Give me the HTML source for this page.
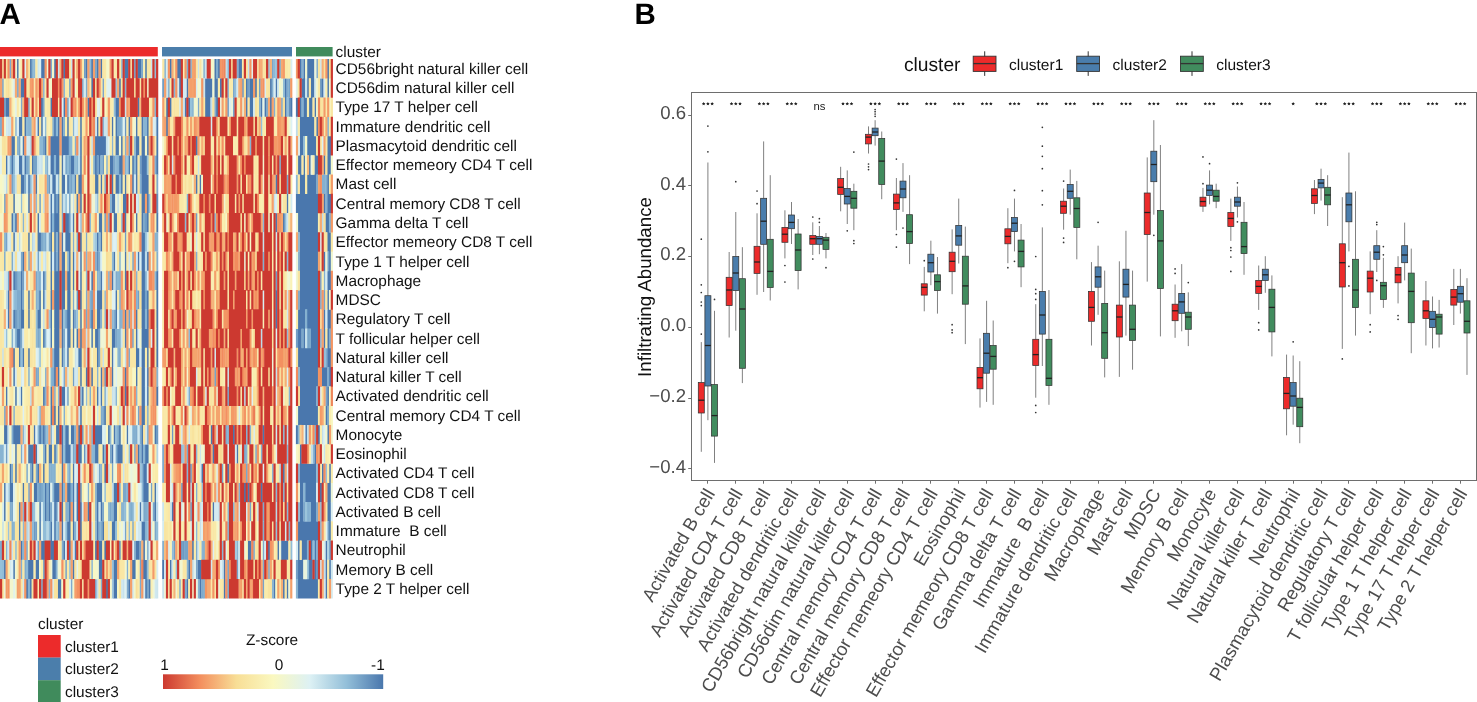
<!DOCTYPE html><html><head><meta charset="utf-8"><style>html,body{margin:0;padding:0;background:#fff;overflow:hidden}svg{display:block;will-change:transform}text{font-family:"Liberation Sans",sans-serif;text-rendering:geometricPrecision}</style></head><body>
<svg width="1477" height="702" viewBox="0 0 1477 702">
<text transform="translate(-0.50,23.70)" font-size="29.5" fill="#000" font-weight="bold" xml:space="preserve">A</text>
<text transform="translate(634.60,23.70)" font-size="29.5" fill="#000" font-weight="bold" xml:space="preserve">B</text>
<path fill="#4a77ad" d="M16.72 59.00h2.21v19.56h-2.21zM29.72 59.00h2.21v19.56h-2.21zM40.87 59.00h2.21v19.56h-2.21zM42.73 59.00h2.21v19.56h-2.21zM53.87 59.00h2.21v19.56h-2.21zM63.16 59.00h2.21v19.56h-2.21zM85.45 59.00h2.21v19.56h-2.21zM91.02 59.00h2.21v19.56h-2.21zM96.60 59.00h2.21v19.56h-2.21zM100.31 59.00h2.21v19.56h-2.21zM124.46 59.00h2.21v19.56h-2.21zM126.32 59.00h2.21v19.56h-2.21zM137.47 59.00h2.21v19.56h-2.21zM139.32 59.00h2.21v19.56h-2.21zM144.90 59.00h2.21v19.56h-2.21zM169.62 59.00h2.20v19.56h-2.20zM177.03 59.00h2.20v19.56h-2.20zM178.89 59.00h2.20v19.56h-2.20zM214.12 59.00h2.20v19.56h-2.20zM217.83 59.00h2.20v19.56h-2.20zM238.23 59.00h2.20v19.56h-2.20zM240.08 59.00h2.20v19.56h-2.20zM299.57 59.00h2.19v19.56h-2.19zM303.24 59.00h2.19v19.56h-2.19zM306.91 59.00h2.19v19.56h-2.19zM308.75 59.00h2.19v19.56h-2.19zM310.58 59.00h2.19v19.56h-2.19zM312.42 59.00h2.19v19.56h-2.19zM327.10 59.00h2.19v19.56h-2.19zM20.43 78.26h2.21v19.56h-2.21zM22.29 78.26h2.21v19.56h-2.21zM91.02 78.26h2.21v19.56h-2.21zM118.89 78.26h2.21v19.56h-2.21zM178.89 78.26h2.20v19.56h-2.20zM186.31 78.26h2.20v19.56h-2.20zM204.85 78.26h2.20v19.56h-2.20zM206.70 78.26h2.20v19.56h-2.20zM208.56 78.26h2.20v19.56h-2.20zM210.41 78.26h2.20v19.56h-2.20zM214.12 78.26h2.20v19.56h-2.20zM215.97 78.26h2.20v19.56h-2.20zM219.68 78.26h2.20v19.56h-2.20zM245.64 78.26h2.20v19.56h-2.20zM249.35 78.26h2.20v19.56h-2.20zM251.21 78.26h2.20v19.56h-2.20zM254.91 78.26h2.20v19.56h-2.20zM269.75 78.26h2.20v19.56h-2.20zM275.31 78.26h2.20v19.56h-2.20zM284.58 78.26h2.20v19.56h-2.20zM301.40 78.26h2.19v19.56h-2.19zM303.24 78.26h2.19v19.56h-2.19zM306.91 78.26h2.19v19.56h-2.19zM310.58 78.26h2.19v19.56h-2.19zM312.42 78.26h2.19v19.56h-2.19zM321.59 78.26h2.19v19.56h-2.19zM327.10 78.26h2.19v19.56h-2.19zM5.57 97.51h2.21v19.56h-2.21zM7.43 97.51h2.21v19.56h-2.21zM40.87 97.51h2.21v19.56h-2.21zM50.16 97.51h2.21v19.56h-2.21zM63.16 97.51h2.21v19.56h-2.21zM87.31 97.51h2.21v19.56h-2.21zM115.17 97.51h2.21v19.56h-2.21zM117.03 97.51h2.21v19.56h-2.21zM137.47 97.51h2.21v19.56h-2.21zM165.91 97.51h2.20v19.56h-2.20zM169.62 97.51h2.20v19.56h-2.20zM184.45 97.51h2.20v19.56h-2.20zM188.16 97.51h2.20v19.56h-2.20zM204.85 97.51h2.20v19.56h-2.20zM206.70 97.51h2.20v19.56h-2.20zM208.56 97.51h2.20v19.56h-2.20zM215.97 97.51h2.20v19.56h-2.20zM245.64 97.51h2.20v19.56h-2.20zM249.35 97.51h2.20v19.56h-2.20zM251.21 97.51h2.20v19.56h-2.20zM260.48 97.51h2.20v19.56h-2.20zM264.19 97.51h2.20v19.56h-2.20zM269.75 97.51h2.20v19.56h-2.20zM284.58 97.51h2.20v19.56h-2.20zM290.15 97.51h2.20v19.56h-2.20zM295.90 97.51h2.19v19.56h-2.19zM299.57 97.51h2.19v19.56h-2.19zM303.24 97.51h2.19v19.56h-2.19zM305.07 97.51h2.19v19.56h-2.19zM308.75 97.51h2.19v19.56h-2.19zM310.58 97.51h2.19v19.56h-2.19zM314.25 97.51h2.19v19.56h-2.19zM18.58 116.77h2.21v19.56h-2.21zM20.43 116.77h2.21v19.56h-2.21zM24.15 116.77h2.21v19.56h-2.21zM37.15 116.77h2.21v19.56h-2.21zM40.87 116.77h2.21v19.56h-2.21zM53.87 116.77h2.21v19.56h-2.21zM57.59 116.77h2.21v19.56h-2.21zM61.30 116.77h2.21v19.56h-2.21zM66.88 116.77h2.21v19.56h-2.21zM79.88 116.77h2.21v19.56h-2.21zM96.60 116.77h2.21v19.56h-2.21zM111.46 116.77h2.21v19.56h-2.21zM115.17 116.77h2.21v19.56h-2.21zM128.18 116.77h2.21v19.56h-2.21zM135.61 116.77h2.21v19.56h-2.21zM141.18 116.77h2.21v19.56h-2.21zM146.75 116.77h2.21v19.56h-2.21zM156.04 116.77h2.21v19.56h-2.21zM165.91 116.77h2.20v19.56h-2.20zM299.57 116.77h2.19v19.56h-2.19zM301.40 116.77h2.19v19.56h-2.19zM303.24 116.77h2.19v19.56h-2.19zM305.07 116.77h2.19v19.56h-2.19zM306.91 116.77h2.19v19.56h-2.19zM308.75 116.77h2.19v19.56h-2.19zM310.58 116.77h2.19v19.56h-2.19zM312.42 116.77h2.19v19.56h-2.19zM316.08 116.77h2.19v19.56h-2.19zM11.15 136.03h2.21v19.56h-2.21zM13.00 136.03h2.21v19.56h-2.21zM22.29 136.03h2.21v19.56h-2.21zM44.58 136.03h2.21v19.56h-2.21zM50.16 136.03h2.21v19.56h-2.21zM52.01 136.03h2.21v19.56h-2.21zM53.87 136.03h2.21v19.56h-2.21zM55.73 136.03h2.21v19.56h-2.21zM57.59 136.03h2.21v19.56h-2.21zM61.30 136.03h2.21v19.56h-2.21zM63.16 136.03h2.21v19.56h-2.21zM65.02 136.03h2.21v19.56h-2.21zM66.88 136.03h2.21v19.56h-2.21zM79.88 136.03h2.21v19.56h-2.21zM94.74 136.03h2.21v19.56h-2.21zM96.60 136.03h2.21v19.56h-2.21zM98.46 136.03h2.21v19.56h-2.21zM100.31 136.03h2.21v19.56h-2.21zM102.17 136.03h2.21v19.56h-2.21zM104.03 136.03h2.21v19.56h-2.21zM115.17 136.03h2.21v19.56h-2.21zM117.03 136.03h2.21v19.56h-2.21zM120.75 136.03h2.21v19.56h-2.21zM135.61 136.03h2.21v19.56h-2.21zM137.47 136.03h2.21v19.56h-2.21zM141.18 136.03h2.21v19.56h-2.21zM143.04 136.03h2.21v19.56h-2.21zM146.75 136.03h2.21v19.56h-2.21zM156.04 136.03h2.21v19.56h-2.21zM195.58 136.03h2.20v19.56h-2.20zM299.57 136.03h2.19v19.56h-2.19zM301.40 136.03h2.19v19.56h-2.19zM306.91 136.03h2.19v19.56h-2.19zM308.75 136.03h2.19v19.56h-2.19zM310.58 136.03h2.19v19.56h-2.19zM312.42 136.03h2.19v19.56h-2.19zM314.25 136.03h2.19v19.56h-2.19zM327.10 136.03h2.19v19.56h-2.19zM328.93 136.03h2.19v19.56h-2.19zM5.57 155.29h2.21v19.56h-2.21zM11.15 155.29h2.21v19.56h-2.21zM18.58 155.29h2.21v19.56h-2.21zM20.43 155.29h2.21v19.56h-2.21zM24.15 155.29h2.21v19.56h-2.21zM31.58 155.29h2.21v19.56h-2.21zM50.16 155.29h2.21v19.56h-2.21zM52.01 155.29h2.21v19.56h-2.21zM55.73 155.29h2.21v19.56h-2.21zM57.59 155.29h2.21v19.56h-2.21zM61.30 155.29h2.21v19.56h-2.21zM70.59 155.29h2.21v19.56h-2.21zM72.45 155.29h2.21v19.56h-2.21zM79.88 155.29h2.21v19.56h-2.21zM94.74 155.29h2.21v19.56h-2.21zM98.46 155.29h2.21v19.56h-2.21zM109.60 155.29h2.21v19.56h-2.21zM111.46 155.29h2.21v19.56h-2.21zM118.89 155.29h2.21v19.56h-2.21zM120.75 155.29h2.21v19.56h-2.21zM128.18 155.29h2.21v19.56h-2.21zM131.89 155.29h2.21v19.56h-2.21zM135.61 155.29h2.21v19.56h-2.21zM141.18 155.29h2.21v19.56h-2.21zM143.04 155.29h2.21v19.56h-2.21zM144.90 155.29h2.21v19.56h-2.21zM156.04 155.29h2.21v19.56h-2.21zM297.73 155.29h2.19v19.56h-2.19zM299.57 155.29h2.19v19.56h-2.19zM303.24 155.29h2.19v19.56h-2.19zM308.75 155.29h2.19v19.56h-2.19zM314.25 155.29h2.19v19.56h-2.19zM316.08 155.29h2.19v19.56h-2.19zM323.43 155.29h2.19v19.56h-2.19zM327.10 155.29h2.19v19.56h-2.19zM328.93 155.29h2.19v19.56h-2.19zM20.43 174.54h2.21v19.56h-2.21zM22.29 174.54h2.21v19.56h-2.21zM27.86 174.54h2.21v19.56h-2.21zM35.30 174.54h2.21v19.56h-2.21zM52.01 174.54h2.21v19.56h-2.21zM53.87 174.54h2.21v19.56h-2.21zM61.30 174.54h2.21v19.56h-2.21zM63.16 174.54h2.21v19.56h-2.21zM66.88 174.54h2.21v19.56h-2.21zM74.31 174.54h2.21v19.56h-2.21zM78.02 174.54h2.21v19.56h-2.21zM79.88 174.54h2.21v19.56h-2.21zM94.74 174.54h2.21v19.56h-2.21zM96.60 174.54h2.21v19.56h-2.21zM100.31 174.54h2.21v19.56h-2.21zM111.46 174.54h2.21v19.56h-2.21zM115.17 174.54h2.21v19.56h-2.21zM117.03 174.54h2.21v19.56h-2.21zM120.75 174.54h2.21v19.56h-2.21zM124.46 174.54h2.21v19.56h-2.21zM131.89 174.54h2.21v19.56h-2.21zM135.61 174.54h2.21v19.56h-2.21zM141.18 174.54h2.21v19.56h-2.21zM143.04 174.54h2.21v19.56h-2.21zM144.90 174.54h2.21v19.56h-2.21zM146.75 174.54h2.21v19.56h-2.21zM195.58 174.54h2.20v19.56h-2.20zM199.29 174.54h2.20v19.56h-2.20zM275.31 174.54h2.20v19.56h-2.20zM299.57 174.54h2.19v19.56h-2.19zM301.40 174.54h2.19v19.56h-2.19zM303.24 174.54h2.19v19.56h-2.19zM306.91 174.54h2.19v19.56h-2.19zM308.75 174.54h2.19v19.56h-2.19zM310.58 174.54h2.19v19.56h-2.19zM312.42 174.54h2.19v19.56h-2.19zM314.25 174.54h2.19v19.56h-2.19zM327.10 174.54h2.19v19.56h-2.19zM13.00 193.80h2.21v19.56h-2.21zM27.86 193.80h2.21v19.56h-2.21zM50.16 193.80h2.21v19.56h-2.21zM53.87 193.80h2.21v19.56h-2.21zM57.59 193.80h2.21v19.56h-2.21zM76.16 193.80h2.21v19.56h-2.21zM79.88 193.80h2.21v19.56h-2.21zM111.46 193.80h2.21v19.56h-2.21zM113.32 193.80h2.21v19.56h-2.21zM122.60 193.80h2.21v19.56h-2.21zM124.46 193.80h2.21v19.56h-2.21zM141.18 193.80h2.21v19.56h-2.21zM143.04 193.80h2.21v19.56h-2.21zM146.75 193.80h2.21v19.56h-2.21zM286.44 193.80h2.20v19.56h-2.20zM295.90 193.80h2.19v19.56h-2.19zM297.73 193.80h2.19v19.56h-2.19zM299.57 193.80h2.19v19.56h-2.19zM301.40 193.80h2.19v19.56h-2.19zM303.24 193.80h2.19v19.56h-2.19zM305.07 193.80h2.19v19.56h-2.19zM306.91 193.80h2.19v19.56h-2.19zM308.75 193.80h2.19v19.56h-2.19zM310.58 193.80h2.19v19.56h-2.19zM312.42 193.80h2.19v19.56h-2.19zM314.25 193.80h2.19v19.56h-2.19zM316.08 193.80h2.19v19.56h-2.19zM323.43 193.80h2.19v19.56h-2.19zM327.10 193.80h2.19v19.56h-2.19zM328.93 193.80h2.19v19.56h-2.19zM11.15 213.06h2.21v19.56h-2.21zM14.86 213.06h2.21v19.56h-2.21zM37.15 213.06h2.21v19.56h-2.21zM50.16 213.06h2.21v19.56h-2.21zM53.87 213.06h2.21v19.56h-2.21zM55.73 213.06h2.21v19.56h-2.21zM57.59 213.06h2.21v19.56h-2.21zM65.02 213.06h2.21v19.56h-2.21zM66.88 213.06h2.21v19.56h-2.21zM72.45 213.06h2.21v19.56h-2.21zM98.46 213.06h2.21v19.56h-2.21zM100.31 213.06h2.21v19.56h-2.21zM113.32 213.06h2.21v19.56h-2.21zM115.17 213.06h2.21v19.56h-2.21zM124.46 213.06h2.21v19.56h-2.21zM135.61 213.06h2.21v19.56h-2.21zM141.18 213.06h2.21v19.56h-2.21zM146.75 213.06h2.21v19.56h-2.21zM156.04 213.06h2.21v19.56h-2.21zM275.31 213.06h2.20v19.56h-2.20zM282.73 213.06h2.20v19.56h-2.20zM297.73 213.06h2.19v19.56h-2.19zM299.57 213.06h2.19v19.56h-2.19zM301.40 213.06h2.19v19.56h-2.19zM303.24 213.06h2.19v19.56h-2.19zM305.07 213.06h2.19v19.56h-2.19zM306.91 213.06h2.19v19.56h-2.19zM308.75 213.06h2.19v19.56h-2.19zM310.58 213.06h2.19v19.56h-2.19zM312.42 213.06h2.19v19.56h-2.19zM314.25 213.06h2.19v19.56h-2.19zM316.08 213.06h2.19v19.56h-2.19zM325.26 213.06h2.19v19.56h-2.19zM327.10 213.06h2.19v19.56h-2.19zM13.00 232.31h2.21v19.56h-2.21zM27.86 232.31h2.21v19.56h-2.21zM37.15 232.31h2.21v19.56h-2.21zM39.01 232.31h2.21v19.56h-2.21zM50.16 232.31h2.21v19.56h-2.21zM53.87 232.31h2.21v19.56h-2.21zM57.59 232.31h2.21v19.56h-2.21zM61.30 232.31h2.21v19.56h-2.21zM65.02 232.31h2.21v19.56h-2.21zM66.88 232.31h2.21v19.56h-2.21zM68.73 232.31h2.21v19.56h-2.21zM79.88 232.31h2.21v19.56h-2.21zM96.60 232.31h2.21v19.56h-2.21zM100.31 232.31h2.21v19.56h-2.21zM141.18 232.31h2.21v19.56h-2.21zM143.04 232.31h2.21v19.56h-2.21zM299.57 232.31h2.19v19.56h-2.19zM301.40 232.31h2.19v19.56h-2.19zM303.24 232.31h2.19v19.56h-2.19zM305.07 232.31h2.19v19.56h-2.19zM306.91 232.31h2.19v19.56h-2.19zM308.75 232.31h2.19v19.56h-2.19zM310.58 232.31h2.19v19.56h-2.19zM312.42 232.31h2.19v19.56h-2.19zM314.25 232.31h2.19v19.56h-2.19zM316.08 232.31h2.19v19.56h-2.19zM327.10 232.31h2.19v19.56h-2.19zM328.93 232.31h2.19v19.56h-2.19zM22.29 251.57h2.21v19.56h-2.21zM50.16 251.57h2.21v19.56h-2.21zM53.87 251.57h2.21v19.56h-2.21zM57.59 251.57h2.21v19.56h-2.21zM61.30 251.57h2.21v19.56h-2.21zM63.16 251.57h2.21v19.56h-2.21zM68.73 251.57h2.21v19.56h-2.21zM72.45 251.57h2.21v19.56h-2.21zM79.88 251.57h2.21v19.56h-2.21zM113.32 251.57h2.21v19.56h-2.21zM124.46 251.57h2.21v19.56h-2.21zM137.47 251.57h2.21v19.56h-2.21zM141.18 251.57h2.21v19.56h-2.21zM143.04 251.57h2.21v19.56h-2.21zM146.75 251.57h2.21v19.56h-2.21zM299.57 251.57h2.19v19.56h-2.19zM301.40 251.57h2.19v19.56h-2.19zM303.24 251.57h2.19v19.56h-2.19zM305.07 251.57h2.19v19.56h-2.19zM306.91 251.57h2.19v19.56h-2.19zM308.75 251.57h2.19v19.56h-2.19zM310.58 251.57h2.19v19.56h-2.19zM312.42 251.57h2.19v19.56h-2.19zM314.25 251.57h2.19v19.56h-2.19zM316.08 251.57h2.19v19.56h-2.19zM323.43 251.57h2.19v19.56h-2.19zM328.93 251.57h2.19v19.56h-2.19zM13.00 270.83h2.21v19.56h-2.21zM20.43 270.83h2.21v19.56h-2.21zM42.73 270.83h2.21v19.56h-2.21zM50.16 270.83h2.21v19.56h-2.21zM53.87 270.83h2.21v19.56h-2.21zM55.73 270.83h2.21v19.56h-2.21zM57.59 270.83h2.21v19.56h-2.21zM61.30 270.83h2.21v19.56h-2.21zM63.16 270.83h2.21v19.56h-2.21zM66.88 270.83h2.21v19.56h-2.21zM68.73 270.83h2.21v19.56h-2.21zM72.45 270.83h2.21v19.56h-2.21zM79.88 270.83h2.21v19.56h-2.21zM91.02 270.83h2.21v19.56h-2.21zM100.31 270.83h2.21v19.56h-2.21zM111.46 270.83h2.21v19.56h-2.21zM124.46 270.83h2.21v19.56h-2.21zM141.18 270.83h2.21v19.56h-2.21zM143.04 270.83h2.21v19.56h-2.21zM156.04 270.83h2.21v19.56h-2.21zM299.57 270.83h2.19v19.56h-2.19zM301.40 270.83h2.19v19.56h-2.19zM303.24 270.83h2.19v19.56h-2.19zM305.07 270.83h2.19v19.56h-2.19zM306.91 270.83h2.19v19.56h-2.19zM308.75 270.83h2.19v19.56h-2.19zM310.58 270.83h2.19v19.56h-2.19zM312.42 270.83h2.19v19.56h-2.19zM314.25 270.83h2.19v19.56h-2.19zM316.08 270.83h2.19v19.56h-2.19zM327.10 270.83h2.19v19.56h-2.19zM328.93 270.83h2.19v19.56h-2.19zM7.43 290.09h2.21v19.56h-2.21zM20.43 290.09h2.21v19.56h-2.21zM27.86 290.09h2.21v19.56h-2.21zM39.01 290.09h2.21v19.56h-2.21zM42.73 290.09h2.21v19.56h-2.21zM50.16 290.09h2.21v19.56h-2.21zM53.87 290.09h2.21v19.56h-2.21zM55.73 290.09h2.21v19.56h-2.21zM57.59 290.09h2.21v19.56h-2.21zM61.30 290.09h2.21v19.56h-2.21zM63.16 290.09h2.21v19.56h-2.21zM66.88 290.09h2.21v19.56h-2.21zM68.73 290.09h2.21v19.56h-2.21zM79.88 290.09h2.21v19.56h-2.21zM96.60 290.09h2.21v19.56h-2.21zM98.46 290.09h2.21v19.56h-2.21zM100.31 290.09h2.21v19.56h-2.21zM115.17 290.09h2.21v19.56h-2.21zM141.18 290.09h2.21v19.56h-2.21zM143.04 290.09h2.21v19.56h-2.21zM146.75 290.09h2.21v19.56h-2.21zM156.04 290.09h2.21v19.56h-2.21zM275.31 290.09h2.20v19.56h-2.20zM299.57 290.09h2.19v19.56h-2.19zM301.40 290.09h2.19v19.56h-2.19zM303.24 290.09h2.19v19.56h-2.19zM305.07 290.09h2.19v19.56h-2.19zM306.91 290.09h2.19v19.56h-2.19zM308.75 290.09h2.19v19.56h-2.19zM310.58 290.09h2.19v19.56h-2.19zM312.42 290.09h2.19v19.56h-2.19zM314.25 290.09h2.19v19.56h-2.19zM316.08 290.09h2.19v19.56h-2.19zM327.10 290.09h2.19v19.56h-2.19zM7.43 309.34h2.21v19.56h-2.21zM13.00 309.34h2.21v19.56h-2.21zM20.43 309.34h2.21v19.56h-2.21zM22.29 309.34h2.21v19.56h-2.21zM27.86 309.34h2.21v19.56h-2.21zM37.15 309.34h2.21v19.56h-2.21zM39.01 309.34h2.21v19.56h-2.21zM50.16 309.34h2.21v19.56h-2.21zM53.87 309.34h2.21v19.56h-2.21zM55.73 309.34h2.21v19.56h-2.21zM57.59 309.34h2.21v19.56h-2.21zM61.30 309.34h2.21v19.56h-2.21zM66.88 309.34h2.21v19.56h-2.21zM68.73 309.34h2.21v19.56h-2.21zM72.45 309.34h2.21v19.56h-2.21zM79.88 309.34h2.21v19.56h-2.21zM91.02 309.34h2.21v19.56h-2.21zM96.60 309.34h2.21v19.56h-2.21zM98.46 309.34h2.21v19.56h-2.21zM115.17 309.34h2.21v19.56h-2.21zM124.46 309.34h2.21v19.56h-2.21zM135.61 309.34h2.21v19.56h-2.21zM141.18 309.34h2.21v19.56h-2.21zM143.04 309.34h2.21v19.56h-2.21zM146.75 309.34h2.21v19.56h-2.21zM156.04 309.34h2.21v19.56h-2.21zM275.31 309.34h2.20v19.56h-2.20zM297.73 309.34h2.19v19.56h-2.19zM299.57 309.34h2.19v19.56h-2.19zM301.40 309.34h2.19v19.56h-2.19zM303.24 309.34h2.19v19.56h-2.19zM306.91 309.34h2.19v19.56h-2.19zM308.75 309.34h2.19v19.56h-2.19zM310.58 309.34h2.19v19.56h-2.19zM312.42 309.34h2.19v19.56h-2.19zM314.25 309.34h2.19v19.56h-2.19zM316.08 309.34h2.19v19.56h-2.19zM323.43 309.34h2.19v19.56h-2.19zM327.10 309.34h2.19v19.56h-2.19zM328.93 309.34h2.19v19.56h-2.19zM16.72 328.60h2.21v19.56h-2.21zM18.58 328.60h2.21v19.56h-2.21zM42.73 328.60h2.21v19.56h-2.21zM50.16 328.60h2.21v19.56h-2.21zM53.87 328.60h2.21v19.56h-2.21zM55.73 328.60h2.21v19.56h-2.21zM57.59 328.60h2.21v19.56h-2.21zM61.30 328.60h2.21v19.56h-2.21zM66.88 328.60h2.21v19.56h-2.21zM68.73 328.60h2.21v19.56h-2.21zM72.45 328.60h2.21v19.56h-2.21zM76.16 328.60h2.21v19.56h-2.21zM79.88 328.60h2.21v19.56h-2.21zM91.02 328.60h2.21v19.56h-2.21zM94.74 328.60h2.21v19.56h-2.21zM96.60 328.60h2.21v19.56h-2.21zM111.46 328.60h2.21v19.56h-2.21zM113.32 328.60h2.21v19.56h-2.21zM124.46 328.60h2.21v19.56h-2.21zM135.61 328.60h2.21v19.56h-2.21zM141.18 328.60h2.21v19.56h-2.21zM143.04 328.60h2.21v19.56h-2.21zM144.90 328.60h2.21v19.56h-2.21zM146.75 328.60h2.21v19.56h-2.21zM156.04 328.60h2.21v19.56h-2.21zM297.73 328.60h2.19v19.56h-2.19zM299.57 328.60h2.19v19.56h-2.19zM303.24 328.60h2.19v19.56h-2.19zM310.58 328.60h2.19v19.56h-2.19zM312.42 328.60h2.19v19.56h-2.19zM314.25 328.60h2.19v19.56h-2.19zM316.08 328.60h2.19v19.56h-2.19zM323.43 328.60h2.19v19.56h-2.19zM327.10 328.60h2.19v19.56h-2.19zM13.00 347.86h2.21v19.56h-2.21zM18.58 347.86h2.21v19.56h-2.21zM22.29 347.86h2.21v19.56h-2.21zM27.86 347.86h2.21v19.56h-2.21zM53.87 347.86h2.21v19.56h-2.21zM55.73 347.86h2.21v19.56h-2.21zM57.59 347.86h2.21v19.56h-2.21zM61.30 347.86h2.21v19.56h-2.21zM66.88 347.86h2.21v19.56h-2.21zM78.02 347.86h2.21v19.56h-2.21zM79.88 347.86h2.21v19.56h-2.21zM96.60 347.86h2.21v19.56h-2.21zM111.46 347.86h2.21v19.56h-2.21zM135.61 347.86h2.21v19.56h-2.21zM137.47 347.86h2.21v19.56h-2.21zM141.18 347.86h2.21v19.56h-2.21zM143.04 347.86h2.21v19.56h-2.21zM146.75 347.86h2.21v19.56h-2.21zM156.04 347.86h2.21v19.56h-2.21zM297.73 347.86h2.19v19.56h-2.19zM299.57 347.86h2.19v19.56h-2.19zM301.40 347.86h2.19v19.56h-2.19zM303.24 347.86h2.19v19.56h-2.19zM305.07 347.86h2.19v19.56h-2.19zM306.91 347.86h2.19v19.56h-2.19zM308.75 347.86h2.19v19.56h-2.19zM310.58 347.86h2.19v19.56h-2.19zM312.42 347.86h2.19v19.56h-2.19zM314.25 347.86h2.19v19.56h-2.19zM316.08 347.86h2.19v19.56h-2.19zM327.10 347.86h2.19v19.56h-2.19zM328.93 347.86h2.19v19.56h-2.19zM13.00 367.11h2.21v19.56h-2.21zM53.87 367.11h2.21v19.56h-2.21zM57.59 367.11h2.21v19.56h-2.21zM79.88 367.11h2.21v19.56h-2.21zM85.45 367.11h2.21v19.56h-2.21zM91.02 367.11h2.21v19.56h-2.21zM100.31 367.11h2.21v19.56h-2.21zM111.46 367.11h2.21v19.56h-2.21zM124.46 367.11h2.21v19.56h-2.21zM135.61 367.11h2.21v19.56h-2.21zM141.18 367.11h2.21v19.56h-2.21zM143.04 367.11h2.21v19.56h-2.21zM146.75 367.11h2.21v19.56h-2.21zM299.57 367.11h2.19v19.56h-2.19zM301.40 367.11h2.19v19.56h-2.19zM303.24 367.11h2.19v19.56h-2.19zM305.07 367.11h2.19v19.56h-2.19zM306.91 367.11h2.19v19.56h-2.19zM308.75 367.11h2.19v19.56h-2.19zM310.58 367.11h2.19v19.56h-2.19zM312.42 367.11h2.19v19.56h-2.19zM314.25 367.11h2.19v19.56h-2.19zM316.08 367.11h2.19v19.56h-2.19zM321.59 367.11h2.19v19.56h-2.19zM323.43 367.11h2.19v19.56h-2.19zM325.26 367.11h2.19v19.56h-2.19zM328.93 367.11h2.19v19.56h-2.19zM5.57 386.37h2.21v19.56h-2.21zM14.86 386.37h2.21v19.56h-2.21zM20.43 386.37h2.21v19.56h-2.21zM42.73 386.37h2.21v19.56h-2.21zM50.16 386.37h2.21v19.56h-2.21zM61.30 386.37h2.21v19.56h-2.21zM63.16 386.37h2.21v19.56h-2.21zM81.74 386.37h2.21v19.56h-2.21zM96.60 386.37h2.21v19.56h-2.21zM100.31 386.37h2.21v19.56h-2.21zM124.46 386.37h2.21v19.56h-2.21zM141.18 386.37h2.21v19.56h-2.21zM143.04 386.37h2.21v19.56h-2.21zM146.75 386.37h2.21v19.56h-2.21zM156.04 386.37h2.21v19.56h-2.21zM299.57 386.37h2.19v19.56h-2.19zM301.40 386.37h2.19v19.56h-2.19zM303.24 386.37h2.19v19.56h-2.19zM305.07 386.37h2.19v19.56h-2.19zM306.91 386.37h2.19v19.56h-2.19zM308.75 386.37h2.19v19.56h-2.19zM310.58 386.37h2.19v19.56h-2.19zM312.42 386.37h2.19v19.56h-2.19zM314.25 386.37h2.19v19.56h-2.19zM327.10 386.37h2.19v19.56h-2.19zM50.16 405.63h2.21v19.56h-2.21zM53.87 405.63h2.21v19.56h-2.21zM57.59 405.63h2.21v19.56h-2.21zM79.88 405.63h2.21v19.56h-2.21zM104.03 405.63h2.21v19.56h-2.21zM141.18 405.63h2.21v19.56h-2.21zM143.04 405.63h2.21v19.56h-2.21zM297.73 405.63h2.19v19.56h-2.19zM299.57 405.63h2.19v19.56h-2.19zM301.40 405.63h2.19v19.56h-2.19zM303.24 405.63h2.19v19.56h-2.19zM305.07 405.63h2.19v19.56h-2.19zM306.91 405.63h2.19v19.56h-2.19zM308.75 405.63h2.19v19.56h-2.19zM310.58 405.63h2.19v19.56h-2.19zM312.42 405.63h2.19v19.56h-2.19zM314.25 405.63h2.19v19.56h-2.19zM316.08 405.63h2.19v19.56h-2.19zM325.26 405.63h2.19v19.56h-2.19zM3.72 424.89h2.21v19.56h-2.21zM5.57 424.89h2.21v19.56h-2.21zM13.00 424.89h2.21v19.56h-2.21zM14.86 424.89h2.21v19.56h-2.21zM16.72 424.89h2.21v19.56h-2.21zM18.58 424.89h2.21v19.56h-2.21zM33.44 424.89h2.21v19.56h-2.21zM39.01 424.89h2.21v19.56h-2.21zM42.73 424.89h2.21v19.56h-2.21zM55.73 424.89h2.21v19.56h-2.21zM57.59 424.89h2.21v19.56h-2.21zM61.30 424.89h2.21v19.56h-2.21zM65.02 424.89h2.21v19.56h-2.21zM66.88 424.89h2.21v19.56h-2.21zM70.59 424.89h2.21v19.56h-2.21zM72.45 424.89h2.21v19.56h-2.21zM78.02 424.89h2.21v19.56h-2.21zM94.74 424.89h2.21v19.56h-2.21zM96.60 424.89h2.21v19.56h-2.21zM98.46 424.89h2.21v19.56h-2.21zM100.31 424.89h2.21v19.56h-2.21zM107.74 424.89h2.21v19.56h-2.21zM113.32 424.89h2.21v19.56h-2.21zM118.89 424.89h2.21v19.56h-2.21zM126.32 424.89h2.21v19.56h-2.21zM141.18 424.89h2.21v19.56h-2.21zM154.18 424.89h2.21v19.56h-2.21zM210.41 424.89h2.20v19.56h-2.20zM232.66 424.89h2.20v19.56h-2.20zM262.33 424.89h2.20v19.56h-2.20zM295.90 424.89h2.19v19.56h-2.19zM305.07 424.89h2.19v19.56h-2.19zM317.92 424.89h2.19v19.56h-2.19zM327.10 424.89h2.19v19.56h-2.19zM14.86 444.14h2.21v19.56h-2.21zM27.86 444.14h2.21v19.56h-2.21zM29.72 444.14h2.21v19.56h-2.21zM31.58 444.14h2.21v19.56h-2.21zM35.30 444.14h2.21v19.56h-2.21zM44.58 444.14h2.21v19.56h-2.21zM48.30 444.14h2.21v19.56h-2.21zM50.16 444.14h2.21v19.56h-2.21zM53.87 444.14h2.21v19.56h-2.21zM61.30 444.14h2.21v19.56h-2.21zM65.02 444.14h2.21v19.56h-2.21zM66.88 444.14h2.21v19.56h-2.21zM68.73 444.14h2.21v19.56h-2.21zM78.02 444.14h2.21v19.56h-2.21zM79.88 444.14h2.21v19.56h-2.21zM94.74 444.14h2.21v19.56h-2.21zM96.60 444.14h2.21v19.56h-2.21zM102.17 444.14h2.21v19.56h-2.21zM111.46 444.14h2.21v19.56h-2.21zM117.03 444.14h2.21v19.56h-2.21zM118.89 444.14h2.21v19.56h-2.21zM120.75 444.14h2.21v19.56h-2.21zM137.47 444.14h2.21v19.56h-2.21zM141.18 444.14h2.21v19.56h-2.21zM144.90 444.14h2.21v19.56h-2.21zM146.75 444.14h2.21v19.56h-2.21zM212.27 444.14h2.20v19.56h-2.20zM236.37 444.14h2.20v19.56h-2.20zM299.57 444.14h2.19v19.56h-2.19zM314.25 444.14h2.19v19.56h-2.19zM9.29 463.40h2.21v19.56h-2.21zM14.86 463.40h2.21v19.56h-2.21zM31.58 463.40h2.21v19.56h-2.21zM37.15 463.40h2.21v19.56h-2.21zM42.73 463.40h2.21v19.56h-2.21zM61.30 463.40h2.21v19.56h-2.21zM72.45 463.40h2.21v19.56h-2.21zM104.03 463.40h2.21v19.56h-2.21zM143.04 463.40h2.21v19.56h-2.21zM144.90 463.40h2.21v19.56h-2.21zM201.14 463.40h2.20v19.56h-2.20zM227.10 463.40h2.20v19.56h-2.20zM282.73 463.40h2.20v19.56h-2.20zM299.57 463.40h2.19v19.56h-2.19zM301.40 463.40h2.19v19.56h-2.19zM303.24 463.40h2.19v19.56h-2.19zM305.07 463.40h2.19v19.56h-2.19zM306.91 463.40h2.19v19.56h-2.19zM308.75 463.40h2.19v19.56h-2.19zM310.58 463.40h2.19v19.56h-2.19zM312.42 463.40h2.19v19.56h-2.19zM314.25 463.40h2.19v19.56h-2.19zM321.59 463.40h2.19v19.56h-2.19zM328.93 463.40h2.19v19.56h-2.19zM3.72 482.66h2.21v19.56h-2.21zM9.29 482.66h2.21v19.56h-2.21zM11.15 482.66h2.21v19.56h-2.21zM22.29 482.66h2.21v19.56h-2.21zM33.44 482.66h2.21v19.56h-2.21zM35.30 482.66h2.21v19.56h-2.21zM44.58 482.66h2.21v19.56h-2.21zM48.30 482.66h2.21v19.56h-2.21zM53.87 482.66h2.21v19.56h-2.21zM55.73 482.66h2.21v19.56h-2.21zM57.59 482.66h2.21v19.56h-2.21zM61.30 482.66h2.21v19.56h-2.21zM66.88 482.66h2.21v19.56h-2.21zM68.73 482.66h2.21v19.56h-2.21zM72.45 482.66h2.21v19.56h-2.21zM76.16 482.66h2.21v19.56h-2.21zM96.60 482.66h2.21v19.56h-2.21zM98.46 482.66h2.21v19.56h-2.21zM100.31 482.66h2.21v19.56h-2.21zM113.32 482.66h2.21v19.56h-2.21zM115.17 482.66h2.21v19.56h-2.21zM143.04 482.66h2.21v19.56h-2.21zM144.90 482.66h2.21v19.56h-2.21zM146.75 482.66h2.21v19.56h-2.21zM154.18 482.66h2.21v19.56h-2.21zM243.79 482.66h2.20v19.56h-2.20zM247.50 482.66h2.20v19.56h-2.20zM260.48 482.66h2.20v19.56h-2.20zM299.57 482.66h2.19v19.56h-2.19zM301.40 482.66h2.19v19.56h-2.19zM305.07 482.66h2.19v19.56h-2.19zM306.91 482.66h2.19v19.56h-2.19zM308.75 482.66h2.19v19.56h-2.19zM310.58 482.66h2.19v19.56h-2.19zM312.42 482.66h2.19v19.56h-2.19zM314.25 482.66h2.19v19.56h-2.19zM319.75 482.66h2.19v19.56h-2.19zM327.10 482.66h2.19v19.56h-2.19zM328.93 482.66h2.19v19.56h-2.19zM3.72 501.91h2.21v19.56h-2.21zM18.58 501.91h2.21v19.56h-2.21zM39.01 501.91h2.21v19.56h-2.21zM44.58 501.91h2.21v19.56h-2.21zM48.30 501.91h2.21v19.56h-2.21zM53.87 501.91h2.21v19.56h-2.21zM61.30 501.91h2.21v19.56h-2.21zM68.73 501.91h2.21v19.56h-2.21zM72.45 501.91h2.21v19.56h-2.21zM76.16 501.91h2.21v19.56h-2.21zM79.88 501.91h2.21v19.56h-2.21zM87.31 501.91h2.21v19.56h-2.21zM96.60 501.91h2.21v19.56h-2.21zM100.31 501.91h2.21v19.56h-2.21zM113.32 501.91h2.21v19.56h-2.21zM115.17 501.91h2.21v19.56h-2.21zM139.32 501.91h2.21v19.56h-2.21zM154.18 501.91h2.21v19.56h-2.21zM171.47 501.91h2.20v19.56h-2.20zM212.27 501.91h2.20v19.56h-2.20zM299.57 501.91h2.19v19.56h-2.19zM301.40 501.91h2.19v19.56h-2.19zM310.58 501.91h2.19v19.56h-2.19zM312.42 501.91h2.19v19.56h-2.19zM314.25 501.91h2.19v19.56h-2.19zM327.10 501.91h2.19v19.56h-2.19zM328.93 501.91h2.19v19.56h-2.19zM18.58 521.17h2.21v19.56h-2.21zM39.01 521.17h2.21v19.56h-2.21zM50.16 521.17h2.21v19.56h-2.21zM53.87 521.17h2.21v19.56h-2.21zM61.30 521.17h2.21v19.56h-2.21zM66.88 521.17h2.21v19.56h-2.21zM68.73 521.17h2.21v19.56h-2.21zM72.45 521.17h2.21v19.56h-2.21zM79.88 521.17h2.21v19.56h-2.21zM96.60 521.17h2.21v19.56h-2.21zM102.17 521.17h2.21v19.56h-2.21zM111.46 521.17h2.21v19.56h-2.21zM113.32 521.17h2.21v19.56h-2.21zM141.18 521.17h2.21v19.56h-2.21zM143.04 521.17h2.21v19.56h-2.21zM297.73 521.17h2.19v19.56h-2.19zM299.57 521.17h2.19v19.56h-2.19zM301.40 521.17h2.19v19.56h-2.19zM303.24 521.17h2.19v19.56h-2.19zM305.07 521.17h2.19v19.56h-2.19zM306.91 521.17h2.19v19.56h-2.19zM308.75 521.17h2.19v19.56h-2.19zM310.58 521.17h2.19v19.56h-2.19zM312.42 521.17h2.19v19.56h-2.19zM314.25 521.17h2.19v19.56h-2.19zM316.08 521.17h2.19v19.56h-2.19zM328.93 521.17h2.19v19.56h-2.19zM20.43 540.43h2.21v19.56h-2.21zM40.87 540.43h2.21v19.56h-2.21zM42.73 540.43h2.21v19.56h-2.21zM50.16 540.43h2.21v19.56h-2.21zM52.01 540.43h2.21v19.56h-2.21zM63.16 540.43h2.21v19.56h-2.21zM68.73 540.43h2.21v19.56h-2.21zM74.31 540.43h2.21v19.56h-2.21zM94.74 540.43h2.21v19.56h-2.21zM98.46 540.43h2.21v19.56h-2.21zM100.31 540.43h2.21v19.56h-2.21zM104.03 540.43h2.21v19.56h-2.21zM135.61 540.43h2.21v19.56h-2.21zM137.47 540.43h2.21v19.56h-2.21zM143.04 540.43h2.21v19.56h-2.21zM191.87 540.43h2.20v19.56h-2.20zM247.50 540.43h2.20v19.56h-2.20zM249.35 540.43h2.20v19.56h-2.20zM267.89 540.43h2.20v19.56h-2.20zM277.17 540.43h2.20v19.56h-2.20zM280.87 540.43h2.20v19.56h-2.20zM282.73 540.43h2.20v19.56h-2.20zM284.58 540.43h2.20v19.56h-2.20zM286.44 540.43h2.20v19.56h-2.20zM297.73 540.43h2.19v19.56h-2.19zM301.40 540.43h2.19v19.56h-2.19zM303.24 540.43h2.19v19.56h-2.19zM305.07 540.43h2.19v19.56h-2.19zM310.58 540.43h2.19v19.56h-2.19zM314.25 540.43h2.19v19.56h-2.19zM325.26 540.43h2.19v19.56h-2.19zM3.72 559.69h2.21v19.56h-2.21zM13.00 559.69h2.21v19.56h-2.21zM27.86 559.69h2.21v19.56h-2.21zM29.72 559.69h2.21v19.56h-2.21zM31.58 559.69h2.21v19.56h-2.21zM35.30 559.69h2.21v19.56h-2.21zM37.15 559.69h2.21v19.56h-2.21zM52.01 559.69h2.21v19.56h-2.21zM53.87 559.69h2.21v19.56h-2.21zM72.45 559.69h2.21v19.56h-2.21zM98.46 559.69h2.21v19.56h-2.21zM100.31 559.69h2.21v19.56h-2.21zM113.32 559.69h2.21v19.56h-2.21zM115.17 559.69h2.21v19.56h-2.21zM131.89 559.69h2.21v19.56h-2.21zM133.75 559.69h2.21v19.56h-2.21zM143.04 559.69h2.21v19.56h-2.21zM144.90 559.69h2.21v19.56h-2.21zM162.20 559.69h2.20v19.56h-2.20zM169.62 559.69h2.20v19.56h-2.20zM188.16 559.69h2.20v19.56h-2.20zM197.43 559.69h2.20v19.56h-2.20zM199.29 559.69h2.20v19.56h-2.20zM223.39 559.69h2.20v19.56h-2.20zM297.73 559.69h2.19v19.56h-2.19zM299.57 559.69h2.19v19.56h-2.19zM301.40 559.69h2.19v19.56h-2.19zM308.75 559.69h2.19v19.56h-2.19zM310.58 559.69h2.19v19.56h-2.19zM314.25 559.69h2.19v19.56h-2.19zM325.26 559.69h2.19v19.56h-2.19zM328.93 559.69h2.19v19.56h-2.19zM26.01 578.94h2.21v19.56h-2.21zM29.72 578.94h2.21v19.56h-2.21zM57.59 578.94h2.21v19.56h-2.21zM59.44 578.94h2.21v19.56h-2.21zM105.89 578.94h2.21v19.56h-2.21zM113.32 578.94h2.21v19.56h-2.21zM115.17 578.94h2.21v19.56h-2.21zM128.18 578.94h2.21v19.56h-2.21zM144.90 578.94h2.21v19.56h-2.21zM148.61 578.94h2.21v19.56h-2.21zM186.31 578.94h2.20v19.56h-2.20zM199.29 578.94h2.20v19.56h-2.20zM223.39 578.94h2.20v19.56h-2.20zM273.46 578.94h2.20v19.56h-2.20zM282.73 578.94h2.20v19.56h-2.20zM286.44 578.94h2.20v19.56h-2.20zM297.73 578.94h2.19v19.56h-2.19zM299.57 578.94h2.19v19.56h-2.19zM301.40 578.94h2.19v19.56h-2.19zM303.24 578.94h2.19v19.56h-2.19zM305.07 578.94h2.19v19.56h-2.19zM306.91 578.94h2.19v19.56h-2.19zM308.75 578.94h2.19v19.56h-2.19zM310.58 578.94h2.19v19.56h-2.19zM312.42 578.94h2.19v19.56h-2.19zM314.25 578.94h2.19v19.56h-2.19zM316.08 578.94h2.19v19.56h-2.19zM325.26 578.94h2.19v19.56h-2.19z"/>
<path fill="#608dba" d="M96.60 251.57h2.21v19.56h-2.21z"/>
<path fill="#6591bd" d="M288.29 97.51h2.20v19.56h-2.20zM156.04 193.80h2.21v19.56h-2.21z"/>
<path fill="#6996c0" d="M319.75 78.26h2.19v19.56h-2.19zM124.46 116.77h2.21v19.56h-2.21zM14.86 270.83h2.21v19.56h-2.21zM83.59 444.14h2.21v19.56h-2.21zM79.88 482.66h2.21v19.56h-2.21zM55.73 501.91h2.21v19.56h-2.21zM316.08 559.69h2.19v19.56h-2.19z"/>
<path fill="#6d9ac2" d="M102.17 155.29h2.21v19.56h-2.21zM48.30 174.54h2.21v19.56h-2.21zM55.73 193.80h2.21v19.56h-2.21zM68.73 213.06h2.21v19.56h-2.21zM144.90 213.06h2.21v19.56h-2.21zM76.16 290.09h2.21v19.56h-2.21zM14.86 309.34h2.21v19.56h-2.21zM156.04 424.89h2.21v19.56h-2.21zM171.47 424.89h2.20v19.56h-2.20zM33.44 521.17h2.21v19.56h-2.21zM182.60 540.43h2.20v19.56h-2.20zM328.93 540.43h2.19v19.56h-2.19z"/>
<path fill="#729ec5" d="M83.59 59.00h2.21v19.56h-2.21zM162.20 78.26h2.20v19.56h-2.20zM241.93 78.26h2.20v19.56h-2.20zM247.50 78.26h2.20v19.56h-2.20zM258.62 78.26h2.20v19.56h-2.20zM3.72 97.51h2.21v19.56h-2.21zM42.73 136.03h2.21v19.56h-2.21zM96.60 155.29h2.21v19.56h-2.21zM139.32 155.29h2.21v19.56h-2.21zM195.58 213.06h2.20v19.56h-2.20zM124.46 232.31h2.21v19.56h-2.21zM22.29 270.83h2.21v19.56h-2.21zM275.31 270.83h2.20v19.56h-2.20zM91.02 290.09h2.21v19.56h-2.21zM137.47 290.09h2.21v19.56h-2.21zM295.90 328.60h2.19v19.56h-2.19zM72.45 367.11h2.21v19.56h-2.21zM104.03 367.11h2.21v19.56h-2.21zM81.74 424.89h2.21v19.56h-2.21zM5.57 444.14h2.21v19.56h-2.21zM39.01 482.66h2.21v19.56h-2.21zM35.30 521.17h2.21v19.56h-2.21zM37.15 540.43h2.21v19.56h-2.21zM118.89 540.43h2.21v19.56h-2.21zM139.32 540.43h2.21v19.56h-2.21zM173.33 540.43h2.20v19.56h-2.20zM180.74 540.43h2.20v19.56h-2.20zM295.90 559.69h2.19v19.56h-2.19z"/>
<path fill="#76a3c8" d="M288.29 78.26h2.20v19.56h-2.20zM227.10 97.51h2.20v19.56h-2.20zM232.66 97.51h2.20v19.56h-2.20zM117.03 116.77h2.21v19.56h-2.21zM18.58 136.03h2.21v19.56h-2.21zM128.18 136.03h2.21v19.56h-2.21zM33.44 155.29h2.21v19.56h-2.21zM35.30 155.29h2.21v19.56h-2.21zM65.02 155.29h2.21v19.56h-2.21zM68.73 155.29h2.21v19.56h-2.21zM11.15 174.54h2.21v19.56h-2.21zM70.59 174.54h2.21v19.56h-2.21zM39.01 193.80h2.21v19.56h-2.21zM68.73 193.80h2.21v19.56h-2.21zM104.03 213.06h2.21v19.56h-2.21zM5.57 232.31h2.21v19.56h-2.21zM37.15 251.57h2.21v19.56h-2.21zM327.10 251.57h2.19v19.56h-2.19zM144.90 290.09h2.21v19.56h-2.21zM323.43 290.09h2.19v19.56h-2.19zM18.58 309.34h2.21v19.56h-2.21zM65.02 309.34h2.21v19.56h-2.21zM128.18 309.34h2.21v19.56h-2.21zM98.46 328.60h2.21v19.56h-2.21zM306.91 328.60h2.19v19.56h-2.19zM98.46 347.86h2.21v19.56h-2.21zM214.12 367.11h2.20v19.56h-2.20zM66.88 386.37h2.21v19.56h-2.21zM325.26 386.37h2.19v19.56h-2.19zM137.47 405.63h2.21v19.56h-2.21zM327.10 405.63h2.19v19.56h-2.19zM98.46 463.40h2.21v19.56h-2.21zM111.46 463.40h2.21v19.56h-2.21zM150.47 482.66h2.21v19.56h-2.21zM124.46 521.17h2.21v19.56h-2.21zM327.10 521.17h2.19v19.56h-2.19zM184.45 540.43h2.20v19.56h-2.20zM186.31 540.43h2.20v19.56h-2.20zM42.73 559.69h2.21v19.56h-2.21zM65.02 559.69h2.21v19.56h-2.21zM139.32 559.69h2.21v19.56h-2.21zM236.37 559.69h2.20v19.56h-2.20zM146.75 578.94h2.21v19.56h-2.21zM262.33 578.94h2.20v19.56h-2.20z"/>
<path fill="#7ba7ca" d="M94.74 59.00h2.21v19.56h-2.21zM133.75 59.00h2.21v19.56h-2.21zM141.18 59.00h2.21v19.56h-2.21zM271.60 59.00h2.20v19.56h-2.20zM68.73 78.26h2.21v19.56h-2.21zM102.17 78.26h2.21v19.56h-2.21zM232.66 78.26h2.20v19.56h-2.20zM42.73 97.51h2.21v19.56h-2.21zM266.04 97.51h2.20v19.56h-2.20zM118.89 116.77h2.21v19.56h-2.21zM26.01 155.29h2.21v19.56h-2.21zM113.32 155.29h2.21v19.56h-2.21zM24.15 174.54h2.21v19.56h-2.21zM286.44 174.54h2.20v19.56h-2.20zM316.08 174.54h2.19v19.56h-2.19zM3.72 193.80h2.21v19.56h-2.21zM61.30 193.80h2.21v19.56h-2.21zM61.30 213.06h2.21v19.56h-2.21zM143.04 213.06h2.21v19.56h-2.21zM40.87 232.31h2.21v19.56h-2.21zM48.30 232.31h2.21v19.56h-2.21zM20.43 251.57h2.21v19.56h-2.21zM55.73 251.57h2.21v19.56h-2.21zM7.43 270.83h2.21v19.56h-2.21zM35.30 270.83h2.21v19.56h-2.21zM22.29 290.09h2.21v19.56h-2.21zM85.45 309.34h2.21v19.56h-2.21zM20.43 328.60h2.21v19.56h-2.21zM37.15 328.60h2.21v19.56h-2.21zM63.16 328.60h2.21v19.56h-2.21zM115.17 328.60h2.21v19.56h-2.21zM301.40 328.60h2.19v19.56h-2.19zM308.75 328.60h2.19v19.56h-2.19zM35.30 367.11h2.21v19.56h-2.21zM227.10 386.37h2.20v19.56h-2.20zM102.17 405.63h2.21v19.56h-2.21zM40.87 424.89h2.21v19.56h-2.21zM117.03 424.89h2.21v19.56h-2.21zM314.25 424.89h2.19v19.56h-2.19zM72.45 444.14h2.21v19.56h-2.21zM109.60 444.14h2.21v19.56h-2.21zM186.31 444.14h2.20v19.56h-2.20zM29.72 463.40h2.21v19.56h-2.21zM35.30 463.40h2.21v19.56h-2.21zM190.01 463.40h2.20v19.56h-2.20zM221.54 463.40h2.20v19.56h-2.20zM245.64 463.40h2.20v19.56h-2.20zM40.87 482.66h2.21v19.56h-2.21zM122.60 482.66h2.21v19.56h-2.21zM124.46 482.66h2.21v19.56h-2.21zM180.74 482.66h2.20v19.56h-2.20zM11.15 501.91h2.21v19.56h-2.21zM46.44 501.91h2.21v19.56h-2.21zM50.16 501.91h2.21v19.56h-2.21zM102.17 501.91h2.21v19.56h-2.21zM109.60 501.91h2.21v19.56h-2.21zM143.04 501.91h2.21v19.56h-2.21zM152.33 501.91h2.21v19.56h-2.21zM190.01 501.91h2.20v19.56h-2.20zM249.35 501.91h2.20v19.56h-2.20zM303.24 501.91h2.19v19.56h-2.19zM100.31 521.17h2.21v19.56h-2.21zM154.18 521.17h2.21v19.56h-2.21zM195.58 559.69h2.20v19.56h-2.20zM227.10 559.69h2.20v19.56h-2.20z"/>
<path fill="#7fabcd" d="M9.29 59.00h2.21v19.56h-2.21zM50.16 59.00h2.21v19.56h-2.21zM186.31 59.00h2.20v19.56h-2.20zM215.97 59.00h2.20v19.56h-2.20zM316.08 59.00h2.19v19.56h-2.19zM1.86 78.26h2.21v19.56h-2.21zM16.72 78.26h2.21v19.56h-2.21zM85.45 78.26h2.21v19.56h-2.21zM286.44 78.26h2.20v19.56h-2.20zM20.43 97.51h2.21v19.56h-2.21zM66.88 97.51h2.21v19.56h-2.21zM197.43 97.51h2.20v19.56h-2.20zM214.12 97.51h2.20v19.56h-2.20zM0.00 116.77h2.21v19.56h-2.21zM68.73 174.54h2.21v19.56h-2.21zM156.04 174.54h2.21v19.56h-2.21zM325.26 174.54h2.19v19.56h-2.19zM44.58 232.31h2.21v19.56h-2.21zM76.16 232.31h2.21v19.56h-2.21zM85.45 232.31h2.21v19.56h-2.21zM3.72 251.57h2.21v19.56h-2.21zM11.15 251.57h2.21v19.56h-2.21zM98.46 251.57h2.21v19.56h-2.21zM131.89 251.57h2.21v19.56h-2.21zM297.73 251.57h2.19v19.56h-2.19zM16.72 270.83h2.21v19.56h-2.21zM39.01 270.83h2.21v19.56h-2.21zM115.17 270.83h2.21v19.56h-2.21zM319.75 270.83h2.19v19.56h-2.19zM16.72 290.09h2.21v19.56h-2.21zM18.58 290.09h2.21v19.56h-2.21zM72.45 290.09h2.21v19.56h-2.21zM85.45 290.09h2.21v19.56h-2.21zM297.73 290.09h2.19v19.56h-2.19zM16.72 309.34h2.21v19.56h-2.21zM74.31 309.34h2.21v19.56h-2.21zM89.17 309.34h2.21v19.56h-2.21zM113.32 309.34h2.21v19.56h-2.21zM14.86 328.60h2.21v19.56h-2.21zM131.89 328.60h2.21v19.56h-2.21zM328.93 328.60h2.19v19.56h-2.19zM118.89 347.86h2.21v19.56h-2.21zM128.18 347.86h2.21v19.56h-2.21zM325.26 347.86h2.19v19.56h-2.19zM37.15 367.11h2.21v19.56h-2.21zM52.01 367.11h2.21v19.56h-2.21zM63.16 367.11h2.21v19.56h-2.21zM327.10 367.11h2.19v19.56h-2.19zM188.16 386.37h2.20v19.56h-2.20zM3.72 405.63h2.21v19.56h-2.21zM100.31 405.63h2.21v19.56h-2.21zM11.15 424.89h2.21v19.56h-2.21zM44.58 424.89h2.21v19.56h-2.21zM135.61 424.89h2.21v19.56h-2.21zM139.32 424.89h2.21v19.56h-2.21zM146.75 424.89h2.21v19.56h-2.21zM225.25 424.89h2.20v19.56h-2.20zM20.43 444.14h2.21v19.56h-2.21zM115.17 444.14h2.21v19.56h-2.21zM162.20 444.14h2.20v19.56h-2.20zM243.79 444.14h2.20v19.56h-2.20zM11.15 463.40h2.21v19.56h-2.21zM26.01 463.40h2.21v19.56h-2.21zM48.30 463.40h2.21v19.56h-2.21zM68.73 463.40h2.21v19.56h-2.21zM162.20 463.40h2.20v19.56h-2.20zM27.86 482.66h2.21v19.56h-2.21zM37.15 482.66h2.21v19.56h-2.21zM46.44 482.66h2.21v19.56h-2.21zM9.29 501.91h2.21v19.56h-2.21zM130.04 501.91h2.21v19.56h-2.21zM144.90 501.91h2.21v19.56h-2.21zM262.33 501.91h2.20v19.56h-2.20zM316.08 501.91h2.19v19.56h-2.19zM131.89 521.17h2.21v19.56h-2.21zM0.00 540.43h2.21v19.56h-2.21zM61.30 540.43h2.21v19.56h-2.21zM133.75 540.43h2.21v19.56h-2.21zM146.75 540.43h2.21v19.56h-2.21zM195.58 540.43h2.20v19.56h-2.20zM262.33 540.43h2.20v19.56h-2.20zM24.15 559.69h2.21v19.56h-2.21zM262.33 559.69h2.20v19.56h-2.20zM70.59 578.94h2.21v19.56h-2.21zM94.74 578.94h2.21v19.56h-2.21zM126.32 578.94h2.21v19.56h-2.21zM139.32 578.94h2.21v19.56h-2.21zM184.45 578.94h2.20v19.56h-2.20zM201.14 578.94h2.20v19.56h-2.20zM227.10 578.94h2.20v19.56h-2.20z"/>
<path fill="#84b0d0" d="M31.58 59.00h2.21v19.56h-2.21zM236.37 59.00h2.20v19.56h-2.20zM301.40 59.00h2.19v19.56h-2.19zM81.74 78.26h2.21v19.56h-2.21zM167.76 78.26h2.20v19.56h-2.20zM271.60 78.26h2.20v19.56h-2.20zM27.86 97.51h2.21v19.56h-2.21zM154.18 97.51h2.21v19.56h-2.21zM258.62 97.51h2.20v19.56h-2.20zM273.46 97.51h2.20v19.56h-2.20zM280.87 97.51h2.20v19.56h-2.20zM301.40 97.51h2.19v19.56h-2.19zM52.01 116.77h2.21v19.56h-2.21zM63.16 116.77h2.21v19.56h-2.21zM120.75 116.77h2.21v19.56h-2.21zM16.72 136.03h2.21v19.56h-2.21zM68.73 136.03h2.21v19.56h-2.21zM74.31 136.03h2.21v19.56h-2.21zM124.46 136.03h2.21v19.56h-2.21zM27.86 155.29h2.21v19.56h-2.21zM46.44 155.29h2.21v19.56h-2.21zM92.88 155.29h2.21v19.56h-2.21zM117.03 155.29h2.21v19.56h-2.21zM154.18 155.29h2.21v19.56h-2.21zM46.44 174.54h2.21v19.56h-2.21zM139.32 174.54h2.21v19.56h-2.21zM321.59 174.54h2.19v19.56h-2.19zM323.43 174.54h2.19v19.56h-2.19zM186.31 193.80h2.20v19.56h-2.20zM325.26 193.80h2.19v19.56h-2.19zM107.74 213.06h2.21v19.56h-2.21zM328.93 213.06h2.19v19.56h-2.19zM55.73 232.31h2.21v19.56h-2.21zM72.45 232.31h2.21v19.56h-2.21zM27.86 251.57h2.21v19.56h-2.21zM94.74 251.57h2.21v19.56h-2.21zM156.04 251.57h2.21v19.56h-2.21zM195.58 251.57h2.20v19.56h-2.20zM262.33 251.57h2.20v19.56h-2.20zM96.60 270.83h2.21v19.56h-2.21zM118.89 270.83h2.21v19.56h-2.21zM144.90 270.83h2.21v19.56h-2.21zM323.43 270.83h2.19v19.56h-2.19zM35.30 290.09h2.21v19.56h-2.21zM89.17 290.09h2.21v19.56h-2.21zM118.89 290.09h2.21v19.56h-2.21zM135.61 290.09h2.21v19.56h-2.21zM100.31 309.34h2.21v19.56h-2.21zM118.89 309.34h2.21v19.56h-2.21zM305.07 309.34h2.19v19.56h-2.19zM11.15 328.60h2.21v19.56h-2.21zM39.01 328.60h2.21v19.56h-2.21zM27.86 367.11h2.21v19.56h-2.21zM44.58 386.37h2.21v19.56h-2.21zM89.17 386.37h2.21v19.56h-2.21zM104.03 386.37h2.21v19.56h-2.21zM316.08 386.37h2.19v19.56h-2.19zM63.16 405.63h2.21v19.56h-2.21zM146.75 405.63h2.21v19.56h-2.21zM74.31 424.89h2.21v19.56h-2.21zM131.89 424.89h2.21v19.56h-2.21zM133.75 424.89h2.21v19.56h-2.21zM245.64 424.89h2.20v19.56h-2.20zM42.73 444.14h2.21v19.56h-2.21zM74.31 444.14h2.21v19.56h-2.21zM133.75 444.14h2.21v19.56h-2.21zM254.91 444.14h2.20v19.56h-2.20zM260.48 444.14h2.20v19.56h-2.20zM50.16 463.40h2.21v19.56h-2.21zM53.87 463.40h2.21v19.56h-2.21zM141.18 463.40h2.21v19.56h-2.21zM70.59 482.66h2.21v19.56h-2.21zM87.31 482.66h2.21v19.56h-2.21zM94.74 482.66h2.21v19.56h-2.21zM126.32 482.66h2.21v19.56h-2.21zM195.58 482.66h2.20v19.56h-2.20zM238.23 482.66h2.20v19.56h-2.20zM22.29 501.91h2.21v19.56h-2.21zM31.58 501.91h2.21v19.56h-2.21zM65.02 501.91h2.21v19.56h-2.21zM66.88 501.91h2.21v19.56h-2.21zM94.74 501.91h2.21v19.56h-2.21zM120.75 501.91h2.21v19.56h-2.21zM306.91 501.91h2.19v19.56h-2.19zM11.15 521.17h2.21v19.56h-2.21zM74.31 521.17h2.21v19.56h-2.21zM98.46 521.17h2.21v19.56h-2.21zM144.90 521.17h2.21v19.56h-2.21zM262.33 521.17h2.20v19.56h-2.20zM288.29 521.17h2.20v19.56h-2.20zM26.01 540.43h2.21v19.56h-2.21zM162.20 540.43h2.20v19.56h-2.20zM202.99 540.43h2.20v19.56h-2.20zM253.06 540.43h2.20v19.56h-2.20zM306.91 540.43h2.19v19.56h-2.19zM316.08 540.43h2.19v19.56h-2.19zM20.43 559.69h2.21v19.56h-2.21zM55.73 559.69h2.21v19.56h-2.21zM126.32 559.69h2.21v19.56h-2.21zM27.86 578.94h2.21v19.56h-2.21zM40.87 578.94h2.21v19.56h-2.21zM100.31 578.94h2.21v19.56h-2.21zM178.89 578.94h2.20v19.56h-2.20zM202.99 578.94h2.20v19.56h-2.20z"/>
<path fill="#88b4d2" d="M164.05 59.00h2.20v19.56h-2.20zM202.99 59.00h2.20v19.56h-2.20zM279.02 59.00h2.20v19.56h-2.20zM124.46 78.26h2.21v19.56h-2.21zM173.33 78.26h2.20v19.56h-2.20zM227.10 78.26h2.20v19.56h-2.20zM191.87 97.51h2.20v19.56h-2.20zM27.86 116.77h2.21v19.56h-2.21zM29.72 116.77h2.21v19.56h-2.21zM72.45 116.77h2.21v19.56h-2.21zM102.17 116.77h2.21v19.56h-2.21zM143.04 116.77h2.21v19.56h-2.21zM144.90 116.77h2.21v19.56h-2.21zM327.10 116.77h2.19v19.56h-2.19zM111.46 136.03h2.21v19.56h-2.21zM249.35 136.03h2.20v19.56h-2.20zM9.29 155.29h2.21v19.56h-2.21zM13.00 155.29h2.21v19.56h-2.21zM53.87 155.29h2.21v19.56h-2.21zM76.16 155.29h2.21v19.56h-2.21zM100.31 155.29h2.21v19.56h-2.21zM105.89 155.29h2.21v19.56h-2.21zM124.46 155.29h2.21v19.56h-2.21zM133.75 155.29h2.21v19.56h-2.21zM279.02 155.29h2.20v19.56h-2.20zM104.03 174.54h2.21v19.56h-2.21zM109.60 193.80h2.21v19.56h-2.21zM22.29 213.06h2.21v19.56h-2.21zM52.01 213.06h2.21v19.56h-2.21zM3.72 232.31h2.21v19.56h-2.21zM42.73 232.31h2.21v19.56h-2.21zM154.18 232.31h2.21v19.56h-2.21zM156.04 232.31h2.21v19.56h-2.21zM66.88 251.57h2.21v19.56h-2.21zM85.45 251.57h2.21v19.56h-2.21zM118.89 251.57h2.21v19.56h-2.21zM18.58 270.83h2.21v19.56h-2.21zM98.46 270.83h2.21v19.56h-2.21zM117.03 270.83h2.21v19.56h-2.21zM135.61 270.83h2.21v19.56h-2.21zM37.15 290.09h2.21v19.56h-2.21zM120.75 309.34h2.21v19.56h-2.21zM144.90 309.34h2.21v19.56h-2.21zM117.03 328.60h2.21v19.56h-2.21zM118.89 328.60h2.21v19.56h-2.21zM117.03 347.86h2.21v19.56h-2.21zM44.58 367.11h2.21v19.56h-2.21zM50.16 367.11h2.21v19.56h-2.21zM96.60 367.11h2.21v19.56h-2.21zM156.04 367.11h2.21v19.56h-2.21zM53.87 386.37h2.21v19.56h-2.21zM115.17 386.37h2.21v19.56h-2.21zM135.61 386.37h2.21v19.56h-2.21zM288.29 386.37h2.20v19.56h-2.20zM13.00 405.63h2.21v19.56h-2.21zM22.29 424.89h2.21v19.56h-2.21zM37.15 424.89h2.21v19.56h-2.21zM50.16 424.89h2.21v19.56h-2.21zM91.02 424.89h2.21v19.56h-2.21zM227.10 424.89h2.20v19.56h-2.20zM249.35 424.89h2.20v19.56h-2.20zM297.73 424.89h2.19v19.56h-2.19zM0.00 444.14h2.21v19.56h-2.21zM1.86 444.14h2.21v19.56h-2.21zM92.88 444.14h2.21v19.56h-2.21zM139.32 444.14h2.21v19.56h-2.21zM143.04 444.14h2.21v19.56h-2.21zM245.64 444.14h2.20v19.56h-2.20zM286.44 444.14h2.20v19.56h-2.20zM312.42 444.14h2.19v19.56h-2.19zM52.01 463.40h2.21v19.56h-2.21zM100.31 463.40h2.21v19.56h-2.21zM186.31 463.40h2.20v19.56h-2.20zM271.60 463.40h2.20v19.56h-2.20zM297.73 463.40h2.19v19.56h-2.19zM42.73 482.66h2.21v19.56h-2.21zM52.01 482.66h2.21v19.56h-2.21zM63.16 482.66h2.21v19.56h-2.21zM118.89 482.66h2.21v19.56h-2.21zM303.24 482.66h2.19v19.56h-2.19zM107.74 501.91h2.21v19.56h-2.21zM111.46 501.91h2.21v19.56h-2.21zM122.60 501.91h2.21v19.56h-2.21zM131.89 501.91h2.21v19.56h-2.21zM146.75 501.91h2.21v19.56h-2.21zM308.75 501.91h2.19v19.56h-2.19zM13.00 521.17h2.21v19.56h-2.21zM57.59 521.17h2.21v19.56h-2.21zM227.10 521.17h2.20v19.56h-2.20zM5.57 540.43h2.21v19.56h-2.21zM22.29 540.43h2.21v19.56h-2.21zM201.14 540.43h2.20v19.56h-2.20zM236.37 540.43h2.20v19.56h-2.20zM186.31 559.69h2.20v19.56h-2.20zM267.89 559.69h2.20v19.56h-2.20zM48.30 578.94h2.21v19.56h-2.21zM197.43 578.94h2.20v19.56h-2.20zM271.60 578.94h2.20v19.56h-2.20zM295.90 578.94h2.19v19.56h-2.19z"/>
<path fill="#8cb8d5" d="M33.44 59.00h2.21v19.56h-2.21zM89.17 59.00h2.21v19.56h-2.21zM190.01 59.00h2.20v19.56h-2.20zM227.10 59.00h2.20v19.56h-2.20zM273.46 59.00h2.20v19.56h-2.20zM42.73 78.26h2.21v19.56h-2.21zM63.16 78.26h2.21v19.56h-2.21zM282.73 78.26h2.20v19.56h-2.20zM14.86 116.77h2.21v19.56h-2.21zM26.01 116.77h2.21v19.56h-2.21zM55.73 116.77h2.21v19.56h-2.21zM39.01 136.03h2.21v19.56h-2.21zM40.87 136.03h2.21v19.56h-2.21zM70.59 136.03h2.21v19.56h-2.21zM133.75 136.03h2.21v19.56h-2.21zM66.88 155.29h2.21v19.56h-2.21zM115.17 155.29h2.21v19.56h-2.21zM29.72 174.54h2.21v19.56h-2.21zM57.59 174.54h2.21v19.56h-2.21zM118.89 174.54h2.21v19.56h-2.21zM295.90 174.54h2.19v19.56h-2.19zM35.30 193.80h2.21v19.56h-2.21zM89.17 213.06h2.21v19.56h-2.21zM184.45 213.06h2.20v19.56h-2.20zM214.12 213.06h2.20v19.56h-2.20zM262.33 213.06h2.20v19.56h-2.20zM98.46 232.31h2.21v19.56h-2.21zM297.73 232.31h2.19v19.56h-2.19zM111.46 251.57h2.21v19.56h-2.21zM286.44 251.57h2.20v19.56h-2.20zM37.15 270.83h2.21v19.56h-2.21zM44.58 270.83h2.21v19.56h-2.21zM85.45 270.83h2.21v19.56h-2.21zM107.74 270.83h2.21v19.56h-2.21zM154.18 270.83h2.21v19.56h-2.21zM14.86 290.09h2.21v19.56h-2.21zM319.75 290.09h2.19v19.56h-2.19zM111.46 309.34h2.21v19.56h-2.21zM35.30 328.60h2.21v19.56h-2.21zM44.58 328.60h2.21v19.56h-2.21zM188.16 328.60h2.20v19.56h-2.20zM52.01 347.86h2.21v19.56h-2.21zM63.16 347.86h2.21v19.56h-2.21zM297.73 367.11h2.19v19.56h-2.19zM57.59 386.37h2.21v19.56h-2.21zM39.01 405.63h2.21v19.56h-2.21zM109.60 424.89h2.21v19.56h-2.21zM55.73 444.14h2.21v19.56h-2.21zM91.02 444.14h2.21v19.56h-2.21zM104.03 444.14h2.21v19.56h-2.21zM195.58 444.14h2.20v19.56h-2.20zM141.18 482.66h2.21v19.56h-2.21zM275.31 482.66h2.20v19.56h-2.20zM282.73 482.66h2.20v19.56h-2.20zM42.73 501.91h2.21v19.56h-2.21zM128.18 501.91h2.21v19.56h-2.21zM227.10 501.91h2.20v19.56h-2.20zM232.66 501.91h2.20v19.56h-2.20zM286.44 501.91h2.20v19.56h-2.20zM22.29 521.17h2.21v19.56h-2.21zM31.58 521.17h2.21v19.56h-2.21zM42.73 521.17h2.21v19.56h-2.21zM48.30 521.17h2.21v19.56h-2.21zM94.74 521.17h2.21v19.56h-2.21zM195.58 521.17h2.20v19.56h-2.20zM221.54 540.43h2.20v19.56h-2.20zM26.01 559.69h2.21v19.56h-2.21zM91.02 559.69h2.21v19.56h-2.21zM306.91 559.69h2.19v19.56h-2.19z"/>
<path fill="#91bdd8" d="M120.75 59.00h2.21v19.56h-2.21zM154.18 59.00h2.21v19.56h-2.21zM234.52 78.26h2.20v19.56h-2.20zM113.32 97.51h2.21v19.56h-2.21zM286.44 97.51h2.20v19.56h-2.20zM44.58 116.77h2.21v19.56h-2.21zM303.24 136.03h2.19v19.56h-2.19zM74.31 155.29h2.21v19.56h-2.21zM13.00 174.54h2.21v19.56h-2.21zM72.45 174.54h2.21v19.56h-2.21zM20.43 193.80h2.21v19.56h-2.21zM65.02 193.80h2.21v19.56h-2.21zM148.61 193.80h2.21v19.56h-2.21zM120.75 213.06h2.21v19.56h-2.21zM284.58 213.06h2.20v19.56h-2.20zM13.00 290.09h2.21v19.56h-2.21zM104.03 290.09h2.21v19.56h-2.21zM35.30 309.34h2.21v19.56h-2.21zM104.03 309.34h2.21v19.56h-2.21zM286.44 328.60h2.20v19.56h-2.20zM20.43 347.86h2.21v19.56h-2.21zM323.43 347.86h2.19v19.56h-2.19zM79.88 386.37h2.21v19.56h-2.21zM85.45 386.37h2.21v19.56h-2.21zM46.44 424.89h2.21v19.56h-2.21zM115.17 424.89h2.21v19.56h-2.21zM282.73 424.89h2.20v19.56h-2.20zM63.16 444.14h2.21v19.56h-2.21zM180.74 444.14h2.20v19.56h-2.20zM66.88 463.40h2.21v19.56h-2.21zM316.08 463.40h2.19v19.56h-2.19zM201.14 482.66h2.20v19.56h-2.20zM124.46 501.91h2.21v19.56h-2.21zM297.73 501.91h2.19v19.56h-2.19zM44.58 521.17h2.21v19.56h-2.21zM65.02 521.17h2.21v19.56h-2.21zM115.17 521.17h2.21v19.56h-2.21zM128.18 521.17h2.21v19.56h-2.21zM156.04 521.17h2.21v19.56h-2.21zM14.86 540.43h2.21v19.56h-2.21zM171.47 540.43h2.20v19.56h-2.20zM290.15 540.43h2.20v19.56h-2.20zM312.42 540.43h2.19v19.56h-2.19zM1.86 559.69h2.21v19.56h-2.21zM146.75 559.69h2.21v19.56h-2.21z"/>
<path fill="#95c1da" d="M275.31 59.00h2.20v19.56h-2.20zM190.01 97.51h2.20v19.56h-2.20zM260.48 116.77h2.20v19.56h-2.20zM44.58 155.29h2.21v19.56h-2.21zM126.32 155.29h2.21v19.56h-2.21zM146.75 155.29h2.21v19.56h-2.21zM144.90 232.31h2.21v19.56h-2.21zM63.16 309.34h2.21v19.56h-2.21zM76.16 309.34h2.21v19.56h-2.21zM5.57 328.60h2.21v19.56h-2.21zM319.75 328.60h2.19v19.56h-2.19zM39.01 347.86h2.21v19.56h-2.21zM63.16 424.89h2.21v19.56h-2.21zM128.18 444.14h2.21v19.56h-2.21zM325.26 463.40h2.19v19.56h-2.19zM104.03 482.66h2.21v19.56h-2.21zM33.44 501.91h2.21v19.56h-2.21zM319.75 501.91h2.19v19.56h-2.19zM55.73 521.17h2.21v19.56h-2.21zM146.75 521.17h2.21v19.56h-2.21zM275.31 521.17h2.20v19.56h-2.20zM319.75 521.17h2.19v19.56h-2.19zM0.00 559.69h2.21v19.56h-2.21zM111.46 559.69h2.21v19.56h-2.21zM175.18 559.69h2.20v19.56h-2.20z"/>
<path fill="#9ac4db" d="M267.89 59.00h2.20v19.56h-2.20zM115.17 78.26h2.21v19.56h-2.21zM96.60 193.80h2.21v19.56h-2.21zM13.00 213.06h2.21v19.56h-2.21zM79.88 213.06h2.21v19.56h-2.21zM182.60 444.14h2.20v19.56h-2.20zM139.32 463.40h2.21v19.56h-2.21zM305.07 501.91h2.19v19.56h-2.19zM7.43 521.17h2.21v19.56h-2.21zM68.73 559.69h2.21v19.56h-2.21z"/>
<path fill="#9ec7dd" d="M94.74 232.31h2.21v19.56h-2.21zM48.30 309.34h2.21v19.56h-2.21zM111.46 578.94h2.21v19.56h-2.21z"/>
<path fill="#a3cadf" d="M234.52 540.43h2.20v19.56h-2.20z"/>
<path fill="#b0d3e4" d="M92.88 232.31h2.21v19.56h-2.21zM327.10 540.43h2.19v19.56h-2.19z"/>
<path fill="#b5d6e5" d="M29.72 136.03h2.21v19.56h-2.21zM31.58 232.31h2.21v19.56h-2.21zM156.04 444.14h2.21v19.56h-2.21zM279.02 463.40h2.20v19.56h-2.20zM26.01 521.17h2.21v19.56h-2.21zM46.44 521.17h2.21v19.56h-2.21z"/>
<path fill="#b9d9e7" d="M5.57 174.54h2.21v19.56h-2.21zM7.43 482.66h2.21v19.56h-2.21zM275.31 501.91h2.20v19.56h-2.20z"/>
<path fill="#bedce9" d="M295.90 116.77h2.19v19.56h-2.19zM78.02 155.29h2.21v19.56h-2.21zM321.59 213.06h2.19v19.56h-2.19zM18.58 232.31h2.21v19.56h-2.21zM144.90 251.57h2.21v19.56h-2.21zM5.57 290.09h2.21v19.56h-2.21zM44.58 290.09h2.21v19.56h-2.21zM260.48 328.60h2.20v19.56h-2.20zM243.79 386.37h2.20v19.56h-2.20zM286.44 424.89h2.20v19.56h-2.20zM111.46 482.66h2.21v19.56h-2.21zM156.04 501.91h2.21v19.56h-2.21z"/>
<path fill="#c2dfea" d="M225.25 59.00h2.20v19.56h-2.20zM210.41 97.51h2.20v19.56h-2.20zM22.29 155.29h2.21v19.56h-2.21zM14.86 174.54h2.21v19.56h-2.21zM94.74 193.80h2.21v19.56h-2.21zM117.03 193.80h2.21v19.56h-2.21zM113.32 270.83h2.21v19.56h-2.21zM42.73 309.34h2.21v19.56h-2.21zM85.45 347.86h2.21v19.56h-2.21zM124.46 347.86h2.21v19.56h-2.21zM29.72 386.37h2.21v19.56h-2.21zM118.89 405.63h2.21v19.56h-2.21zM306.91 424.89h2.19v19.56h-2.19zM321.59 424.89h2.19v19.56h-2.19zM85.45 444.14h2.21v19.56h-2.21zM310.58 444.14h2.19v19.56h-2.19zM92.88 463.40h2.21v19.56h-2.21zM107.74 463.40h2.21v19.56h-2.21zM190.01 482.66h2.20v19.56h-2.20zM199.29 501.91h2.20v19.56h-2.20zM1.86 521.17h2.21v19.56h-2.21zM76.16 521.17h2.21v19.56h-2.21zM191.87 559.69h2.20v19.56h-2.20zM323.43 559.69h2.19v19.56h-2.19zM96.60 578.94h2.21v19.56h-2.21z"/>
<path fill="#c7e2ec" d="M247.50 59.00h2.20v19.56h-2.20zM124.46 97.51h2.21v19.56h-2.21zM78.02 136.03h2.21v19.56h-2.21zM91.02 136.03h2.21v19.56h-2.21zM105.89 136.03h2.21v19.56h-2.21zM37.15 155.29h2.21v19.56h-2.21zM40.87 155.29h2.21v19.56h-2.21zM197.43 155.29h2.20v19.56h-2.20zM26.01 174.54h2.21v19.56h-2.21zM31.58 174.54h2.21v19.56h-2.21zM42.73 193.80h2.21v19.56h-2.21zM63.16 193.80h2.21v19.56h-2.21zM72.45 193.80h2.21v19.56h-2.21zM137.47 193.80h2.21v19.56h-2.21zM273.46 193.80h2.20v19.56h-2.20zM46.44 232.31h2.21v19.56h-2.21zM262.33 232.31h2.20v19.56h-2.20zM44.58 251.57h2.21v19.56h-2.21zM11.15 270.83h2.21v19.56h-2.21zM11.15 309.34h2.21v19.56h-2.21zM85.45 328.60h2.21v19.56h-2.21zM305.07 328.60h2.19v19.56h-2.19zM1.86 347.86h2.21v19.56h-2.21zM74.31 347.86h2.21v19.56h-2.21zM102.17 347.86h2.21v19.56h-2.21zM275.31 367.11h2.20v19.56h-2.20zM111.46 386.37h2.21v19.56h-2.21zM7.43 424.89h2.21v19.56h-2.21zM70.59 444.14h2.21v19.56h-2.21zM171.47 482.66h2.20v19.56h-2.20zM98.46 501.91h2.21v19.56h-2.21zM169.62 501.91h2.20v19.56h-2.20zM217.83 501.91h2.20v19.56h-2.20zM27.86 521.17h2.21v19.56h-2.21zM199.29 521.17h2.20v19.56h-2.20zM221.54 559.69h2.20v19.56h-2.20zM122.60 578.94h2.21v19.56h-2.21zM162.20 578.94h2.20v19.56h-2.20z"/>
<path fill="#cbe5ed" d="M57.59 59.00h2.21v19.56h-2.21zM70.59 59.00h2.21v19.56h-2.21zM150.47 59.00h2.21v19.56h-2.21zM197.43 59.00h2.20v19.56h-2.20zM204.85 59.00h2.20v19.56h-2.20zM165.91 78.26h2.20v19.56h-2.20zM202.99 78.26h2.20v19.56h-2.20zM305.07 78.26h2.19v19.56h-2.19zM182.60 97.51h2.20v19.56h-2.20zM7.43 116.77h2.21v19.56h-2.21zM9.29 116.77h2.21v19.56h-2.21zM104.03 116.77h2.21v19.56h-2.21zM105.89 116.77h2.21v19.56h-2.21zM52.01 193.80h2.21v19.56h-2.21zM33.44 232.31h2.21v19.56h-2.21zM5.57 270.83h2.21v19.56h-2.21zM120.75 328.60h2.21v19.56h-2.21zM76.16 367.11h2.21v19.56h-2.21zM227.10 367.11h2.20v19.56h-2.20zM113.32 386.37h2.21v19.56h-2.21zM78.02 405.63h2.21v19.56h-2.21zM96.60 405.63h2.21v19.56h-2.21zM24.15 424.89h2.21v19.56h-2.21zM199.29 444.14h2.20v19.56h-2.20zM323.43 444.14h2.19v19.56h-2.19zM76.16 463.40h2.21v19.56h-2.21zM122.60 463.40h2.21v19.56h-2.21zM74.31 482.66h2.21v19.56h-2.21zM141.18 501.91h2.21v19.56h-2.21zM162.20 501.91h2.20v19.56h-2.20zM238.23 501.91h2.20v19.56h-2.20zM150.47 521.17h2.21v19.56h-2.21zM11.15 540.43h2.21v19.56h-2.21zM238.23 540.43h2.20v19.56h-2.20zM171.47 559.69h2.20v19.56h-2.20zM156.04 578.94h2.21v19.56h-2.21z"/>
<path fill="#d0e8ef" d="M37.15 59.00h2.21v19.56h-2.21zM319.75 59.00h2.19v19.56h-2.19zM277.17 78.26h2.20v19.56h-2.20zM314.25 78.26h2.19v19.56h-2.19zM5.57 116.77h2.21v19.56h-2.21zM76.16 116.77h2.21v19.56h-2.21zM94.74 116.77h2.21v19.56h-2.21zM154.18 116.77h2.21v19.56h-2.21zM27.86 136.03h2.21v19.56h-2.21zM39.01 155.29h2.21v19.56h-2.21zM63.16 155.29h2.21v19.56h-2.21zM50.16 174.54h2.21v19.56h-2.21zM55.73 174.54h2.21v19.56h-2.21zM133.75 174.54h2.21v19.56h-2.21zM70.59 213.06h2.21v19.56h-2.21zM286.44 213.06h2.20v19.56h-2.20zM9.29 232.31h2.21v19.56h-2.21zM111.46 232.31h2.21v19.56h-2.21zM146.75 232.31h2.21v19.56h-2.21zM195.58 232.31h2.20v19.56h-2.20zM275.31 232.31h2.20v19.56h-2.20zM13.00 251.57h2.21v19.56h-2.21zM31.58 251.57h2.21v19.56h-2.21zM39.01 251.57h2.21v19.56h-2.21zM74.31 251.57h2.21v19.56h-2.21zM128.18 251.57h2.21v19.56h-2.21zM135.61 251.57h2.21v19.56h-2.21zM3.72 270.83h2.21v19.56h-2.21zM286.44 290.09h2.20v19.56h-2.20zM286.44 309.34h2.20v19.56h-2.20zM13.00 328.60h2.21v19.56h-2.21zM37.15 347.86h2.21v19.56h-2.21zM65.02 347.86h2.21v19.56h-2.21zM76.16 347.86h2.21v19.56h-2.21zM66.88 367.11h2.21v19.56h-2.21zM74.31 367.11h2.21v19.56h-2.21zM195.58 367.11h2.20v19.56h-2.20zM98.46 386.37h2.21v19.56h-2.21zM105.89 386.37h2.21v19.56h-2.21zM186.31 386.37h2.20v19.56h-2.20zM37.15 405.63h2.21v19.56h-2.21zM137.47 424.89h2.21v19.56h-2.21zM144.90 424.89h2.21v19.56h-2.21zM188.16 424.89h2.20v19.56h-2.20zM275.31 424.89h2.20v19.56h-2.20zM199.29 463.40h2.20v19.56h-2.20zM215.97 482.66h2.20v19.56h-2.20zM26.01 501.91h2.21v19.56h-2.21zM52.01 501.91h2.21v19.56h-2.21zM133.75 501.91h2.21v19.56h-2.21zM256.77 501.91h2.20v19.56h-2.20zM52.01 521.17h2.21v19.56h-2.21zM107.74 521.17h2.21v19.56h-2.21zM137.47 521.17h2.21v19.56h-2.21zM139.32 521.17h2.21v19.56h-2.21zM7.43 540.43h2.21v19.56h-2.21zM197.43 540.43h2.20v19.56h-2.20zM210.41 559.69h2.20v19.56h-2.20zM330.77 559.69h2.19v19.56h-2.19zM22.29 578.94h2.21v19.56h-2.21zM120.75 578.94h2.21v19.56h-2.21zM131.89 578.94h2.21v19.56h-2.21zM154.18 578.94h2.21v19.56h-2.21zM323.43 578.94h2.19v19.56h-2.19z"/>
<path fill="#d4ebf1" d="M83.59 78.26h2.21v19.56h-2.21zM177.03 78.26h2.20v19.56h-2.20zM182.60 78.26h2.20v19.56h-2.20zM184.45 78.26h2.20v19.56h-2.20zM195.58 78.26h2.20v19.56h-2.20zM236.37 78.26h2.20v19.56h-2.20zM323.43 78.26h2.19v19.56h-2.19zM253.06 97.51h2.20v19.56h-2.20zM210.41 116.77h2.20v19.56h-2.20zM26.01 136.03h2.21v19.56h-2.21zM7.43 155.29h2.21v19.56h-2.21zM14.86 155.29h2.21v19.56h-2.21zM171.47 155.29h2.20v19.56h-2.20zM48.30 193.80h2.21v19.56h-2.21zM135.61 193.80h2.21v19.56h-2.21zM290.15 193.80h2.20v19.56h-2.20zM39.01 213.06h2.21v19.56h-2.21zM7.43 232.31h2.21v19.56h-2.21zM14.86 232.31h2.21v19.56h-2.21zM115.17 232.31h2.21v19.56h-2.21zM35.30 251.57h2.21v19.56h-2.21zM42.73 251.57h2.21v19.56h-2.21zM52.01 251.57h2.21v19.56h-2.21zM24.15 270.83h2.21v19.56h-2.21zM146.75 270.83h2.21v19.56h-2.21zM325.26 270.83h2.19v19.56h-2.19zM11.15 290.09h2.21v19.56h-2.21zM325.26 309.34h2.19v19.56h-2.19zM3.72 328.60h2.21v19.56h-2.21zM22.29 328.60h2.21v19.56h-2.21zM48.30 328.60h2.21v19.56h-2.21zM139.32 347.86h2.21v19.56h-2.21zM214.12 347.86h2.20v19.56h-2.20zM14.86 367.11h2.21v19.56h-2.21zM20.43 367.11h2.21v19.56h-2.21zM18.58 386.37h2.21v19.56h-2.21zM144.90 386.37h2.21v19.56h-2.21zM204.85 386.37h2.20v19.56h-2.20zM238.23 405.63h2.20v19.56h-2.20zM52.01 424.89h2.21v19.56h-2.21zM87.31 424.89h2.21v19.56h-2.21zM104.03 424.89h2.21v19.56h-2.21zM180.74 424.89h2.20v19.56h-2.20zM215.97 424.89h2.20v19.56h-2.20zM3.72 444.14h2.21v19.56h-2.21zM22.29 444.14h2.21v19.56h-2.21zM234.52 444.14h2.20v19.56h-2.20zM96.60 463.40h2.21v19.56h-2.21zM146.75 463.40h2.21v19.56h-2.21zM169.62 463.40h2.20v19.56h-2.20zM5.57 482.66h2.21v19.56h-2.21zM130.04 482.66h2.21v19.56h-2.21zM156.04 482.66h2.21v19.56h-2.21zM1.86 501.91h2.21v19.56h-2.21zM40.87 501.91h2.21v19.56h-2.21zM81.74 501.91h2.21v19.56h-2.21zM180.74 501.91h2.20v19.56h-2.20zM195.58 501.91h2.20v19.56h-2.20zM201.14 501.91h2.20v19.56h-2.20zM214.12 501.91h2.20v19.56h-2.20zM215.97 501.91h2.20v19.56h-2.20zM245.64 501.91h2.20v19.56h-2.20zM63.16 521.17h2.21v19.56h-2.21zM91.02 521.17h2.21v19.56h-2.21zM162.20 521.17h2.20v19.56h-2.20zM284.58 521.17h2.20v19.56h-2.20zM35.30 540.43h2.21v19.56h-2.21zM72.45 540.43h2.21v19.56h-2.21zM264.19 540.43h2.20v19.56h-2.20zM295.90 540.43h2.19v19.56h-2.19zM323.43 540.43h2.19v19.56h-2.19zM9.29 559.69h2.21v19.56h-2.21zM164.05 559.69h2.20v19.56h-2.20zM238.23 559.69h2.20v19.56h-2.20zM319.75 559.69h2.19v19.56h-2.19zM143.04 578.94h2.21v19.56h-2.21z"/>
<path fill="#d9eef2" d="M39.01 59.00h2.21v19.56h-2.21zM165.91 59.00h2.20v19.56h-2.20zM290.15 59.00h2.20v19.56h-2.20zM13.00 78.26h2.21v19.56h-2.21zM264.19 78.26h2.20v19.56h-2.20zM273.46 78.26h2.20v19.56h-2.20zM68.73 97.51h2.21v19.56h-2.21zM98.46 97.51h2.21v19.56h-2.21zM178.89 97.51h2.20v19.56h-2.20zM228.95 97.51h2.20v19.56h-2.20zM16.72 116.77h2.21v19.56h-2.21zM35.30 116.77h2.21v19.56h-2.21zM74.31 116.77h2.21v19.56h-2.21zM152.33 116.77h2.21v19.56h-2.21zM16.72 155.29h2.21v19.56h-2.21zM31.58 193.80h2.21v19.56h-2.21zM26.01 213.06h2.21v19.56h-2.21zM48.30 213.06h2.21v19.56h-2.21zM319.75 232.31h2.19v19.56h-2.19zM16.72 251.57h2.21v19.56h-2.21zM100.31 251.57h2.21v19.56h-2.21zM139.32 251.57h2.21v19.56h-2.21zM40.87 270.83h2.21v19.56h-2.21zM94.74 290.09h2.21v19.56h-2.21zM262.33 290.09h2.20v19.56h-2.20zM107.74 309.34h2.21v19.56h-2.21zM131.89 309.34h2.21v19.56h-2.21zM65.02 328.60h2.21v19.56h-2.21zM137.47 328.60h2.21v19.56h-2.21zM150.47 328.60h2.21v19.56h-2.21zM61.30 367.11h2.21v19.56h-2.21zM144.90 367.11h2.21v19.56h-2.21zM286.44 367.11h2.20v19.56h-2.20zM65.02 386.37h2.21v19.56h-2.21zM124.46 405.63h2.21v19.56h-2.21zM253.06 424.89h2.20v19.56h-2.20zM124.46 444.14h2.21v19.56h-2.21zM79.88 463.40h2.21v19.56h-2.21zM286.44 463.40h2.20v19.56h-2.20zM13.00 482.66h2.21v19.56h-2.21zM139.32 482.66h2.21v19.56h-2.21zM316.08 482.66h2.19v19.56h-2.19zM57.59 501.91h2.21v19.56h-2.21zM190.01 521.17h2.20v19.56h-2.20zM65.02 540.43h2.21v19.56h-2.21zM167.76 540.43h2.20v19.56h-2.20zM156.04 559.69h2.21v19.56h-2.21zM52.01 578.94h2.21v19.56h-2.21zM68.73 578.94h2.21v19.56h-2.21zM330.77 578.94h2.19v19.56h-2.19z"/>
<path fill="#ddf1f4" d="M24.15 59.00h2.21v19.56h-2.21zM107.74 78.26h2.21v19.56h-2.21zM61.30 97.51h2.21v19.56h-2.21zM290.15 116.77h2.20v19.56h-2.20zM107.74 136.03h2.21v19.56h-2.21zM297.73 136.03h2.19v19.56h-2.19zM321.59 136.03h2.19v19.56h-2.19zM89.17 155.29h2.21v19.56h-2.21zM275.31 193.80h2.20v19.56h-2.20zM113.32 232.31h2.21v19.56h-2.21zM18.58 251.57h2.21v19.56h-2.21zM78.02 270.83h2.21v19.56h-2.21zM102.17 270.83h2.21v19.56h-2.21zM5.57 309.34h2.21v19.56h-2.21zM46.44 328.60h2.21v19.56h-2.21zM275.31 328.60h2.20v19.56h-2.20zM35.30 347.86h2.21v19.56h-2.21zM22.29 367.11h2.21v19.56h-2.21zM115.17 367.11h2.21v19.56h-2.21zM275.31 386.37h2.20v19.56h-2.20zM319.75 386.37h2.19v19.56h-2.19zM22.29 405.63h2.21v19.56h-2.21zM35.30 424.89h2.21v19.56h-2.21zM102.17 424.89h2.21v19.56h-2.21zM323.43 424.89h2.19v19.56h-2.19zM37.15 444.14h2.21v19.56h-2.21zM113.32 444.14h2.21v19.56h-2.21zM227.10 444.14h2.20v19.56h-2.20zM262.33 463.40h2.20v19.56h-2.20zM13.00 501.91h2.21v19.56h-2.21zM122.60 521.17h2.21v19.56h-2.21zM135.61 521.17h2.21v19.56h-2.21zM131.89 540.43h2.21v19.56h-2.21zM148.61 540.43h2.21v19.56h-2.21zM212.27 540.43h2.20v19.56h-2.20zM11.15 559.69h2.21v19.56h-2.21zM219.68 559.69h2.20v19.56h-2.20z"/>
<path fill="#dff1f1" d="M251.21 59.00h2.20v19.56h-2.20zM96.60 97.51h2.21v19.56h-2.21zM0.00 155.29h2.21v19.56h-2.21zM48.30 155.29h2.21v19.56h-2.21zM66.88 193.80h2.21v19.56h-2.21zM78.02 213.06h2.21v19.56h-2.21zM78.02 251.57h2.21v19.56h-2.21zM111.46 290.09h2.21v19.56h-2.21zM113.32 290.09h2.21v19.56h-2.21zM113.32 347.86h2.21v19.56h-2.21zM251.21 386.37h2.20v19.56h-2.20zM128.18 424.89h2.21v19.56h-2.21zM130.04 424.89h2.21v19.56h-2.21zM7.43 444.14h2.21v19.56h-2.21zM11.15 444.14h2.21v19.56h-2.21zM275.31 444.14h2.20v19.56h-2.20zM74.31 463.40h2.21v19.56h-2.21zM215.97 463.40h2.20v19.56h-2.20zM137.47 501.91h2.21v19.56h-2.21zM330.77 501.91h2.19v19.56h-2.19zM201.14 521.17h2.20v19.56h-2.20zM325.26 521.17h2.19v19.56h-2.19zM225.25 540.43h2.20v19.56h-2.20zM13.00 578.94h2.21v19.56h-2.21zM124.46 578.94h2.21v19.56h-2.21z"/>
<path fill="#e1f2ee" d="M109.60 78.26h2.21v19.56h-2.21zM295.90 78.26h2.19v19.56h-2.19zM14.86 97.51h2.21v19.56h-2.21zM42.73 116.77h2.21v19.56h-2.21zM122.60 116.77h2.21v19.56h-2.21zM65.02 174.54h2.21v19.56h-2.21zM117.03 309.34h2.21v19.56h-2.21zM111.46 405.63h2.21v19.56h-2.21zM303.24 424.89h2.19v19.56h-2.19zM50.16 482.66h2.21v19.56h-2.21zM137.47 482.66h2.21v19.56h-2.21zM76.16 559.69h2.21v19.56h-2.21zM193.72 559.69h2.20v19.56h-2.20z"/>
<path fill="#e2f2eb" d="M105.89 78.26h2.21v19.56h-2.21zM63.16 232.31h2.21v19.56h-2.21zM89.17 270.83h2.21v19.56h-2.21zM240.08 444.14h2.20v19.56h-2.20zM74.31 501.91h2.21v19.56h-2.21zM40.87 521.17h2.21v19.56h-2.21z"/>
<path fill="#e4f3e7" d="M20.43 136.03h2.21v19.56h-2.21zM169.62 482.66h2.20v19.56h-2.20zM35.30 501.91h2.21v19.56h-2.21z"/>
<path fill="#e6f3e4" d="M262.33 97.51h2.20v19.56h-2.20zM3.72 174.54h2.21v19.56h-2.21zM190.01 405.63h2.20v19.56h-2.20zM150.47 501.91h2.21v19.56h-2.21zM118.89 521.17h2.21v19.56h-2.21z"/>
<path fill="#e8f4e1" d="M40.87 367.11h2.21v19.56h-2.21zM130.04 463.40h2.21v19.56h-2.21zM305.07 559.69h2.19v19.56h-2.19z"/>
<path fill="#e9f4de" d="M230.81 97.51h2.20v19.56h-2.20zM241.93 97.51h2.20v19.56h-2.20zM310.58 155.29h2.19v19.56h-2.19zM150.47 251.57h2.21v19.56h-2.21zM16.72 386.37h2.21v19.56h-2.21zM68.73 424.89h2.21v19.56h-2.21zM94.74 463.40h2.21v19.56h-2.21zM279.02 540.43h2.20v19.56h-2.20zM321.59 540.43h2.19v19.56h-2.19zM195.58 578.94h2.20v19.56h-2.20z"/>
<path fill="#ebf4db" d="M314.25 59.00h2.19v19.56h-2.19zM199.29 78.26h2.20v19.56h-2.20zM219.68 97.51h2.20v19.56h-2.20zM16.72 193.80h2.21v19.56h-2.21zM70.59 193.80h2.21v19.56h-2.21zM91.02 193.80h2.21v19.56h-2.21zM115.17 193.80h2.21v19.56h-2.21zM115.17 251.57h2.21v19.56h-2.21zM243.79 251.57h2.20v19.56h-2.20zM295.90 251.57h2.19v19.56h-2.19zM120.75 367.11h2.21v19.56h-2.21zM135.61 405.63h2.21v19.56h-2.21zM27.86 463.40h2.21v19.56h-2.21zM144.90 540.43h2.21v19.56h-2.21zM243.79 540.43h2.20v19.56h-2.20zM303.24 559.69h2.19v19.56h-2.19zM3.72 578.94h2.21v19.56h-2.21zM217.83 578.94h2.20v19.56h-2.20z"/>
<path fill="#edf5d8" d="M74.31 78.26h2.21v19.56h-2.21zM280.87 78.26h2.20v19.56h-2.20zM37.15 174.54h2.21v19.56h-2.21zM26.01 193.80h2.21v19.56h-2.21zM165.91 213.06h2.20v19.56h-2.20zM20.43 232.31h2.21v19.56h-2.21zM325.26 251.57h2.19v19.56h-2.19zM0.00 270.83h2.21v19.56h-2.21zM288.29 270.83h2.20v19.56h-2.20zM102.17 328.60h2.21v19.56h-2.21zM42.73 347.86h2.21v19.56h-2.21zM271.60 347.86h2.20v19.56h-2.20zM7.43 367.11h2.21v19.56h-2.21zM113.32 367.11h2.21v19.56h-2.21zM91.02 405.63h2.21v19.56h-2.21zM128.18 405.63h2.21v19.56h-2.21zM26.01 444.14h2.21v19.56h-2.21zM81.74 444.14h2.21v19.56h-2.21zM321.59 444.14h2.19v19.56h-2.19zM113.32 463.40h2.21v19.56h-2.21zM131.89 463.40h2.21v19.56h-2.21zM150.47 463.40h2.21v19.56h-2.21zM330.77 482.66h2.19v19.56h-2.19zM37.15 501.91h2.21v19.56h-2.21zM217.83 521.17h2.20v19.56h-2.20zM50.16 559.69h2.21v19.56h-2.21zM57.59 559.69h2.21v19.56h-2.21zM164.05 578.94h2.20v19.56h-2.20z"/>
<path fill="#eff5d4" d="M14.86 59.00h2.21v19.56h-2.21zM11.15 78.26h2.21v19.56h-2.21zM212.27 78.26h2.20v19.56h-2.20zM328.93 78.26h2.19v19.56h-2.19zM133.75 116.77h2.21v19.56h-2.21zM262.33 174.54h2.20v19.56h-2.20zM14.86 193.80h2.21v19.56h-2.21zM118.89 193.80h2.21v19.56h-2.21zM1.86 213.06h2.21v19.56h-2.21zM96.60 213.06h2.21v19.56h-2.21zM190.01 232.31h2.20v19.56h-2.20zM120.75 251.57h2.21v19.56h-2.21zM40.87 290.09h2.21v19.56h-2.21zM74.31 290.09h2.21v19.56h-2.21zM124.46 290.09h2.21v19.56h-2.21zM328.93 290.09h2.19v19.56h-2.19zM40.87 309.34h2.21v19.56h-2.21zM186.31 309.34h2.20v19.56h-2.20zM271.60 309.34h2.20v19.56h-2.20zM100.31 328.60h2.21v19.56h-2.21zM48.30 347.86h2.21v19.56h-2.21zM11.15 367.11h2.21v19.56h-2.21zM117.03 367.11h2.21v19.56h-2.21zM118.89 367.11h2.21v19.56h-2.21zM0.00 386.37h2.21v19.56h-2.21zM215.97 386.37h2.20v19.56h-2.20zM7.43 405.63h2.21v19.56h-2.21zM68.73 405.63h2.21v19.56h-2.21zM120.75 424.89h2.21v19.56h-2.21zM13.00 444.14h2.21v19.56h-2.21zM39.01 444.14h2.21v19.56h-2.21zM135.61 463.40h2.21v19.56h-2.21zM85.45 482.66h2.21v19.56h-2.21zM102.17 482.66h2.21v19.56h-2.21zM182.60 501.91h2.20v19.56h-2.20zM193.72 521.17h2.20v19.56h-2.20zM14.86 559.69h2.21v19.56h-2.21zM152.33 578.94h2.21v19.56h-2.21zM175.18 578.94h2.20v19.56h-2.20zM288.29 578.94h2.20v19.56h-2.20z"/>
<path fill="#f0f6d1" d="M46.44 59.00h2.21v19.56h-2.21zM201.14 59.00h2.20v19.56h-2.20zM305.07 59.00h2.19v19.56h-2.19zM316.08 78.26h2.19v19.56h-2.19zM193.72 97.51h2.20v19.56h-2.20zM316.08 97.51h2.19v19.56h-2.19zM288.29 116.77h2.20v19.56h-2.20zM0.00 136.03h2.21v19.56h-2.21zM118.89 136.03h2.21v19.56h-2.21zM1.86 174.54h2.21v19.56h-2.21zM107.74 174.54h2.21v19.56h-2.21zM191.87 174.54h2.20v19.56h-2.20zM92.88 193.80h2.21v19.56h-2.21zM271.60 213.06h2.20v19.56h-2.20zM275.31 251.57h2.20v19.56h-2.20zM330.77 251.57h2.19v19.56h-2.19zM27.86 270.83h2.21v19.56h-2.21zM286.44 270.83h2.20v19.56h-2.20zM295.90 270.83h2.19v19.56h-2.19zM7.43 328.60h2.21v19.56h-2.21zM74.31 328.60h2.21v19.56h-2.21zM89.17 328.60h2.21v19.56h-2.21zM107.74 328.60h2.21v19.56h-2.21zM139.32 328.60h2.21v19.56h-2.21zM91.02 347.86h2.21v19.56h-2.21zM115.17 347.86h2.21v19.56h-2.21zM29.72 367.11h2.21v19.56h-2.21zM271.60 367.11h2.20v19.56h-2.20zM7.43 386.37h2.21v19.56h-2.21zM13.00 386.37h2.21v19.56h-2.21zM282.73 386.37h2.20v19.56h-2.20zM85.45 405.63h2.21v19.56h-2.21zM115.17 405.63h2.21v19.56h-2.21zM156.04 405.63h2.21v19.56h-2.21zM9.29 424.89h2.21v19.56h-2.21zM26.01 424.89h2.21v19.56h-2.21zM152.33 424.89h2.21v19.56h-2.21zM325.26 424.89h2.19v19.56h-2.19zM201.14 444.14h2.20v19.56h-2.20zM202.99 444.14h2.20v19.56h-2.20zM115.17 463.40h2.21v19.56h-2.21zM1.86 482.66h2.21v19.56h-2.21zM14.86 482.66h2.21v19.56h-2.21zM148.61 482.66h2.21v19.56h-2.21zM297.73 482.66h2.19v19.56h-2.19zM14.86 501.91h2.21v19.56h-2.21zM126.32 501.91h2.21v19.56h-2.21zM193.72 501.91h2.20v19.56h-2.20zM3.72 521.17h2.21v19.56h-2.21zM249.35 521.17h2.20v19.56h-2.20zM178.89 559.69h2.20v19.56h-2.20zM180.74 559.69h2.20v19.56h-2.20z"/>
<path fill="#f2f6ce" d="M146.75 78.26h2.21v19.56h-2.21zM195.58 97.51h2.20v19.56h-2.20zM3.72 116.77h2.21v19.56h-2.21zM144.90 136.03h2.21v19.56h-2.21zM162.20 136.03h2.20v19.56h-2.20zM42.73 155.29h2.21v19.56h-2.21zM85.45 174.54h2.21v19.56h-2.21zM162.20 174.54h2.20v19.56h-2.20zM18.58 193.80h2.21v19.56h-2.21zM223.39 193.80h2.20v19.56h-2.20zM280.87 193.80h2.20v19.56h-2.20zM18.58 213.06h2.21v19.56h-2.21zM111.46 213.06h2.21v19.56h-2.21zM295.90 213.06h2.19v19.56h-2.19zM81.74 251.57h2.21v19.56h-2.21zM91.02 251.57h2.21v19.56h-2.21zM104.03 270.83h2.21v19.56h-2.21zM3.72 290.09h2.21v19.56h-2.21zM70.59 309.34h2.21v19.56h-2.21zM104.03 328.60h2.21v19.56h-2.21zM128.18 328.60h2.21v19.56h-2.21zM122.60 347.86h2.21v19.56h-2.21zM42.73 367.11h2.21v19.56h-2.21zM83.59 386.37h2.21v19.56h-2.21zM169.62 386.37h2.20v19.56h-2.20zM182.60 405.63h2.20v19.56h-2.20zM330.77 424.89h2.19v19.56h-2.19zM148.61 444.14h2.21v19.56h-2.21zM128.18 463.40h2.21v19.56h-2.21zM133.75 463.40h2.21v19.56h-2.21zM131.89 482.66h2.21v19.56h-2.21zM5.57 501.91h2.21v19.56h-2.21zM91.02 501.91h2.21v19.56h-2.21zM37.15 521.17h2.21v19.56h-2.21zM120.75 521.17h2.21v19.56h-2.21zM152.33 521.17h2.21v19.56h-2.21zM260.48 540.43h2.20v19.56h-2.20zM39.01 559.69h2.21v19.56h-2.21zM96.60 559.69h2.21v19.56h-2.21zM124.46 559.69h2.21v19.56h-2.21zM9.29 578.94h2.21v19.56h-2.21zM11.15 578.94h2.21v19.56h-2.21zM14.86 578.94h2.21v19.56h-2.21zM72.45 578.94h2.21v19.56h-2.21zM133.75 578.94h2.21v19.56h-2.21z"/>
<path fill="#f4f7cb" d="M18.58 59.00h2.21v19.56h-2.21zM52.01 59.00h2.21v19.56h-2.21zM105.89 59.00h2.21v19.56h-2.21zM212.27 59.00h2.20v19.56h-2.20zM48.30 78.26h2.21v19.56h-2.21zM50.16 78.26h2.21v19.56h-2.21zM197.43 78.26h2.20v19.56h-2.20zM279.02 78.26h2.20v19.56h-2.20zM113.32 116.77h2.21v19.56h-2.21zM131.89 116.77h2.21v19.56h-2.21zM262.33 155.29h2.20v19.56h-2.20zM330.77 155.29h2.19v19.56h-2.19zM201.14 174.54h2.20v19.56h-2.20zM128.18 193.80h2.21v19.56h-2.21zM131.89 193.80h2.21v19.56h-2.21zM193.72 193.80h2.20v19.56h-2.20zM133.75 213.06h2.21v19.56h-2.21zM243.79 213.06h2.20v19.56h-2.20zM267.89 213.06h2.20v19.56h-2.20zM48.30 251.57h2.21v19.56h-2.21zM104.03 251.57h2.21v19.56h-2.21zM122.60 251.57h2.21v19.56h-2.21zM48.30 367.11h2.21v19.56h-2.21zM186.31 367.11h2.20v19.56h-2.20zM68.73 386.37h2.21v19.56h-2.21zM117.03 386.37h2.21v19.56h-2.21zM328.93 386.37h2.19v19.56h-2.19zM113.32 405.63h2.21v19.56h-2.21zM295.90 405.63h2.19v19.56h-2.19zM0.00 424.89h2.21v19.56h-2.21zM111.46 424.89h2.21v19.56h-2.21zM124.46 424.89h2.21v19.56h-2.21zM195.58 463.40h2.20v19.56h-2.20zM83.59 482.66h2.21v19.56h-2.21zM104.03 501.91h2.21v19.56h-2.21zM105.89 501.91h2.21v19.56h-2.21zM215.97 540.43h2.20v19.56h-2.20zM59.44 559.69h2.21v19.56h-2.21zM94.74 559.69h2.21v19.56h-2.21zM109.60 578.94h2.21v19.56h-2.21zM191.87 578.94h2.20v19.56h-2.20z"/>
<path fill="#f6f7c8" d="M107.74 59.00h2.21v19.56h-2.21zM210.41 59.00h2.20v19.56h-2.20zM13.00 97.51h2.21v19.56h-2.21zM18.58 97.51h2.21v19.56h-2.21zM305.07 136.03h2.19v19.56h-2.19zM210.41 174.54h2.20v19.56h-2.20zM288.29 193.80h2.20v19.56h-2.20zM0.00 213.06h2.21v19.56h-2.21zM128.18 213.06h2.21v19.56h-2.21zM175.18 213.06h2.20v19.56h-2.20zM197.43 213.06h2.20v19.56h-2.20zM225.25 213.06h2.20v19.56h-2.20zM131.89 232.31h2.21v19.56h-2.21zM9.29 328.60h2.21v19.56h-2.21zM52.01 328.60h2.21v19.56h-2.21zM72.45 347.86h2.21v19.56h-2.21zM131.89 367.11h2.21v19.56h-2.21zM66.88 405.63h2.21v19.56h-2.21zM1.86 424.89h2.21v19.56h-2.21zM107.74 444.14h2.21v19.56h-2.21zM295.90 444.14h2.19v19.56h-2.19zM18.58 482.66h2.21v19.56h-2.21zM31.58 482.66h2.21v19.56h-2.21zM253.06 482.66h2.20v19.56h-2.20zM186.31 501.91h2.20v19.56h-2.20zM221.54 501.91h2.20v19.56h-2.20zM171.47 521.17h2.20v19.56h-2.20zM215.97 521.17h2.20v19.56h-2.20zM27.86 540.43h2.21v19.56h-2.21zM61.30 578.94h2.21v19.56h-2.21z"/>
<path fill="#f7f7c5" d="M104.03 97.51h2.21v19.56h-2.21zM328.93 97.51h2.19v19.56h-2.19zM305.07 155.29h2.19v19.56h-2.19zM0.00 174.54h2.21v19.56h-2.21zM24.15 193.80h2.21v19.56h-2.21zM107.74 232.31h2.21v19.56h-2.21zM249.35 232.31h2.20v19.56h-2.20zM102.17 251.57h2.21v19.56h-2.21zM52.01 309.34h2.21v19.56h-2.21zM27.86 328.60h2.21v19.56h-2.21zM44.58 347.86h2.21v19.56h-2.21zM22.29 386.37h2.21v19.56h-2.21zM61.30 405.63h2.21v19.56h-2.21zM40.87 444.14h2.21v19.56h-2.21zM150.47 444.14h2.21v19.56h-2.21zM22.29 463.40h2.21v19.56h-2.21zM135.61 482.66h2.21v19.56h-2.21zM245.64 521.17h2.20v19.56h-2.20zM256.77 521.17h2.20v19.56h-2.20zM135.61 559.69h2.21v19.56h-2.21zM117.03 578.94h2.21v19.56h-2.21zM275.31 578.94h2.20v19.56h-2.20z"/>
<path fill="#f9f8c2" d="M1.86 193.80h2.21v19.56h-2.21zM94.74 405.63h2.21v19.56h-2.21zM188.16 405.63h2.20v19.56h-2.20zM330.77 405.63h2.19v19.56h-2.19zM105.89 424.89h2.21v19.56h-2.21zM0.00 501.91h2.21v19.56h-2.21zM0.00 521.17h2.21v19.56h-2.21zM92.88 559.69h2.21v19.56h-2.21z"/>
<path fill="#faf7bf" d="M286.44 155.29h2.20v19.56h-2.20zM133.75 367.11h2.21v19.56h-2.21zM328.93 444.14h2.19v19.56h-2.19zM7.43 463.40h2.21v19.56h-2.21z"/>
<path fill="#faf6bc" d="M128.18 174.54h2.21v19.56h-2.21zM83.59 213.06h2.21v19.56h-2.21zM1.86 270.83h2.21v19.56h-2.21zM40.87 328.60h2.21v19.56h-2.21zM223.39 463.40h2.20v19.56h-2.20zM245.64 540.43h2.20v19.56h-2.20z"/>
<path fill="#faf4ba" d="M13.00 116.77h2.21v19.56h-2.21zM107.74 290.09h2.21v19.56h-2.21zM81.74 309.34h2.21v19.56h-2.21zM251.21 367.11h2.20v19.56h-2.20zM27.86 405.63h2.21v19.56h-2.21zM109.60 540.43h2.21v19.56h-2.21z"/>
<path fill="#faf2b7" d="M104.03 155.29h2.21v19.56h-2.21zM247.50 251.57h2.20v19.56h-2.20zM290.15 270.83h2.20v19.56h-2.20zM137.47 367.11h2.21v19.56h-2.21zM9.29 444.14h2.21v19.56h-2.21zM117.03 501.91h2.21v19.56h-2.21zM169.62 540.43h2.20v19.56h-2.20z"/>
<path fill="#f9f1b5" d="M48.30 116.77h2.21v19.56h-2.21zM29.72 232.31h2.21v19.56h-2.21zM197.43 232.31h2.20v19.56h-2.20zM83.59 270.83h2.21v19.56h-2.21zM177.03 270.83h2.20v19.56h-2.20zM24.15 290.09h2.21v19.56h-2.21zM40.87 347.86h2.21v19.56h-2.21zM297.73 444.14h2.19v19.56h-2.19zM186.31 482.66h2.20v19.56h-2.20zM180.74 521.17h2.20v19.56h-2.20z"/>
<path fill="#f9efb2" d="M74.31 59.00h2.21v19.56h-2.21zM143.04 59.00h2.21v19.56h-2.21zM182.60 59.00h2.20v19.56h-2.20zM256.77 59.00h2.20v19.56h-2.20zM14.86 136.03h2.21v19.56h-2.21zM91.02 155.29h2.21v19.56h-2.21zM253.06 174.54h2.20v19.56h-2.20zM0.00 193.80h2.21v19.56h-2.21zM40.87 193.80h2.21v19.56h-2.21zM260.48 193.80h2.20v19.56h-2.20zM267.89 193.80h2.20v19.56h-2.20zM91.02 232.31h2.21v19.56h-2.21zM104.03 232.31h2.21v19.56h-2.21zM199.29 251.57h2.20v19.56h-2.20zM282.73 251.57h2.20v19.56h-2.20zM321.59 270.83h2.19v19.56h-2.19zM195.58 290.09h2.20v19.56h-2.20zM262.33 309.34h2.20v19.56h-2.20zM92.88 328.60h2.21v19.56h-2.21zM180.74 328.60h2.20v19.56h-2.20zM256.77 347.86h2.20v19.56h-2.20zM223.39 367.11h2.20v19.56h-2.20zM24.15 386.37h2.21v19.56h-2.21zM137.47 386.37h2.21v19.56h-2.21zM24.15 405.63h2.21v19.56h-2.21zM48.30 405.63h2.21v19.56h-2.21zM55.73 463.40h2.21v19.56h-2.21zM70.59 463.40h2.21v19.56h-2.21zM269.75 463.40h2.20v19.56h-2.20zM81.74 482.66h2.21v19.56h-2.21zM164.05 482.66h2.20v19.56h-2.20zM193.72 482.66h2.20v19.56h-2.20zM177.03 501.91h2.20v19.56h-2.20zM223.39 521.17h2.20v19.56h-2.20zM128.18 559.69h2.21v19.56h-2.21zM150.47 578.94h2.21v19.56h-2.21z"/>
<path fill="#f9eeaf" d="M81.74 59.00h2.21v19.56h-2.21zM130.04 59.00h2.21v19.56h-2.21zM3.72 78.26h2.21v19.56h-2.21zM44.58 97.51h2.21v19.56h-2.21zM105.89 97.51h2.21v19.56h-2.21zM111.46 97.51h2.21v19.56h-2.21zM65.02 116.77h2.21v19.56h-2.21zM227.10 116.77h2.20v19.56h-2.20zM275.31 116.77h2.20v19.56h-2.20zM286.44 116.77h2.20v19.56h-2.20zM72.45 136.03h2.21v19.56h-2.21zM215.97 136.03h2.20v19.56h-2.20zM232.66 136.03h2.20v19.56h-2.20zM282.73 136.03h2.20v19.56h-2.20zM130.04 155.29h2.21v19.56h-2.21zM186.31 155.29h2.20v19.56h-2.20zM188.16 155.29h2.20v19.56h-2.20zM312.42 155.29h2.19v19.56h-2.19zM59.44 174.54h2.21v19.56h-2.21zM267.89 174.54h2.20v19.56h-2.20zM253.06 193.80h2.20v19.56h-2.20zM277.17 193.80h2.20v19.56h-2.20zM31.58 213.06h2.21v19.56h-2.21zM35.30 213.06h2.21v19.56h-2.21zM154.18 213.06h2.21v19.56h-2.21zM221.54 213.06h2.20v19.56h-2.20zM16.72 232.31h2.21v19.56h-2.21zM135.61 232.31h2.21v19.56h-2.21zM162.20 232.31h2.20v19.56h-2.20zM5.57 251.57h2.21v19.56h-2.21zM48.30 270.83h2.21v19.56h-2.21zM212.27 270.83h2.20v19.56h-2.20zM83.59 290.09h2.21v19.56h-2.21zM154.18 290.09h2.21v19.56h-2.21zM167.76 309.34h2.20v19.56h-2.20zM184.45 328.60h2.20v19.56h-2.20zM251.21 328.60h2.20v19.56h-2.20zM105.89 347.86h2.21v19.56h-2.21zM148.61 347.86h2.21v19.56h-2.21zM275.31 347.86h2.20v19.56h-2.20zM26.01 367.11h2.21v19.56h-2.21zM59.44 367.11h2.21v19.56h-2.21zM81.74 367.11h2.21v19.56h-2.21zM253.06 367.11h2.20v19.56h-2.20zM254.91 367.11h2.20v19.56h-2.20zM3.72 386.37h2.21v19.56h-2.21zM35.30 386.37h2.21v19.56h-2.21zM40.87 386.37h2.21v19.56h-2.21zM240.08 386.37h2.20v19.56h-2.20zM247.50 386.37h2.20v19.56h-2.20zM254.91 405.63h2.20v19.56h-2.20zM271.60 405.63h2.20v19.56h-2.20zM328.93 405.63h2.19v19.56h-2.19zM29.72 424.89h2.21v19.56h-2.21zM319.75 424.89h2.19v19.56h-2.19zM100.31 444.14h2.21v19.56h-2.21zM126.32 444.14h2.21v19.56h-2.21zM191.87 444.14h2.20v19.56h-2.20zM258.62 444.14h2.20v19.56h-2.20zM308.75 444.14h2.19v19.56h-2.19zM327.10 444.14h2.19v19.56h-2.19zM65.02 463.40h2.21v19.56h-2.21zM275.31 463.40h2.20v19.56h-2.20zM327.10 463.40h2.19v19.56h-2.19zM89.17 482.66h2.21v19.56h-2.21zM254.91 482.66h2.20v19.56h-2.20zM323.43 482.66h2.19v19.56h-2.19zM164.05 501.91h2.20v19.56h-2.20zM188.16 521.17h2.20v19.56h-2.20zM92.88 540.43h2.21v19.56h-2.21zM273.46 540.43h2.20v19.56h-2.20zM78.02 559.69h2.21v19.56h-2.21zM167.76 559.69h2.20v19.56h-2.20zM173.33 559.69h2.20v19.56h-2.20zM66.88 578.94h2.21v19.56h-2.21zM180.74 578.94h2.20v19.56h-2.20z"/>
<path fill="#f9ecad" d="M113.32 59.00h2.21v19.56h-2.21zM241.93 59.00h2.20v19.56h-2.20zM9.29 78.26h2.21v19.56h-2.21zM230.81 78.26h2.20v19.56h-2.20zM325.26 78.26h2.19v19.56h-2.19zM11.15 97.51h2.21v19.56h-2.21zM306.91 97.51h2.19v19.56h-2.19zM46.44 116.77h2.21v19.56h-2.21zM154.18 136.03h2.21v19.56h-2.21zM210.41 136.03h2.20v19.56h-2.20zM234.52 136.03h2.20v19.56h-2.20zM262.33 136.03h2.20v19.56h-2.20zM29.72 155.29h2.21v19.56h-2.21zM59.44 155.29h2.21v19.56h-2.21zM85.45 155.29h2.21v19.56h-2.21zM150.47 155.29h2.21v19.56h-2.21zM193.72 155.29h2.20v19.56h-2.20zM83.59 174.54h2.21v19.56h-2.21zM148.61 174.54h2.21v19.56h-2.21zM154.18 174.54h2.21v19.56h-2.21zM22.29 193.80h2.21v19.56h-2.21zM81.74 193.80h2.21v19.56h-2.21zM150.47 193.80h2.21v19.56h-2.21zM184.45 193.80h2.20v19.56h-2.20zM269.75 193.80h2.20v19.56h-2.20zM40.87 213.06h2.21v19.56h-2.21zM42.73 213.06h2.21v19.56h-2.21zM118.89 213.06h2.21v19.56h-2.21zM126.32 213.06h2.21v19.56h-2.21zM137.47 213.06h2.21v19.56h-2.21zM148.61 213.06h2.21v19.56h-2.21zM173.33 213.06h2.20v19.56h-2.20zM188.16 213.06h2.20v19.56h-2.20zM317.92 213.06h2.19v19.56h-2.19zM74.31 232.31h2.21v19.56h-2.21zM122.60 232.31h2.21v19.56h-2.21zM148.61 232.31h2.21v19.56h-2.21zM150.47 232.31h2.21v19.56h-2.21zM184.45 251.57h2.20v19.56h-2.20zM212.27 251.57h2.20v19.56h-2.20zM70.59 270.83h2.21v19.56h-2.21zM74.31 270.83h2.21v19.56h-2.21zM162.20 270.83h2.20v19.56h-2.20zM199.29 270.83h2.20v19.56h-2.20zM210.41 270.83h2.20v19.56h-2.20zM215.97 270.83h2.20v19.56h-2.20zM171.47 290.09h2.20v19.56h-2.20zM214.12 290.09h2.20v19.56h-2.20zM227.10 290.09h2.20v19.56h-2.20zM271.60 290.09h2.20v19.56h-2.20zM102.17 309.34h2.21v19.56h-2.21zM139.32 309.34h2.21v19.56h-2.21zM199.29 309.34h2.20v19.56h-2.20zM109.60 328.60h2.21v19.56h-2.21zM171.47 328.60h2.20v19.56h-2.20zM5.57 347.86h2.21v19.56h-2.21zM144.90 347.86h2.21v19.56h-2.21zM0.00 367.11h2.21v19.56h-2.21zM3.72 367.11h2.21v19.56h-2.21zM31.58 367.11h2.21v19.56h-2.21zM98.46 367.11h2.21v19.56h-2.21zM128.18 367.11h2.21v19.56h-2.21zM202.99 367.11h2.20v19.56h-2.20zM26.01 386.37h2.21v19.56h-2.21zM195.58 386.37h2.20v19.56h-2.20zM202.99 405.63h2.20v19.56h-2.20zM228.95 405.63h2.20v19.56h-2.20zM245.64 405.63h2.20v19.56h-2.20zM53.87 424.89h2.21v19.56h-2.21zM195.58 424.89h2.20v19.56h-2.20zM57.59 444.14h2.21v19.56h-2.21zM131.89 444.14h2.21v19.56h-2.21zM169.62 444.14h2.20v19.56h-2.20zM109.60 463.40h2.21v19.56h-2.21zM120.75 463.40h2.21v19.56h-2.21zM152.33 463.40h2.21v19.56h-2.21zM208.56 463.40h2.20v19.56h-2.20zM319.75 463.40h2.19v19.56h-2.19zM330.77 463.40h2.19v19.56h-2.19zM16.72 482.66h2.21v19.56h-2.21zM120.75 482.66h2.21v19.56h-2.21zM109.60 521.17h2.21v19.56h-2.21zM175.18 521.17h2.20v19.56h-2.20zM279.02 521.17h2.20v19.56h-2.20zM57.59 540.43h2.21v19.56h-2.21zM154.18 540.43h2.21v19.56h-2.21zM199.29 540.43h2.20v19.56h-2.20zM227.10 540.43h2.20v19.56h-2.20zM16.72 559.69h2.21v19.56h-2.21zM33.44 559.69h2.21v19.56h-2.21zM137.47 559.69h2.21v19.56h-2.21zM37.15 578.94h2.21v19.56h-2.21zM65.02 578.94h2.21v19.56h-2.21zM81.74 578.94h2.21v19.56h-2.21z"/>
<path fill="#f9ebaa" d="M288.29 59.00h2.20v19.56h-2.20zM33.44 78.26h2.21v19.56h-2.21zM44.58 78.26h2.21v19.56h-2.21zM66.88 78.26h2.21v19.56h-2.21zM76.16 78.26h2.21v19.56h-2.21zM104.03 78.26h2.21v19.56h-2.21zM169.62 78.26h2.20v19.56h-2.20zM223.39 78.26h2.20v19.56h-2.20zM228.95 78.26h2.20v19.56h-2.20zM33.44 97.51h2.21v19.56h-2.21zM100.31 97.51h2.21v19.56h-2.21zM148.61 97.51h2.21v19.56h-2.21zM223.39 97.51h2.20v19.56h-2.20zM256.77 97.51h2.20v19.56h-2.20zM70.59 116.77h2.21v19.56h-2.21zM87.31 116.77h2.21v19.56h-2.21zM262.33 116.77h2.20v19.56h-2.20zM264.19 116.77h2.20v19.56h-2.20zM297.73 116.77h2.19v19.56h-2.19zM323.43 116.77h2.19v19.56h-2.19zM37.15 136.03h2.21v19.56h-2.21zM109.60 136.03h2.21v19.56h-2.21zM113.32 136.03h2.21v19.56h-2.21zM236.37 136.03h2.20v19.56h-2.20zM1.86 155.29h2.21v19.56h-2.21zM3.72 155.29h2.21v19.56h-2.21zM253.06 155.29h2.20v19.56h-2.20zM256.77 155.29h2.20v19.56h-2.20zM271.60 155.29h2.20v19.56h-2.20zM295.90 155.29h2.19v19.56h-2.19zM42.73 174.54h2.21v19.56h-2.21zM89.17 174.54h2.21v19.56h-2.21zM122.60 174.54h2.21v19.56h-2.21zM182.60 174.54h2.20v19.56h-2.20zM186.31 174.54h2.20v19.56h-2.20zM240.08 174.54h2.20v19.56h-2.20zM279.02 174.54h2.20v19.56h-2.20zM290.15 174.54h2.20v19.56h-2.20zM305.07 174.54h2.19v19.56h-2.19zM37.15 193.80h2.21v19.56h-2.21zM182.60 193.80h2.20v19.56h-2.20zM201.14 213.06h2.20v19.56h-2.20zM223.39 213.06h2.20v19.56h-2.20zM133.75 232.31h2.21v19.56h-2.21zM279.02 232.31h2.20v19.56h-2.20zM40.87 251.57h2.21v19.56h-2.21zM197.43 251.57h2.20v19.56h-2.20zM271.60 251.57h2.20v19.56h-2.20zM319.75 251.57h2.19v19.56h-2.19zM94.74 270.83h2.21v19.56h-2.21zM190.01 270.83h2.20v19.56h-2.20zM284.58 270.83h2.20v19.56h-2.20zM65.02 290.09h2.21v19.56h-2.21zM117.03 290.09h2.21v19.56h-2.21zM131.89 290.09h2.21v19.56h-2.21zM1.86 309.34h2.21v19.56h-2.21zM24.15 309.34h2.21v19.56h-2.21zM295.90 309.34h2.19v19.56h-2.19zM319.75 309.34h2.19v19.56h-2.19zM24.15 328.60h2.21v19.56h-2.21zM26.01 328.60h2.21v19.56h-2.21zM193.72 328.60h2.20v19.56h-2.20zM14.86 347.86h2.21v19.56h-2.21zM59.44 347.86h2.21v19.56h-2.21zM104.03 347.86h2.21v19.56h-2.21zM109.60 347.86h2.21v19.56h-2.21zM165.91 347.86h2.20v19.56h-2.20zM186.31 347.86h2.20v19.56h-2.20zM202.99 347.86h2.20v19.56h-2.20zM18.58 367.11h2.21v19.56h-2.21zM68.73 367.11h2.21v19.56h-2.21zM162.20 367.11h2.20v19.56h-2.20zM167.76 367.11h2.20v19.56h-2.20zM9.29 386.37h2.21v19.56h-2.21zM102.17 386.37h2.21v19.56h-2.21zM184.45 386.37h2.20v19.56h-2.20zM20.43 405.63h2.21v19.56h-2.21zM165.91 405.63h2.20v19.56h-2.20zM169.62 405.63h2.20v19.56h-2.20zM175.18 405.63h2.20v19.56h-2.20zM178.89 405.63h2.20v19.56h-2.20zM236.37 405.63h2.20v19.56h-2.20zM240.08 405.63h2.20v19.56h-2.20zM256.77 405.63h2.20v19.56h-2.20zM286.44 405.63h2.20v19.56h-2.20zM18.58 444.14h2.21v19.56h-2.21zM46.44 444.14h2.21v19.56h-2.21zM273.46 444.14h2.20v19.56h-2.20zM3.72 463.40h2.21v19.56h-2.21zM20.43 463.40h2.21v19.56h-2.21zM24.15 463.40h2.21v19.56h-2.21zM40.87 463.40h2.21v19.56h-2.21zM154.18 463.40h2.21v19.56h-2.21zM156.04 463.40h2.21v19.56h-2.21zM197.43 463.40h2.20v19.56h-2.20zM232.66 482.66h2.20v19.56h-2.20zM165.91 501.91h2.20v19.56h-2.20zM175.18 501.91h2.20v19.56h-2.20zM92.88 521.17h2.21v19.56h-2.21zM117.03 521.17h2.21v19.56h-2.21zM167.76 521.17h2.20v19.56h-2.20zM330.77 521.17h2.19v19.56h-2.19zM81.74 540.43h2.21v19.56h-2.21zM113.32 540.43h2.21v19.56h-2.21zM193.72 540.43h2.20v19.56h-2.20zM214.12 540.43h2.20v19.56h-2.20zM288.29 540.43h2.20v19.56h-2.20zM40.87 559.69h2.21v19.56h-2.21zM327.10 559.69h2.19v19.56h-2.19zM167.76 578.94h2.20v19.56h-2.20zM214.12 578.94h2.20v19.56h-2.20zM219.68 578.94h2.20v19.56h-2.20zM264.19 578.94h2.20v19.56h-2.20zM266.04 578.94h2.20v19.56h-2.20z"/>
<path fill="#f9e9a8" d="M1.86 59.00h2.21v19.56h-2.21zM20.43 59.00h2.21v19.56h-2.21zM35.30 59.00h2.21v19.56h-2.21zM104.03 59.00h2.21v19.56h-2.21zM284.58 59.00h2.20v19.56h-2.20zM286.44 59.00h2.20v19.56h-2.20zM65.02 78.26h2.21v19.56h-2.21zM89.17 78.26h2.21v19.56h-2.21zM217.83 78.26h2.20v19.56h-2.20zM16.72 97.51h2.21v19.56h-2.21zM46.44 97.51h2.21v19.56h-2.21zM48.30 97.51h2.21v19.56h-2.21zM57.59 97.51h2.21v19.56h-2.21zM109.60 97.51h2.21v19.56h-2.21zM171.47 97.51h2.20v19.56h-2.20zM238.23 97.51h2.20v19.56h-2.20zM325.26 97.51h2.19v19.56h-2.19zM22.29 116.77h2.21v19.56h-2.21zM81.74 116.77h2.21v19.56h-2.21zM171.47 116.77h2.20v19.56h-2.20zM188.16 116.77h2.20v19.56h-2.20zM191.87 116.77h2.20v19.56h-2.20zM273.46 116.77h2.20v19.56h-2.20zM328.93 116.77h2.19v19.56h-2.19zM89.17 136.03h2.21v19.56h-2.21zM139.32 136.03h2.21v19.56h-2.21zM212.27 136.03h2.20v19.56h-2.20zM319.75 136.03h2.19v19.56h-2.19zM162.20 155.29h2.20v19.56h-2.20zM199.29 155.29h2.20v19.56h-2.20zM219.68 155.29h2.20v19.56h-2.20zM223.39 155.29h2.20v19.56h-2.20zM238.23 155.29h2.20v19.56h-2.20zM91.02 174.54h2.21v19.56h-2.21zM245.64 174.54h2.20v19.56h-2.20zM256.77 174.54h2.20v19.56h-2.20zM328.93 174.54h2.19v19.56h-2.19zM85.45 193.80h2.21v19.56h-2.21zM102.17 193.80h2.21v19.56h-2.21zM120.75 193.80h2.21v19.56h-2.21zM258.62 193.80h2.20v19.56h-2.20zM262.33 193.80h2.20v19.56h-2.20zM9.29 213.06h2.21v19.56h-2.21zM74.31 213.06h2.21v19.56h-2.21zM167.76 213.06h2.20v19.56h-2.20zM1.86 232.31h2.21v19.56h-2.21zM35.30 232.31h2.21v19.56h-2.21zM70.59 232.31h2.21v19.56h-2.21zM102.17 232.31h2.21v19.56h-2.21zM202.99 232.31h2.20v19.56h-2.20zM0.00 251.57h2.21v19.56h-2.21zM7.43 251.57h2.21v19.56h-2.21zM9.29 251.57h2.21v19.56h-2.21zM26.01 251.57h2.21v19.56h-2.21zM46.44 251.57h2.21v19.56h-2.21zM130.04 251.57h2.21v19.56h-2.21zM162.20 251.57h2.20v19.56h-2.20zM201.14 251.57h2.20v19.56h-2.20zM46.44 270.83h2.21v19.56h-2.21zM81.74 270.83h2.21v19.56h-2.21zM131.89 270.83h2.21v19.56h-2.21zM171.47 270.83h2.20v19.56h-2.20zM227.10 270.83h2.20v19.56h-2.20zM260.48 270.83h2.20v19.56h-2.20zM279.02 270.83h2.20v19.56h-2.20zM1.86 290.09h2.21v19.56h-2.21zM26.01 290.09h2.21v19.56h-2.21zM70.59 290.09h2.21v19.56h-2.21zM249.35 290.09h2.20v19.56h-2.20zM31.58 309.34h2.21v19.56h-2.21zM1.86 328.60h2.21v19.56h-2.21zM29.72 328.60h2.21v19.56h-2.21zM162.20 328.60h2.20v19.56h-2.20zM191.87 328.60h2.20v19.56h-2.20zM325.26 328.60h2.19v19.56h-2.19zM7.43 347.86h2.21v19.56h-2.21zM68.73 347.86h2.21v19.56h-2.21zM70.59 347.86h2.21v19.56h-2.21zM92.88 347.86h2.21v19.56h-2.21zM319.75 347.86h2.19v19.56h-2.19zM16.72 367.11h2.21v19.56h-2.21zM94.74 367.11h2.21v19.56h-2.21zM221.54 367.11h2.20v19.56h-2.20zM282.73 367.11h2.20v19.56h-2.20zM27.86 386.37h2.21v19.56h-2.21zM33.44 386.37h2.21v19.56h-2.21zM48.30 386.37h2.21v19.56h-2.21zM55.73 386.37h2.21v19.56h-2.21zM286.44 386.37h2.20v19.56h-2.20zM72.45 405.63h2.21v19.56h-2.21zM81.74 405.63h2.21v19.56h-2.21zM87.31 405.63h2.21v19.56h-2.21zM164.05 405.63h2.20v19.56h-2.20zM177.03 405.63h2.20v19.56h-2.20zM210.41 405.63h2.20v19.56h-2.20zM269.75 405.63h2.20v19.56h-2.20zM279.02 405.63h2.20v19.56h-2.20zM317.92 405.63h2.19v19.56h-2.19zM323.43 405.63h2.19v19.56h-2.19zM164.05 424.89h2.20v19.56h-2.20zM193.72 424.89h2.20v19.56h-2.20zM279.02 424.89h2.20v19.56h-2.20zM16.72 444.14h2.21v19.56h-2.21zM154.18 444.14h2.21v19.56h-2.21zM238.23 444.14h2.20v19.56h-2.20zM247.50 444.14h2.20v19.56h-2.20zM325.26 444.14h2.19v19.56h-2.19zM59.44 463.40h2.21v19.56h-2.21zM81.74 463.40h2.21v19.56h-2.21zM180.74 463.40h2.20v19.56h-2.20zM204.85 463.40h2.20v19.56h-2.20zM238.23 463.40h2.20v19.56h-2.20zM256.77 463.40h2.20v19.56h-2.20zM20.43 482.66h2.21v19.56h-2.21zM105.89 482.66h2.21v19.56h-2.21zM107.74 482.66h2.21v19.56h-2.21zM199.29 482.66h2.20v19.56h-2.20zM212.27 482.66h2.20v19.56h-2.20zM223.39 482.66h2.20v19.56h-2.20zM271.60 482.66h2.20v19.56h-2.20zM63.16 501.91h2.21v19.56h-2.21zM92.88 501.91h2.21v19.56h-2.21zM210.41 501.91h2.20v19.56h-2.20zM254.91 501.91h2.20v19.56h-2.20zM282.73 501.91h2.20v19.56h-2.20zM325.26 501.91h2.19v19.56h-2.19zM20.43 521.17h2.21v19.56h-2.21zM182.60 521.17h2.20v19.56h-2.20zM214.12 521.17h2.20v19.56h-2.20zM238.23 521.17h2.20v19.56h-2.20zM13.00 540.43h2.21v19.56h-2.21zM78.02 540.43h2.21v19.56h-2.21zM152.33 540.43h2.21v19.56h-2.21zM7.43 559.69h2.21v19.56h-2.21zM48.30 559.69h2.21v19.56h-2.21zM66.88 559.69h2.21v19.56h-2.21zM271.60 559.69h2.20v19.56h-2.20zM137.47 578.94h2.21v19.56h-2.21zM171.47 578.94h2.20v19.56h-2.20zM188.16 578.94h2.20v19.56h-2.20zM210.41 578.94h2.20v19.56h-2.20zM241.93 578.94h2.20v19.56h-2.20zM279.02 578.94h2.20v19.56h-2.20zM317.92 578.94h2.19v19.56h-2.19zM327.10 578.94h2.19v19.56h-2.19z"/>
<path fill="#f9e7a5" d="M68.73 59.00h2.21v19.56h-2.21zM115.17 59.00h2.21v19.56h-2.21zM118.89 59.00h2.21v19.56h-2.21zM146.75 59.00h2.21v19.56h-2.21zM195.58 59.00h2.20v19.56h-2.20zM262.33 59.00h2.20v19.56h-2.20zM26.01 78.26h2.21v19.56h-2.21zM94.74 78.26h2.21v19.56h-2.21zM120.75 78.26h2.21v19.56h-2.21zM266.04 78.26h2.20v19.56h-2.20zM317.92 78.26h2.19v19.56h-2.19zM150.47 97.51h2.21v19.56h-2.21zM175.18 97.51h2.20v19.56h-2.20zM177.03 97.51h2.20v19.56h-2.20zM199.29 97.51h2.20v19.56h-2.20zM202.99 97.51h2.20v19.56h-2.20zM236.37 97.51h2.20v19.56h-2.20zM78.02 116.77h2.21v19.56h-2.21zM109.60 116.77h2.21v19.56h-2.21zM126.32 116.77h2.21v19.56h-2.21zM137.47 116.77h2.21v19.56h-2.21zM148.61 116.77h2.21v19.56h-2.21zM217.83 116.77h2.20v19.56h-2.20zM236.37 116.77h2.20v19.56h-2.20zM314.25 116.77h2.19v19.56h-2.19zM5.57 136.03h2.21v19.56h-2.21zM164.05 136.03h2.20v19.56h-2.20zM245.64 136.03h2.20v19.56h-2.20zM286.44 136.03h2.20v19.56h-2.20zM316.08 136.03h2.19v19.56h-2.19zM325.26 136.03h2.19v19.56h-2.19zM137.47 155.29h2.21v19.56h-2.21zM167.76 155.29h2.20v19.56h-2.20zM195.58 155.29h2.20v19.56h-2.20zM254.91 155.29h2.20v19.56h-2.20zM301.40 155.29h2.19v19.56h-2.19zM40.87 174.54h2.21v19.56h-2.21zM98.46 174.54h2.21v19.56h-2.21zM102.17 174.54h2.21v19.56h-2.21zM126.32 174.54h2.21v19.56h-2.21zM254.91 174.54h2.20v19.56h-2.20zM297.73 174.54h2.19v19.56h-2.19zM9.29 193.80h2.21v19.56h-2.21zM11.15 193.80h2.21v19.56h-2.21zM178.89 193.80h2.20v19.56h-2.20zM180.74 193.80h2.20v19.56h-2.20zM234.52 193.80h2.20v19.56h-2.20zM241.93 193.80h2.20v19.56h-2.20zM7.43 213.06h2.21v19.56h-2.21zM20.43 213.06h2.21v19.56h-2.21zM91.02 213.06h2.21v19.56h-2.21zM102.17 213.06h2.21v19.56h-2.21zM117.03 213.06h2.21v19.56h-2.21zM139.32 213.06h2.21v19.56h-2.21zM240.08 213.06h2.20v19.56h-2.20zM24.15 232.31h2.21v19.56h-2.21zM26.01 232.31h2.21v19.56h-2.21zM52.01 232.31h2.21v19.56h-2.21zM87.31 232.31h2.21v19.56h-2.21zM89.17 232.31h2.21v19.56h-2.21zM126.32 232.31h2.21v19.56h-2.21zM171.47 232.31h2.20v19.56h-2.20zM186.31 232.31h2.20v19.56h-2.20zM188.16 232.31h2.20v19.56h-2.20zM193.72 232.31h2.20v19.56h-2.20zM254.91 232.31h2.20v19.56h-2.20zM271.60 232.31h2.20v19.56h-2.20zM330.77 232.31h2.19v19.56h-2.19zM1.86 251.57h2.21v19.56h-2.21zM65.02 251.57h2.21v19.56h-2.21zM126.32 251.57h2.21v19.56h-2.21zM164.05 251.57h2.20v19.56h-2.20zM180.74 251.57h2.20v19.56h-2.20zM254.91 251.57h2.20v19.56h-2.20zM29.72 270.83h2.21v19.56h-2.21zM184.45 270.83h2.20v19.56h-2.20zM29.72 290.09h2.21v19.56h-2.21zM109.60 290.09h2.21v19.56h-2.21zM199.29 290.09h2.20v19.56h-2.20zM279.02 290.09h2.20v19.56h-2.20zM282.73 290.09h2.20v19.56h-2.20zM162.20 309.34h2.20v19.56h-2.20zM214.12 309.34h2.20v19.56h-2.20zM221.54 309.34h2.20v19.56h-2.20zM282.73 309.34h2.20v19.56h-2.20zM33.44 328.60h2.21v19.56h-2.21zM122.60 328.60h2.21v19.56h-2.21zM133.75 328.60h2.21v19.56h-2.21zM154.18 328.60h2.21v19.56h-2.21zM16.72 347.86h2.21v19.56h-2.21zM31.58 347.86h2.21v19.56h-2.21zM46.44 347.86h2.21v19.56h-2.21zM94.74 347.86h2.21v19.56h-2.21zM131.89 347.86h2.21v19.56h-2.21zM133.75 347.86h2.21v19.56h-2.21zM5.57 367.11h2.21v19.56h-2.21zM92.88 367.11h2.21v19.56h-2.21zM130.04 367.11h2.21v19.56h-2.21zM139.32 367.11h2.21v19.56h-2.21zM164.05 367.11h2.20v19.56h-2.20zM173.33 367.11h2.20v19.56h-2.20zM260.48 367.11h2.20v19.56h-2.20zM279.02 367.11h2.20v19.56h-2.20zM37.15 386.37h2.21v19.56h-2.21zM39.01 386.37h2.21v19.56h-2.21zM76.16 386.37h2.21v19.56h-2.21zM107.74 386.37h2.21v19.56h-2.21zM109.60 386.37h2.21v19.56h-2.21zM118.89 386.37h2.21v19.56h-2.21zM139.32 386.37h2.21v19.56h-2.21zM173.33 386.37h2.20v19.56h-2.20zM284.58 386.37h2.20v19.56h-2.20zM0.00 405.63h2.21v19.56h-2.21zM33.44 405.63h2.21v19.56h-2.21zM44.58 405.63h2.21v19.56h-2.21zM46.44 405.63h2.21v19.56h-2.21zM55.73 405.63h2.21v19.56h-2.21zM65.02 405.63h2.21v19.56h-2.21zM74.31 405.63h2.21v19.56h-2.21zM89.17 405.63h2.21v19.56h-2.21zM98.46 405.63h2.21v19.56h-2.21zM120.75 405.63h2.21v19.56h-2.21zM162.20 405.63h2.20v19.56h-2.20zM195.58 405.63h2.20v19.56h-2.20zM201.14 405.63h2.20v19.56h-2.20zM219.68 405.63h2.20v19.56h-2.20zM83.59 424.89h2.21v19.56h-2.21zM162.20 424.89h2.20v19.56h-2.20zM165.91 424.89h2.20v19.56h-2.20zM169.62 424.89h2.20v19.56h-2.20zM178.89 424.89h2.20v19.56h-2.20zM190.01 424.89h2.20v19.56h-2.20zM199.29 424.89h2.20v19.56h-2.20zM221.54 424.89h2.20v19.56h-2.20zM256.77 424.89h2.20v19.56h-2.20zM98.46 444.14h2.21v19.56h-2.21zM122.60 444.14h2.21v19.56h-2.21zM190.01 444.14h2.20v19.56h-2.20zM197.43 444.14h2.20v19.56h-2.20zM13.00 463.40h2.21v19.56h-2.21zM46.44 463.40h2.21v19.56h-2.21zM57.59 463.40h2.21v19.56h-2.21zM102.17 463.40h2.21v19.56h-2.21zM249.35 463.40h2.20v19.56h-2.20zM267.89 463.40h2.20v19.56h-2.20zM277.17 463.40h2.20v19.56h-2.20zM133.75 482.66h2.21v19.56h-2.21zM197.43 482.66h2.20v19.56h-2.20zM219.68 482.66h2.20v19.56h-2.20zM286.44 482.66h2.20v19.56h-2.20zM7.43 501.91h2.21v19.56h-2.21zM135.61 501.91h2.21v19.56h-2.21zM167.76 501.91h2.20v19.56h-2.20zM225.25 501.91h2.20v19.56h-2.20zM5.57 521.17h2.21v19.56h-2.21zM70.59 521.17h2.21v19.56h-2.21zM83.59 521.17h2.21v19.56h-2.21zM87.31 521.17h2.21v19.56h-2.21zM126.32 521.17h2.21v19.56h-2.21zM197.43 521.17h2.20v19.56h-2.20zM212.27 521.17h2.20v19.56h-2.20zM323.43 521.17h2.19v19.56h-2.19zM3.72 540.43h2.21v19.56h-2.21zM120.75 540.43h2.21v19.56h-2.21zM299.57 540.43h2.19v19.56h-2.19zM22.29 559.69h2.21v19.56h-2.21zM120.75 559.69h2.21v19.56h-2.21zM122.60 559.69h2.21v19.56h-2.21zM150.47 559.69h2.21v19.56h-2.21zM182.60 559.69h2.20v19.56h-2.20zM184.45 559.69h2.20v19.56h-2.20zM253.06 559.69h2.20v19.56h-2.20zM177.03 578.94h2.20v19.56h-2.20zM221.54 578.94h2.20v19.56h-2.20zM258.62 578.94h2.20v19.56h-2.20zM284.58 578.94h2.20v19.56h-2.20z"/>
<path fill="#f9e6a3" d="M102.17 59.00h2.21v19.56h-2.21zM148.61 59.00h2.21v19.56h-2.21zM162.20 59.00h2.20v19.56h-2.20zM173.33 59.00h2.20v19.56h-2.20zM199.29 59.00h2.20v19.56h-2.20zM230.81 59.00h2.20v19.56h-2.20zM100.31 78.26h2.21v19.56h-2.21zM133.75 78.26h2.21v19.56h-2.21zM139.32 78.26h2.21v19.56h-2.21zM256.77 78.26h2.20v19.56h-2.20zM308.75 78.26h2.19v19.56h-2.19zM29.72 97.51h2.21v19.56h-2.21zM37.15 97.51h2.21v19.56h-2.21zM94.74 97.51h2.21v19.56h-2.21zM164.05 97.51h2.20v19.56h-2.20zM247.50 97.51h2.20v19.56h-2.20zM275.31 97.51h2.20v19.56h-2.20zM312.42 97.51h2.19v19.56h-2.19zM330.77 97.51h2.19v19.56h-2.19zM50.16 116.77h2.21v19.56h-2.21zM68.73 116.77h2.21v19.56h-2.21zM83.59 116.77h2.21v19.56h-2.21zM169.62 116.77h2.20v19.56h-2.20zM253.06 116.77h2.20v19.56h-2.20zM171.47 136.03h2.20v19.56h-2.20zM199.29 136.03h2.20v19.56h-2.20zM223.39 136.03h2.20v19.56h-2.20zM81.74 155.29h2.21v19.56h-2.21zM39.01 174.54h2.21v19.56h-2.21zM113.32 174.54h2.21v19.56h-2.21zM150.47 174.54h2.21v19.56h-2.21zM197.43 174.54h2.20v19.56h-2.20zM139.32 193.80h2.21v19.56h-2.21zM191.87 193.80h2.20v19.56h-2.20zM195.58 193.80h2.20v19.56h-2.20zM282.73 193.80h2.20v19.56h-2.20zM24.15 213.06h2.21v19.56h-2.21zM288.29 213.06h2.20v19.56h-2.20zM11.15 232.31h2.21v19.56h-2.21zM22.29 232.31h2.21v19.56h-2.21zM81.74 232.31h2.21v19.56h-2.21zM83.59 232.31h2.21v19.56h-2.21zM117.03 232.31h2.21v19.56h-2.21zM199.29 232.31h2.20v19.56h-2.20zM238.23 232.31h2.20v19.56h-2.20zM245.64 232.31h2.20v19.56h-2.20zM70.59 251.57h2.21v19.56h-2.21zM117.03 251.57h2.21v19.56h-2.21zM154.18 251.57h2.21v19.56h-2.21zM227.10 251.57h2.20v19.56h-2.20zM31.58 270.83h2.21v19.56h-2.21zM52.01 270.83h2.21v19.56h-2.21zM122.60 270.83h2.21v19.56h-2.21zM128.18 270.83h2.21v19.56h-2.21zM195.58 270.83h2.20v19.56h-2.20zM33.44 290.09h2.21v19.56h-2.21zM46.44 290.09h2.21v19.56h-2.21zM48.30 290.09h2.21v19.56h-2.21zM81.74 290.09h2.21v19.56h-2.21zM102.17 290.09h2.21v19.56h-2.21zM148.61 290.09h2.21v19.56h-2.21zM184.45 290.09h2.20v19.56h-2.20zM245.64 290.09h2.20v19.56h-2.20zM325.26 290.09h2.19v19.56h-2.19zM0.00 309.34h2.21v19.56h-2.21zM26.01 309.34h2.21v19.56h-2.21zM78.02 309.34h2.21v19.56h-2.21zM94.74 309.34h2.21v19.56h-2.21zM137.47 309.34h2.21v19.56h-2.21zM0.00 328.60h2.21v19.56h-2.21zM70.59 328.60h2.21v19.56h-2.21zM197.43 328.60h2.20v19.56h-2.20zM227.10 328.60h2.20v19.56h-2.20zM0.00 347.86h2.21v19.56h-2.21zM24.15 347.86h2.21v19.56h-2.21zM33.44 347.86h2.21v19.56h-2.21zM81.74 347.86h2.21v19.56h-2.21zM89.17 347.86h2.21v19.56h-2.21zM130.04 347.86h2.21v19.56h-2.21zM70.59 367.11h2.21v19.56h-2.21zM199.29 367.11h2.20v19.56h-2.20zM219.68 367.11h2.20v19.56h-2.20zM11.15 386.37h2.21v19.56h-2.21zM70.59 386.37h2.21v19.56h-2.21zM72.45 386.37h2.21v19.56h-2.21zM91.02 386.37h2.21v19.56h-2.21zM131.89 386.37h2.21v19.56h-2.21zM11.15 405.63h2.21v19.56h-2.21zM14.86 405.63h2.21v19.56h-2.21zM31.58 405.63h2.21v19.56h-2.21zM83.59 405.63h2.21v19.56h-2.21zM105.89 405.63h2.21v19.56h-2.21zM199.29 405.63h2.20v19.56h-2.20zM214.12 405.63h2.20v19.56h-2.20zM249.35 405.63h2.20v19.56h-2.20zM122.60 424.89h2.21v19.56h-2.21zM186.31 424.89h2.20v19.56h-2.20zM251.21 424.89h2.20v19.56h-2.20zM271.60 424.89h2.20v19.56h-2.20zM52.01 444.14h2.21v19.56h-2.21zM171.47 444.14h2.20v19.56h-2.20zM253.06 444.14h2.20v19.56h-2.20zM0.00 463.40h2.21v19.56h-2.21zM33.44 463.40h2.21v19.56h-2.21zM234.52 463.40h2.20v19.56h-2.20zM26.01 482.66h2.21v19.56h-2.21zM92.88 482.66h2.21v19.56h-2.21zM152.33 482.66h2.21v19.56h-2.21zM227.10 482.66h2.20v19.56h-2.20zM81.74 521.17h2.21v19.56h-2.21zM130.04 521.17h2.21v19.56h-2.21zM165.91 521.17h2.20v19.56h-2.20zM186.31 521.17h2.20v19.56h-2.20zM210.41 521.17h2.20v19.56h-2.20zM254.91 521.17h2.20v19.56h-2.20zM102.17 540.43h2.21v19.56h-2.21zM217.83 540.43h2.20v19.56h-2.20zM254.91 540.43h2.20v19.56h-2.20zM275.31 540.43h2.20v19.56h-2.20zM89.17 559.69h2.21v19.56h-2.21zM104.03 559.69h2.21v19.56h-2.21zM107.74 559.69h2.21v19.56h-2.21zM118.89 559.69h2.21v19.56h-2.21zM275.31 559.69h2.20v19.56h-2.20zM279.02 559.69h2.20v19.56h-2.20zM286.44 559.69h2.20v19.56h-2.20zM1.86 578.94h2.21v19.56h-2.21zM20.43 578.94h2.21v19.56h-2.21zM98.46 578.94h2.21v19.56h-2.21z"/>
<path fill="#f8e4a0" d="M317.92 59.00h2.19v19.56h-2.19zM27.86 78.26h2.21v19.56h-2.21zM267.89 78.26h2.20v19.56h-2.20zM297.73 78.26h2.19v19.56h-2.19zM76.16 97.51h2.21v19.56h-2.21zM173.33 97.51h2.20v19.56h-2.20zM319.75 97.51h2.19v19.56h-2.19zM321.59 97.51h2.19v19.56h-2.19zM98.46 116.77h2.21v19.56h-2.21zM182.60 116.77h2.20v19.56h-2.20zM1.86 136.03h2.21v19.56h-2.21zM46.44 136.03h2.21v19.56h-2.21zM81.74 136.03h2.21v19.56h-2.21zM122.60 136.03h2.21v19.56h-2.21zM131.89 136.03h2.21v19.56h-2.21zM182.60 136.03h2.20v19.56h-2.20zM243.79 136.03h2.20v19.56h-2.20zM182.60 155.29h2.20v19.56h-2.20zM225.25 155.29h2.20v19.56h-2.20zM7.43 174.54h2.21v19.56h-2.21zM16.72 174.54h2.21v19.56h-2.21zM74.31 193.80h2.21v19.56h-2.21zM225.25 193.80h2.20v19.56h-2.20zM27.86 213.06h2.21v19.56h-2.21zM325.26 232.31h2.19v19.56h-2.19zM33.44 251.57h2.21v19.56h-2.21zM169.62 251.57h2.20v19.56h-2.20zM271.60 270.83h2.20v19.56h-2.20zM297.73 270.83h2.19v19.56h-2.19zM0.00 290.09h2.21v19.56h-2.21zM162.20 290.09h2.20v19.56h-2.20zM193.72 290.09h2.20v19.56h-2.20zM197.43 290.09h2.20v19.56h-2.20zM44.58 309.34h2.21v19.56h-2.21zM154.18 309.34h2.21v19.56h-2.21zM188.16 309.34h2.20v19.56h-2.20zM284.58 309.34h2.20v19.56h-2.20zM31.58 328.60h2.21v19.56h-2.21zM271.60 328.60h2.20v19.56h-2.20zM26.01 347.86h2.21v19.56h-2.21zM29.72 347.86h2.21v19.56h-2.21zM154.18 347.86h2.21v19.56h-2.21zM39.01 367.11h2.21v19.56h-2.21zM83.59 367.11h2.21v19.56h-2.21zM107.74 367.11h2.21v19.56h-2.21zM94.74 386.37h2.21v19.56h-2.21zM128.18 386.37h2.21v19.56h-2.21zM171.47 386.37h2.20v19.56h-2.20zM180.74 386.37h2.20v19.56h-2.20zM210.41 386.37h2.20v19.56h-2.20zM297.73 386.37h2.19v19.56h-2.19zM1.86 405.63h2.21v19.56h-2.21zM18.58 405.63h2.21v19.56h-2.21zM26.01 405.63h2.21v19.56h-2.21zM35.30 405.63h2.21v19.56h-2.21zM107.74 405.63h2.21v19.56h-2.21zM117.03 405.63h2.21v19.56h-2.21zM275.31 405.63h2.20v19.56h-2.20zM31.58 424.89h2.21v19.56h-2.21zM143.04 424.89h2.21v19.56h-2.21zM254.91 424.89h2.20v19.56h-2.20zM221.54 444.14h2.20v19.56h-2.20zM85.45 463.40h2.21v19.56h-2.21zM87.31 463.40h2.21v19.56h-2.21zM126.32 463.40h2.21v19.56h-2.21zM171.47 463.40h2.20v19.56h-2.20zM210.41 463.40h2.20v19.56h-2.20zM24.15 482.66h2.21v19.56h-2.21zM109.60 482.66h2.21v19.56h-2.21zM162.20 482.66h2.20v19.56h-2.20zM177.03 482.66h2.20v19.56h-2.20zM118.89 501.91h2.21v19.56h-2.21zM251.21 501.91h2.20v19.56h-2.20zM14.86 521.17h2.21v19.56h-2.21zM16.72 521.17h2.21v19.56h-2.21zM164.05 521.17h2.20v19.56h-2.20zM169.62 521.17h2.20v19.56h-2.20zM177.03 521.17h2.20v19.56h-2.20zM221.54 521.17h2.20v19.56h-2.20zM271.60 521.17h2.20v19.56h-2.20zM16.72 540.43h2.21v19.56h-2.21zM63.16 559.69h2.21v19.56h-2.21zM154.18 559.69h2.21v19.56h-2.21zM31.58 578.94h2.21v19.56h-2.21zM53.87 578.94h2.21v19.56h-2.21zM118.89 578.94h2.21v19.56h-2.21zM267.89 578.94h2.20v19.56h-2.20z"/>
<path fill="#f8e39e" d="M5.57 59.00h2.21v19.56h-2.21zM27.86 59.00h2.21v19.56h-2.21zM245.64 59.00h2.20v19.56h-2.20zM264.19 59.00h2.20v19.56h-2.20zM323.43 59.00h2.19v19.56h-2.19zM5.57 78.26h2.21v19.56h-2.21zM212.27 97.51h2.20v19.56h-2.20zM254.91 97.51h2.20v19.56h-2.20zM39.01 116.77h2.21v19.56h-2.21zM139.32 116.77h2.21v19.56h-2.21zM184.45 116.77h2.20v19.56h-2.20zM35.30 136.03h2.21v19.56h-2.21zM202.99 136.03h2.20v19.56h-2.20zM219.68 136.03h2.20v19.56h-2.20zM212.27 155.29h2.20v19.56h-2.20zM18.58 174.54h2.21v19.56h-2.21zM92.88 174.54h2.21v19.56h-2.21zM188.16 174.54h2.20v19.56h-2.20zM190.01 174.54h2.20v19.56h-2.20zM7.43 193.80h2.21v19.56h-2.21zM284.58 193.80h2.20v19.56h-2.20zM59.44 213.06h2.21v19.56h-2.21zM202.99 213.06h2.20v19.56h-2.20zM249.35 213.06h2.20v19.56h-2.20zM137.47 232.31h2.21v19.56h-2.21zM284.58 232.31h2.20v19.56h-2.20zM107.74 251.57h2.21v19.56h-2.21zM109.60 251.57h2.21v19.56h-2.21zM137.47 270.83h2.21v19.56h-2.21zM282.73 270.83h2.20v19.56h-2.20zM188.16 290.09h2.20v19.56h-2.20zM191.87 290.09h2.20v19.56h-2.20zM29.72 309.34h2.21v19.56h-2.21zM33.44 309.34h2.21v19.56h-2.21zM3.72 347.86h2.21v19.56h-2.21zM182.60 347.86h2.20v19.56h-2.20zM78.02 367.11h2.21v19.56h-2.21zM182.60 367.11h2.20v19.56h-2.20zM197.43 367.11h2.20v19.56h-2.20zM267.89 367.11h2.20v19.56h-2.20zM87.31 386.37h2.21v19.56h-2.21zM212.27 386.37h2.20v19.56h-2.20zM254.91 386.37h2.20v19.56h-2.20zM16.72 405.63h2.21v19.56h-2.21zM144.90 405.63h2.21v19.56h-2.21zM148.61 405.63h2.21v19.56h-2.21zM262.33 405.63h2.20v19.56h-2.20zM191.87 424.89h2.20v19.56h-2.20zM197.43 424.89h2.20v19.56h-2.20zM217.83 444.14h2.20v19.56h-2.20zM266.04 444.14h2.20v19.56h-2.20zM16.72 463.40h2.21v19.56h-2.21zM124.46 463.40h2.21v19.56h-2.21zM16.72 501.91h2.21v19.56h-2.21zM59.44 540.43h2.21v19.56h-2.21zM177.03 540.43h2.20v19.56h-2.20zM256.77 540.43h2.20v19.56h-2.20zM74.31 559.69h2.21v19.56h-2.21zM79.88 559.69h2.21v19.56h-2.21zM277.17 559.69h2.20v19.56h-2.20zM288.29 559.69h2.20v19.56h-2.20zM269.75 578.94h2.20v19.56h-2.20z"/>
<path fill="#f8e19b" d="M243.79 78.26h2.20v19.56h-2.20zM83.59 97.51h2.21v19.56h-2.21zM3.72 136.03h2.21v19.56h-2.21zM148.61 155.29h2.21v19.56h-2.21zM76.16 174.54h2.21v19.56h-2.21zM137.47 174.54h2.21v19.56h-2.21zM184.45 174.54h2.20v19.56h-2.20zM98.46 193.80h2.21v19.56h-2.21zM214.12 193.80h2.20v19.56h-2.20zM227.10 193.80h2.20v19.56h-2.20zM323.43 232.31h2.19v19.56h-2.19zM14.86 251.57h2.21v19.56h-2.21zM214.12 251.57h2.20v19.56h-2.20zM217.83 251.57h2.20v19.56h-2.20zM139.32 270.83h2.21v19.56h-2.21zM243.79 270.83h2.20v19.56h-2.20zM150.47 290.09h2.21v19.56h-2.21zM190.01 309.34h2.20v19.56h-2.20zM253.06 328.60h2.20v19.56h-2.20zM120.75 347.86h2.21v19.56h-2.21zM208.56 386.37h2.20v19.56h-2.20zM321.59 386.37h2.19v19.56h-2.19zM310.58 424.89h2.19v19.56h-2.19zM44.58 463.40h2.21v19.56h-2.21zM214.12 463.40h2.20v19.56h-2.20zM85.45 521.17h2.21v19.56h-2.21zM104.03 521.17h2.21v19.56h-2.21zM105.89 521.17h2.21v19.56h-2.21zM148.61 559.69h2.21v19.56h-2.21zM55.73 578.94h2.21v19.56h-2.21z"/>
<path fill="#f8e099" d="M328.93 59.00h2.19v19.56h-2.19zM256.77 116.77h2.20v19.56h-2.20zM107.74 155.29h2.21v19.56h-2.21zM325.26 155.29h2.19v19.56h-2.19zM165.91 193.80h2.20v19.56h-2.20zM92.88 213.06h2.21v19.56h-2.21zM323.43 213.06h2.19v19.56h-2.19zM120.75 232.31h2.21v19.56h-2.21zM217.83 270.83h2.20v19.56h-2.20zM139.32 290.09h2.21v19.56h-2.21zM295.90 347.86h2.19v19.56h-2.19zM148.61 386.37h2.21v19.56h-2.21zM173.33 424.89h2.20v19.56h-2.20zM208.56 424.89h2.20v19.56h-2.20zM5.57 463.40h2.21v19.56h-2.21zM135.61 578.94h2.21v19.56h-2.21z"/>
<path fill="#f8de96" d="M7.43 78.26h2.21v19.56h-2.21zM282.73 97.51h2.20v19.56h-2.20zM59.44 193.80h2.21v19.56h-2.21zM197.43 193.80h2.20v19.56h-2.20zM105.89 251.57h2.21v19.56h-2.21zM100.31 347.86h2.21v19.56h-2.21zM253.06 386.37h2.20v19.56h-2.20zM9.29 521.17h2.21v19.56h-2.21zM133.75 521.17h2.21v19.56h-2.21z"/>
<path fill="#f8d993" d="M256.77 232.31h2.20v19.56h-2.20zM24.15 367.11h2.21v19.56h-2.21zM219.68 444.14h2.20v19.56h-2.20z"/>
<path fill="#f7d48f" d="M299.57 424.89h2.19v19.56h-2.19z"/>
<path fill="#f6c182" d="M109.60 232.31h2.21v19.56h-2.21zM70.59 405.63h2.21v19.56h-2.21z"/>
<path fill="#f6bc7e" d="M31.58 116.77h2.21v19.56h-2.21zM223.39 386.37h2.20v19.56h-2.20zM193.72 405.63h2.20v19.56h-2.20zM164.05 540.43h2.20v19.56h-2.20z"/>
<path fill="#f6b77b" d="M37.15 78.26h2.21v19.56h-2.21zM87.31 78.26h2.21v19.56h-2.21zM22.29 97.51h2.21v19.56h-2.21zM139.32 97.51h2.21v19.56h-2.21zM85.45 136.03h2.21v19.56h-2.21zM306.91 155.29h2.19v19.56h-2.19zM107.74 193.80h2.21v19.56h-2.21zM162.20 213.06h2.20v19.56h-2.20zM173.33 347.86h2.20v19.56h-2.20zM102.17 367.11h2.21v19.56h-2.21zM262.33 386.37h2.20v19.56h-2.20zM109.60 559.69h2.21v19.56h-2.21z"/>
<path fill="#f5b277" d="M26.01 59.00h2.21v19.56h-2.21zM59.44 59.00h2.21v19.56h-2.21zM269.75 59.00h2.20v19.56h-2.20zM9.29 97.51h2.21v19.56h-2.21zM245.64 116.77h2.20v19.56h-2.20zM131.89 213.06h2.21v19.56h-2.21zM290.15 213.06h2.20v19.56h-2.20zM223.39 232.31h2.20v19.56h-2.20zM232.66 232.31h2.20v19.56h-2.20zM171.47 251.57h2.20v19.56h-2.20zM122.60 290.09h2.21v19.56h-2.21zM212.27 290.09h2.20v19.56h-2.20zM180.74 309.34h2.20v19.56h-2.20zM279.02 328.60h2.20v19.56h-2.20zM188.16 347.86h2.20v19.56h-2.20zM241.93 347.86h2.20v19.56h-2.20zM89.17 367.11h2.21v19.56h-2.21zM148.61 367.11h2.21v19.56h-2.21zM180.74 367.11h2.20v19.56h-2.20zM150.47 386.37h2.21v19.56h-2.21zM202.99 386.37h2.20v19.56h-2.20zM277.17 386.37h2.20v19.56h-2.20zM59.44 405.63h2.21v19.56h-2.21zM241.93 405.63h2.20v19.56h-2.20zM182.60 424.89h2.20v19.56h-2.20zM301.40 424.89h2.19v19.56h-2.19zM234.52 501.91h2.20v19.56h-2.20zM126.32 540.43h2.21v19.56h-2.21zM173.33 578.94h2.20v19.56h-2.20z"/>
<path fill="#f5ae74" d="M171.47 59.00h2.20v19.56h-2.20zM260.48 59.00h2.20v19.56h-2.20zM321.59 59.00h2.19v19.56h-2.19zM40.87 78.26h2.21v19.56h-2.21zM238.23 78.26h2.20v19.56h-2.20zM243.79 97.51h2.20v19.56h-2.20zM197.43 116.77h2.20v19.56h-2.20zM215.97 116.77h2.20v19.56h-2.20zM228.95 116.77h2.20v19.56h-2.20zM258.62 116.77h2.20v19.56h-2.20zM201.14 136.03h2.20v19.56h-2.20zM290.15 136.03h2.20v19.56h-2.20zM210.41 155.29h2.20v19.56h-2.20zM227.10 155.29h2.20v19.56h-2.20zM193.72 174.54h2.20v19.56h-2.20zM46.44 193.80h2.21v19.56h-2.21zM81.74 213.06h2.21v19.56h-2.21zM105.89 232.31h2.21v19.56h-2.21zM76.16 251.57h2.21v19.56h-2.21zM167.76 251.57h2.20v19.56h-2.20zM193.72 251.57h2.20v19.56h-2.20zM26.01 270.83h2.21v19.56h-2.21zM65.02 270.83h2.21v19.56h-2.21zM105.89 270.83h2.21v19.56h-2.21zM133.75 270.83h2.21v19.56h-2.21zM31.58 290.09h2.21v19.56h-2.21zM169.62 290.09h2.20v19.56h-2.20zM217.83 290.09h2.20v19.56h-2.20zM3.72 309.34h2.21v19.56h-2.21zM195.58 309.34h2.20v19.56h-2.20zM267.89 309.34h2.20v19.56h-2.20zM279.02 309.34h2.20v19.56h-2.20zM59.44 328.60h2.21v19.56h-2.21zM87.31 328.60h2.21v19.56h-2.21zM148.61 328.60h2.21v19.56h-2.21zM223.39 328.60h2.20v19.56h-2.20zM240.08 328.60h2.20v19.56h-2.20zM83.59 347.86h2.21v19.56h-2.21zM180.74 347.86h2.20v19.56h-2.20zM240.08 347.86h2.20v19.56h-2.20zM251.21 347.86h2.20v19.56h-2.20zM65.02 367.11h2.21v19.56h-2.21zM284.58 367.11h2.20v19.56h-2.20zM256.77 386.37h2.20v19.56h-2.20zM130.04 405.63h2.21v19.56h-2.21zM20.43 424.89h2.21v19.56h-2.21zM317.92 444.14h2.19v19.56h-2.19zM18.58 463.40h2.21v19.56h-2.21zM39.01 463.40h2.21v19.56h-2.21zM173.33 463.40h2.20v19.56h-2.20zM178.89 482.66h2.20v19.56h-2.20zM141.18 540.43h2.21v19.56h-2.21zM210.41 540.43h2.20v19.56h-2.20zM245.64 559.69h2.20v19.56h-2.20zM280.87 578.94h2.20v19.56h-2.20zM321.59 578.94h2.19v19.56h-2.19z"/>
<path fill="#f5a971" d="M76.16 59.00h2.21v19.56h-2.21zM280.87 59.00h2.20v19.56h-2.20zM14.86 78.26h2.21v19.56h-2.21zM117.03 78.26h2.21v19.56h-2.21zM180.74 97.51h2.20v19.56h-2.20zM267.89 97.51h2.20v19.56h-2.20zM279.02 97.51h2.20v19.56h-2.20zM150.47 116.77h2.21v19.56h-2.21zM162.20 116.77h2.20v19.56h-2.20zM280.87 116.77h2.20v19.56h-2.20zM325.26 116.77h2.19v19.56h-2.19zM148.61 136.03h2.21v19.56h-2.21zM152.33 136.03h2.21v19.56h-2.21zM165.91 136.03h2.20v19.56h-2.20zM241.93 136.03h2.20v19.56h-2.20zM254.91 136.03h2.20v19.56h-2.20zM267.89 136.03h2.20v19.56h-2.20zM215.97 155.29h2.20v19.56h-2.20zM44.58 174.54h2.21v19.56h-2.21zM165.91 174.54h2.20v19.56h-2.20zM180.74 174.54h2.20v19.56h-2.20zM225.25 174.54h2.20v19.56h-2.20zM273.46 174.54h2.20v19.56h-2.20zM29.72 193.80h2.21v19.56h-2.21zM44.58 193.80h2.21v19.56h-2.21zM227.10 213.06h2.20v19.56h-2.20zM280.87 213.06h2.20v19.56h-2.20zM319.75 213.06h2.19v19.56h-2.19zM286.44 232.31h2.20v19.56h-2.20zM295.90 232.31h2.19v19.56h-2.19zM24.15 251.57h2.21v19.56h-2.21zM87.31 251.57h2.21v19.56h-2.21zM204.85 251.57h2.20v19.56h-2.20zM169.62 270.83h2.20v19.56h-2.20zM180.74 270.83h2.20v19.56h-2.20zM247.50 270.83h2.20v19.56h-2.20zM253.06 270.83h2.20v19.56h-2.20zM105.89 290.09h2.21v19.56h-2.21zM210.41 290.09h2.20v19.56h-2.20zM288.29 290.09h2.20v19.56h-2.20zM126.32 309.34h2.21v19.56h-2.21zM173.33 309.34h2.20v19.56h-2.20zM197.43 309.34h2.20v19.56h-2.20zM184.45 347.86h2.20v19.56h-2.20zM199.29 347.86h2.20v19.56h-2.20zM227.10 347.86h2.20v19.56h-2.20zM245.64 347.86h2.20v19.56h-2.20zM46.44 367.11h2.21v19.56h-2.21zM188.16 367.11h2.20v19.56h-2.20zM245.64 367.11h2.20v19.56h-2.20zM323.43 386.37h2.19v19.56h-2.19zM191.87 405.63h2.20v19.56h-2.20zM212.27 405.63h2.20v19.56h-2.20zM223.39 405.63h2.20v19.56h-2.20zM227.10 405.63h2.20v19.56h-2.20zM277.17 405.63h2.20v19.56h-2.20zM321.59 405.63h2.19v19.56h-2.19zM89.17 424.89h2.21v19.56h-2.21zM167.76 444.14h2.20v19.56h-2.20zM271.60 444.14h2.20v19.56h-2.20zM253.06 463.40h2.20v19.56h-2.20zM65.02 482.66h2.21v19.56h-2.21zM325.26 482.66h2.19v19.56h-2.19zM279.02 501.91h2.20v19.56h-2.20zM204.85 521.17h2.20v19.56h-2.20zM208.56 521.17h2.20v19.56h-2.20zM31.58 540.43h2.21v19.56h-2.21zM39.01 540.43h2.21v19.56h-2.21zM70.59 540.43h2.21v19.56h-2.21zM156.04 540.43h2.21v19.56h-2.21zM204.85 540.43h2.20v19.56h-2.20zM212.27 559.69h2.20v19.56h-2.20zM260.48 559.69h2.20v19.56h-2.20zM206.70 578.94h2.20v19.56h-2.20zM208.56 578.94h2.20v19.56h-2.20zM245.64 578.94h2.20v19.56h-2.20z"/>
<path fill="#f4a46d" d="M11.15 59.00h2.21v19.56h-2.21zM79.88 59.00h2.21v19.56h-2.21zM191.87 59.00h2.20v19.56h-2.20zM258.62 59.00h2.20v19.56h-2.20zM18.58 78.26h2.21v19.56h-2.21zM70.59 78.26h2.21v19.56h-2.21zM188.16 78.26h2.20v19.56h-2.20zM191.87 78.26h2.20v19.56h-2.20zM78.02 97.51h2.21v19.56h-2.21zM91.02 97.51h2.21v19.56h-2.21zM128.18 97.51h2.21v19.56h-2.21zM201.14 97.51h2.20v19.56h-2.20zM11.15 116.77h2.21v19.56h-2.21zM91.02 116.77h2.21v19.56h-2.21zM130.04 116.77h2.21v19.56h-2.21zM173.33 116.77h2.20v19.56h-2.20zM190.01 116.77h2.20v19.56h-2.20zM83.59 136.03h2.21v19.56h-2.21zM126.32 136.03h2.21v19.56h-2.21zM184.45 136.03h2.20v19.56h-2.20zM284.58 136.03h2.20v19.56h-2.20zM295.90 136.03h2.19v19.56h-2.19zM323.43 136.03h2.19v19.56h-2.19zM122.60 155.29h2.21v19.56h-2.21zM167.76 174.54h2.20v19.56h-2.20zM169.62 174.54h2.20v19.56h-2.20zM317.92 174.54h2.19v19.56h-2.19zM5.57 193.80h2.21v19.56h-2.21zM78.02 193.80h2.21v19.56h-2.21zM164.05 193.80h2.20v19.56h-2.20zM177.03 193.80h2.20v19.56h-2.20zM16.72 213.06h2.21v19.56h-2.21zM171.47 213.06h2.20v19.56h-2.20zM221.54 232.31h2.20v19.56h-2.20zM234.52 232.31h2.20v19.56h-2.20zM29.72 251.57h2.21v19.56h-2.21zM59.44 251.57h2.21v19.56h-2.21zM89.17 251.57h2.21v19.56h-2.21zM152.33 251.57h2.21v19.56h-2.21zM178.89 251.57h2.20v19.56h-2.20zM215.97 251.57h2.20v19.56h-2.20zM238.23 251.57h2.20v19.56h-2.20zM251.21 251.57h2.20v19.56h-2.20zM267.89 251.57h2.20v19.56h-2.20zM317.92 251.57h2.19v19.56h-2.19zM175.18 270.83h2.20v19.56h-2.20zM202.99 270.83h2.20v19.56h-2.20zM234.52 270.83h2.20v19.56h-2.20zM87.31 290.09h2.21v19.56h-2.21zM128.18 290.09h2.21v19.56h-2.21zM152.33 290.09h2.21v19.56h-2.21zM173.33 290.09h2.20v19.56h-2.20zM180.74 290.09h2.20v19.56h-2.20zM232.66 290.09h2.20v19.56h-2.20zM256.77 290.09h2.20v19.56h-2.20zM295.90 290.09h2.19v19.56h-2.19zM288.29 309.34h2.20v19.56h-2.20zM81.74 328.60h2.21v19.56h-2.21zM105.89 328.60h2.21v19.56h-2.21zM186.31 328.60h2.20v19.56h-2.20zM199.29 328.60h2.20v19.56h-2.20zM208.56 328.60h2.20v19.56h-2.20zM210.41 328.60h2.20v19.56h-2.20zM282.73 328.60h2.20v19.56h-2.20zM191.87 347.86h2.20v19.56h-2.20zM193.72 347.86h2.20v19.56h-2.20zM195.58 347.86h2.20v19.56h-2.20zM260.48 347.86h2.20v19.56h-2.20zM282.73 347.86h2.20v19.56h-2.20zM175.18 367.11h2.20v19.56h-2.20zM212.27 367.11h2.20v19.56h-2.20zM238.23 367.11h2.20v19.56h-2.20zM280.87 367.11h2.20v19.56h-2.20zM31.58 386.37h2.21v19.56h-2.21zM74.31 386.37h2.21v19.56h-2.21zM92.88 386.37h2.21v19.56h-2.21zM165.91 386.37h2.20v19.56h-2.20zM279.02 386.37h2.20v19.56h-2.20zM42.73 405.63h2.21v19.56h-2.21zM133.75 405.63h2.21v19.56h-2.21zM215.97 405.63h2.20v19.56h-2.20zM217.83 405.63h2.20v19.56h-2.20zM284.58 405.63h2.20v19.56h-2.20zM150.47 424.89h2.21v19.56h-2.21zM240.08 424.89h2.20v19.56h-2.20zM135.61 444.14h2.21v19.56h-2.21zM210.41 444.14h2.20v19.56h-2.20zM1.86 463.40h2.21v19.56h-2.21zM212.27 463.40h2.20v19.56h-2.20zM217.83 463.40h2.20v19.56h-2.20zM236.37 463.40h2.20v19.56h-2.20zM266.04 463.40h2.20v19.56h-2.20zM0.00 482.66h2.21v19.56h-2.21zM91.02 482.66h2.21v19.56h-2.21zM279.02 482.66h2.20v19.56h-2.20zM85.45 501.91h2.21v19.56h-2.21zM247.50 501.91h2.20v19.56h-2.20zM317.92 501.91h2.19v19.56h-2.19zM24.15 521.17h2.21v19.56h-2.21zM234.52 521.17h2.20v19.56h-2.20zM190.01 540.43h2.20v19.56h-2.20zM5.57 559.69h2.21v19.56h-2.21zM18.58 559.69h2.21v19.56h-2.21zM117.03 559.69h2.21v19.56h-2.21zM130.04 559.69h2.21v19.56h-2.21zM190.01 559.69h2.20v19.56h-2.20zM214.12 559.69h2.20v19.56h-2.20zM269.75 559.69h2.20v19.56h-2.20zM18.58 578.94h2.21v19.56h-2.21zM238.23 578.94h2.20v19.56h-2.20zM249.35 578.94h2.20v19.56h-2.20zM277.17 578.94h2.20v19.56h-2.20z"/>
<path fill="#f49f6a" d="M87.31 59.00h2.21v19.56h-2.21zM92.88 59.00h2.21v19.56h-2.21zM109.60 59.00h2.21v19.56h-2.21zM193.72 59.00h2.20v19.56h-2.20zM0.00 78.26h2.21v19.56h-2.21zM29.72 78.26h2.21v19.56h-2.21zM164.05 78.26h2.20v19.56h-2.20zM190.01 78.26h2.20v19.56h-2.20zM240.08 78.26h2.20v19.56h-2.20zM162.20 97.51h2.20v19.56h-2.20zM221.54 97.51h2.20v19.56h-2.20zM271.60 97.51h2.20v19.56h-2.20zM33.44 116.77h2.21v19.56h-2.21zM59.44 116.77h2.21v19.56h-2.21zM107.74 116.77h2.21v19.56h-2.21zM164.05 116.77h2.20v19.56h-2.20zM167.76 116.77h2.20v19.56h-2.20zM195.58 116.77h2.20v19.56h-2.20zM243.79 116.77h2.20v19.56h-2.20zM282.73 116.77h2.20v19.56h-2.20zM7.43 136.03h2.21v19.56h-2.21zM186.31 136.03h2.20v19.56h-2.20zM197.43 136.03h2.20v19.56h-2.20zM247.50 136.03h2.20v19.56h-2.20zM236.37 155.29h2.20v19.56h-2.20zM267.89 155.29h2.20v19.56h-2.20zM275.31 155.29h2.20v19.56h-2.20zM321.59 155.29h2.19v19.56h-2.19zM81.74 174.54h2.21v19.56h-2.21zM164.05 174.54h2.20v19.56h-2.20zM212.27 174.54h2.20v19.56h-2.20zM260.48 174.54h2.20v19.56h-2.20zM33.44 193.80h2.21v19.56h-2.21zM144.90 193.80h2.21v19.56h-2.21zM169.62 193.80h2.20v19.56h-2.20zM221.54 193.80h2.20v19.56h-2.20zM271.60 193.80h2.20v19.56h-2.20zM321.59 193.80h2.19v19.56h-2.19zM5.57 213.06h2.21v19.56h-2.21zM33.44 213.06h2.21v19.56h-2.21zM44.58 213.06h2.21v19.56h-2.21zM94.74 213.06h2.21v19.56h-2.21zM150.47 213.06h2.21v19.56h-2.21zM190.01 213.06h2.20v19.56h-2.20zM193.72 213.06h2.20v19.56h-2.20zM199.29 213.06h2.20v19.56h-2.20zM260.48 213.06h2.20v19.56h-2.20zM59.44 232.31h2.21v19.56h-2.21zM118.89 232.31h2.21v19.56h-2.21zM130.04 232.31h2.21v19.56h-2.21zM152.33 232.31h2.21v19.56h-2.21zM169.62 232.31h2.20v19.56h-2.20zM177.03 232.31h2.20v19.56h-2.20zM178.89 232.31h2.20v19.56h-2.20zM210.41 232.31h2.20v19.56h-2.20zM212.27 232.31h2.20v19.56h-2.20zM217.83 232.31h2.20v19.56h-2.20zM148.61 251.57h2.21v19.56h-2.21zM173.33 270.83h2.20v19.56h-2.20zM186.31 270.83h2.20v19.56h-2.20zM201.14 270.83h2.20v19.56h-2.20zM214.12 270.83h2.20v19.56h-2.20zM223.39 270.83h2.20v19.56h-2.20zM251.21 270.83h2.20v19.56h-2.20zM256.77 270.83h2.20v19.56h-2.20zM52.01 290.09h2.21v19.56h-2.21zM167.76 290.09h2.20v19.56h-2.20zM202.99 290.09h2.20v19.56h-2.20zM215.97 290.09h2.20v19.56h-2.20zM253.06 290.09h2.20v19.56h-2.20zM109.60 309.34h2.21v19.56h-2.21zM245.64 309.34h2.20v19.56h-2.20zM78.02 328.60h2.21v19.56h-2.21zM83.59 328.60h2.21v19.56h-2.21zM167.76 328.60h2.20v19.56h-2.20zM169.62 328.60h2.20v19.56h-2.20zM182.60 328.60h2.20v19.56h-2.20zM321.59 328.60h2.19v19.56h-2.19zM162.20 347.86h2.20v19.56h-2.20zM197.43 347.86h2.20v19.56h-2.20zM210.41 347.86h2.20v19.56h-2.20zM219.68 347.86h2.20v19.56h-2.20zM225.25 347.86h2.20v19.56h-2.20zM254.91 347.86h2.20v19.56h-2.20zM284.58 347.86h2.20v19.56h-2.20zM154.18 367.11h2.21v19.56h-2.21zM206.70 367.11h2.20v19.56h-2.20zM210.41 367.11h2.20v19.56h-2.20zM234.52 367.11h2.20v19.56h-2.20zM243.79 367.11h2.20v19.56h-2.20zM256.77 367.11h2.20v19.56h-2.20zM1.86 386.37h2.21v19.56h-2.21zM130.04 386.37h2.21v19.56h-2.21zM154.18 386.37h2.21v19.56h-2.21zM182.60 386.37h2.20v19.56h-2.20zM190.01 386.37h2.20v19.56h-2.20zM40.87 405.63h2.21v19.56h-2.21zM234.52 405.63h2.20v19.56h-2.20zM247.50 405.63h2.20v19.56h-2.20zM251.21 405.63h2.20v19.56h-2.20zM258.62 405.63h2.20v19.56h-2.20zM48.30 424.89h2.21v19.56h-2.21zM76.16 424.89h2.21v19.56h-2.21zM201.14 424.89h2.20v19.56h-2.20zM328.93 424.89h2.19v19.56h-2.19zM24.15 444.14h2.21v19.56h-2.21zM59.44 444.14h2.21v19.56h-2.21zM164.05 444.14h2.20v19.56h-2.20zM284.58 463.40h2.20v19.56h-2.20zM175.18 482.66h2.20v19.56h-2.20zM210.41 482.66h2.20v19.56h-2.20zM214.12 482.66h2.20v19.56h-2.20zM225.25 482.66h2.20v19.56h-2.20zM27.86 501.91h2.21v19.56h-2.21zM267.89 501.91h2.20v19.56h-2.20zM323.43 501.91h2.19v19.56h-2.19zM59.44 521.17h2.21v19.56h-2.21zM202.99 521.17h2.20v19.56h-2.20zM232.66 521.17h2.20v19.56h-2.20zM240.08 521.17h2.20v19.56h-2.20zM247.50 521.17h2.20v19.56h-2.20zM175.18 540.43h2.20v19.56h-2.20zM188.16 540.43h2.20v19.56h-2.20zM271.60 540.43h2.20v19.56h-2.20zM70.59 559.69h2.21v19.56h-2.21zM105.89 559.69h2.21v19.56h-2.21zM217.83 559.69h2.20v19.56h-2.20zM16.72 578.94h2.21v19.56h-2.21zM74.31 578.94h2.21v19.56h-2.21zM130.04 578.94h2.21v19.56h-2.21zM240.08 578.94h2.20v19.56h-2.20zM260.48 578.94h2.20v19.56h-2.20zM290.15 578.94h2.20v19.56h-2.20zM328.93 578.94h2.19v19.56h-2.19z"/>
<path fill="#f49a66" d="M98.46 59.00h2.21v19.56h-2.21zM184.45 59.00h2.20v19.56h-2.20zM282.73 59.00h2.20v19.56h-2.20zM295.90 59.00h2.19v19.56h-2.19zM35.30 78.26h2.21v19.56h-2.21zM143.04 78.26h2.21v19.56h-2.21zM193.72 78.26h2.20v19.56h-2.20zM253.06 78.26h2.20v19.56h-2.20zM260.48 78.26h2.20v19.56h-2.20zM290.15 78.26h2.20v19.56h-2.20zM35.30 97.51h2.21v19.56h-2.21zM107.74 97.51h2.21v19.56h-2.21zM118.89 97.51h2.21v19.56h-2.21zM225.25 97.51h2.20v19.56h-2.20zM240.08 97.51h2.20v19.56h-2.20zM277.17 97.51h2.20v19.56h-2.20zM323.43 97.51h2.19v19.56h-2.19zM327.10 97.51h2.19v19.56h-2.19zM85.45 116.77h2.21v19.56h-2.21zM279.02 116.77h2.20v19.56h-2.20zM59.44 136.03h2.21v19.56h-2.21zM92.88 136.03h2.21v19.56h-2.21zM180.74 136.03h2.20v19.56h-2.20zM190.01 136.03h2.20v19.56h-2.20zM273.46 136.03h2.20v19.56h-2.20zM275.31 136.03h2.20v19.56h-2.20zM243.79 155.29h2.20v19.56h-2.20zM9.29 174.54h2.21v19.56h-2.21zM130.04 174.54h2.21v19.56h-2.21zM236.37 174.54h2.20v19.56h-2.20zM330.77 174.54h2.19v19.56h-2.19zM167.76 193.80h2.20v19.56h-2.20zM173.33 193.80h2.20v19.56h-2.20zM175.18 193.80h2.20v19.56h-2.20zM202.99 193.80h2.20v19.56h-2.20zM238.23 193.80h2.20v19.56h-2.20zM105.89 213.06h2.21v19.56h-2.21zM279.02 213.06h2.20v19.56h-2.20zM330.77 213.06h2.19v19.56h-2.19zM167.76 232.31h2.20v19.56h-2.20zM215.97 232.31h2.20v19.56h-2.20zM240.08 232.31h2.20v19.56h-2.20zM282.73 232.31h2.20v19.56h-2.20zM83.59 251.57h2.21v19.56h-2.21zM133.75 251.57h2.21v19.56h-2.21zM186.31 251.57h2.20v19.56h-2.20zM225.25 251.57h2.20v19.56h-2.20zM279.02 251.57h2.20v19.56h-2.20zM33.44 270.83h2.21v19.56h-2.21zM120.75 270.83h2.21v19.56h-2.21zM152.33 270.83h2.21v19.56h-2.21zM193.72 270.83h2.20v19.56h-2.20zM120.75 290.09h2.21v19.56h-2.21zM284.58 290.09h2.20v19.56h-2.20zM9.29 309.34h2.21v19.56h-2.21zM92.88 309.34h2.21v19.56h-2.21zM122.60 309.34h2.21v19.56h-2.21zM130.04 309.34h2.21v19.56h-2.21zM215.97 309.34h2.20v19.56h-2.20zM251.21 309.34h2.20v19.56h-2.20zM321.59 309.34h2.19v19.56h-2.19zM330.77 309.34h2.19v19.56h-2.19zM126.32 328.60h2.21v19.56h-2.21zM178.89 328.60h2.20v19.56h-2.20zM217.83 328.60h2.20v19.56h-2.20zM249.35 328.60h2.20v19.56h-2.20zM9.29 347.86h2.21v19.56h-2.21zM50.16 347.86h2.21v19.56h-2.21zM164.05 347.86h2.20v19.56h-2.20zM223.39 347.86h2.20v19.56h-2.20zM277.17 347.86h2.20v19.56h-2.20zM286.44 347.86h2.20v19.56h-2.20zM330.77 347.86h2.19v19.56h-2.19zM33.44 367.11h2.21v19.56h-2.21zM109.60 367.11h2.21v19.56h-2.21zM152.33 367.11h2.21v19.56h-2.21zM169.62 367.11h2.20v19.56h-2.20zM288.29 367.11h2.20v19.56h-2.20zM52.01 386.37h2.21v19.56h-2.21zM221.54 386.37h2.20v19.56h-2.20zM249.35 386.37h2.20v19.56h-2.20zM271.60 386.37h2.20v19.56h-2.20zM139.32 405.63h2.21v19.56h-2.21zM150.47 405.63h2.21v19.56h-2.21zM171.47 405.63h2.20v19.56h-2.20zM186.31 405.63h2.20v19.56h-2.20zM197.43 405.63h2.20v19.56h-2.20zM208.56 405.63h2.20v19.56h-2.20zM221.54 405.63h2.20v19.56h-2.20zM230.81 405.63h2.20v19.56h-2.20zM232.66 405.63h2.20v19.56h-2.20zM319.75 405.63h2.19v19.56h-2.19zM85.45 424.89h2.21v19.56h-2.21zM148.61 424.89h2.21v19.56h-2.21zM214.12 424.89h2.20v19.56h-2.20zM236.37 424.89h2.20v19.56h-2.20zM308.75 424.89h2.19v19.56h-2.19zM89.17 444.14h2.21v19.56h-2.21zM152.33 444.14h2.21v19.56h-2.21zM306.91 444.14h2.19v19.56h-2.19zM164.05 463.40h2.20v19.56h-2.20zM175.18 463.40h2.20v19.56h-2.20zM177.03 463.40h2.20v19.56h-2.20zM191.87 463.40h2.20v19.56h-2.20zM59.44 482.66h2.21v19.56h-2.21zM236.37 482.66h2.20v19.56h-2.20zM20.43 501.91h2.21v19.56h-2.21zM70.59 501.91h2.21v19.56h-2.21zM223.39 501.91h2.20v19.56h-2.20zM236.37 501.91h2.20v19.56h-2.20zM266.04 501.91h2.20v19.56h-2.20zM29.72 521.17h2.21v19.56h-2.21zM206.70 521.17h2.20v19.56h-2.20zM266.04 521.17h2.20v19.56h-2.20zM267.89 521.17h2.20v19.56h-2.20zM321.59 521.17h2.19v19.56h-2.19zM18.58 540.43h2.21v19.56h-2.21zM115.17 540.43h2.21v19.56h-2.21zM152.33 559.69h2.21v19.56h-2.21zM225.25 559.69h2.20v19.56h-2.20zM256.77 559.69h2.20v19.56h-2.20zM5.57 578.94h2.21v19.56h-2.21zM46.44 578.94h2.21v19.56h-2.21zM87.31 578.94h2.21v19.56h-2.21zM141.18 578.94h2.21v19.56h-2.21zM251.21 578.94h2.20v19.56h-2.20z"/>
<path fill="#f39563" d="M44.58 59.00h2.21v19.56h-2.21zM175.18 59.00h2.20v19.56h-2.20zM219.68 59.00h2.20v19.56h-2.20zM249.35 59.00h2.20v19.56h-2.20zM325.26 59.00h2.19v19.56h-2.19zM31.58 78.26h2.21v19.56h-2.21zM61.30 78.26h2.21v19.56h-2.21zM175.18 78.26h2.20v19.56h-2.20zM201.14 78.26h2.20v19.56h-2.20zM74.31 97.51h2.21v19.56h-2.21zM81.74 97.51h2.21v19.56h-2.21zM85.45 97.51h2.21v19.56h-2.21zM126.32 97.51h2.21v19.56h-2.21zM152.33 97.51h2.21v19.56h-2.21zM186.31 116.77h2.20v19.56h-2.20zM9.29 136.03h2.21v19.56h-2.21zM24.15 136.03h2.21v19.56h-2.21zM33.44 136.03h2.21v19.56h-2.21zM177.03 136.03h2.20v19.56h-2.20zM217.83 136.03h2.20v19.56h-2.20zM277.17 136.03h2.20v19.56h-2.20zM240.08 155.29h2.20v19.56h-2.20zM33.44 174.54h2.21v19.56h-2.21zM271.60 174.54h2.20v19.56h-2.20zM105.89 193.80h2.21v19.56h-2.21zM171.47 193.80h2.20v19.56h-2.20zM3.72 213.06h2.21v19.56h-2.21zM152.33 213.06h2.21v19.56h-2.21zM210.41 213.06h2.20v19.56h-2.20zM219.68 213.06h2.20v19.56h-2.20zM251.21 213.06h2.20v19.56h-2.20zM180.74 232.31h2.20v19.56h-2.20zM208.56 232.31h2.20v19.56h-2.20zM243.79 232.31h2.20v19.56h-2.20zM188.16 251.57h2.20v19.56h-2.20zM221.54 251.57h2.20v19.56h-2.20zM232.66 251.57h2.20v19.56h-2.20zM253.06 251.57h2.20v19.56h-2.20zM109.60 270.83h2.21v19.56h-2.21zM167.76 270.83h2.20v19.56h-2.20zM197.43 270.83h2.20v19.56h-2.20zM321.59 290.09h2.19v19.56h-2.19zM46.44 309.34h2.21v19.56h-2.21zM59.44 309.34h2.21v19.56h-2.21zM87.31 309.34h2.21v19.56h-2.21zM148.61 309.34h2.21v19.56h-2.21zM175.18 309.34h2.20v19.56h-2.20zM184.45 309.34h2.20v19.56h-2.20zM212.27 309.34h2.20v19.56h-2.20zM223.39 309.34h2.20v19.56h-2.20zM225.25 309.34h2.20v19.56h-2.20zM214.12 328.60h2.20v19.56h-2.20zM330.77 328.60h2.19v19.56h-2.19zM126.32 347.86h2.21v19.56h-2.21zM249.35 347.86h2.20v19.56h-2.20zM9.29 367.11h2.21v19.56h-2.21zM236.37 367.11h2.20v19.56h-2.20zM317.92 367.11h2.19v19.56h-2.19zM162.20 386.37h2.20v19.56h-2.20zM236.37 386.37h2.20v19.56h-2.20zM29.72 405.63h2.21v19.56h-2.21zM126.32 405.63h2.21v19.56h-2.21zM152.33 405.63h2.21v19.56h-2.21zM167.76 405.63h2.20v19.56h-2.20zM243.79 405.63h2.20v19.56h-2.20zM282.73 405.63h2.20v19.56h-2.20zM184.45 424.89h2.20v19.56h-2.20zM256.77 444.14h2.20v19.56h-2.20zM63.16 463.40h2.21v19.56h-2.21zM91.02 463.40h2.21v19.56h-2.21zM117.03 463.40h2.21v19.56h-2.21zM206.70 463.40h2.20v19.56h-2.20zM228.95 463.40h2.20v19.56h-2.20zM241.93 463.40h2.20v19.56h-2.20zM243.79 463.40h2.20v19.56h-2.20zM295.90 482.66h2.19v19.56h-2.19zM83.59 501.91h2.21v19.56h-2.21zM197.43 501.91h2.20v19.56h-2.20zM236.37 521.17h2.20v19.56h-2.20zM295.90 521.17h2.19v19.56h-2.19zM165.91 540.43h2.20v19.56h-2.20zM243.79 559.69h2.20v19.56h-2.20zM321.59 559.69h2.19v19.56h-2.19zM7.43 578.94h2.21v19.56h-2.21zM24.15 578.94h2.21v19.56h-2.21zM204.85 578.94h2.20v19.56h-2.20zM212.27 578.94h2.20v19.56h-2.20z"/>
<path fill="#f39060" d="M7.43 59.00h2.21v19.56h-2.21zM167.76 59.00h2.20v19.56h-2.20zM221.54 59.00h2.20v19.56h-2.20zM57.59 78.26h2.21v19.56h-2.21zM98.46 78.26h2.21v19.56h-2.21zM262.33 78.26h2.20v19.56h-2.20zM72.45 97.51h2.21v19.56h-2.21zM1.86 116.77h2.21v19.56h-2.21zM193.72 116.77h2.20v19.56h-2.20zM277.17 116.77h2.20v19.56h-2.20zM317.92 116.77h2.19v19.56h-2.19zM76.16 136.03h2.21v19.56h-2.21zM221.54 136.03h2.20v19.56h-2.20zM279.02 136.03h2.20v19.56h-2.20zM180.74 155.29h2.20v19.56h-2.20zM190.01 155.29h2.20v19.56h-2.20zM175.18 174.54h2.20v19.56h-2.20zM215.97 174.54h2.20v19.56h-2.20zM249.35 174.54h2.20v19.56h-2.20zM319.75 174.54h2.19v19.56h-2.19zM89.17 193.80h2.21v19.56h-2.21zM100.31 193.80h2.21v19.56h-2.21zM190.01 193.80h2.20v19.56h-2.20zM208.56 193.80h2.20v19.56h-2.20zM256.77 193.80h2.20v19.56h-2.20zM177.03 213.06h2.20v19.56h-2.20zM215.97 213.06h2.20v19.56h-2.20zM0.00 232.31h2.21v19.56h-2.21zM92.88 251.57h2.21v19.56h-2.21zM330.77 270.83h2.19v19.56h-2.19zM9.29 290.09h2.21v19.56h-2.21zM92.88 290.09h2.21v19.56h-2.21zM178.89 290.09h2.20v19.56h-2.20zM254.91 290.09h2.20v19.56h-2.20zM169.62 309.34h2.20v19.56h-2.20zM193.72 309.34h2.20v19.56h-2.20zM288.29 328.60h2.20v19.56h-2.20zM236.37 347.86h2.20v19.56h-2.20zM253.06 347.86h2.20v19.56h-2.20zM279.02 347.86h2.20v19.56h-2.20zM280.87 347.86h2.20v19.56h-2.20zM290.15 347.86h2.20v19.56h-2.20zM55.73 367.11h2.21v19.56h-2.21zM122.60 367.11h2.21v19.56h-2.21zM184.45 367.11h2.20v19.56h-2.20zM215.97 367.11h2.20v19.56h-2.20zM241.93 367.11h2.20v19.56h-2.20zM319.75 367.11h2.19v19.56h-2.19zM46.44 386.37h2.21v19.56h-2.21zM133.75 386.37h2.21v19.56h-2.21zM214.12 386.37h2.20v19.56h-2.20zM5.57 405.63h2.21v19.56h-2.21zM76.16 405.63h2.21v19.56h-2.21zM154.18 405.63h2.21v19.56h-2.21zM180.74 405.63h2.20v19.56h-2.20zM225.25 405.63h2.20v19.56h-2.20zM184.45 444.14h2.20v19.56h-2.20zM316.08 444.14h2.19v19.56h-2.19zM83.59 463.40h2.21v19.56h-2.21zM247.50 463.40h2.20v19.56h-2.20zM254.91 463.40h2.20v19.56h-2.20zM29.72 482.66h2.21v19.56h-2.21zM217.83 482.66h2.20v19.56h-2.20zM188.16 501.91h2.20v19.56h-2.20zM24.15 540.43h2.21v19.56h-2.21zM83.59 540.43h2.21v19.56h-2.21zM269.75 540.43h2.20v19.56h-2.20zM46.44 559.69h2.21v19.56h-2.21zM61.30 559.69h2.21v19.56h-2.21zM228.95 559.69h2.20v19.56h-2.20zM266.04 559.69h2.20v19.56h-2.20zM50.16 578.94h2.21v19.56h-2.21zM76.16 578.94h2.21v19.56h-2.21zM78.02 578.94h2.21v19.56h-2.21zM225.25 578.94h2.20v19.56h-2.20z"/>
<path fill="#f28b5d" d="M65.02 97.51h2.21v19.56h-2.21zM180.74 116.77h2.20v19.56h-2.20zM321.59 116.77h2.19v19.56h-2.19zM48.30 136.03h2.21v19.56h-2.21zM83.59 155.29h2.21v19.56h-2.21zM165.91 155.29h2.20v19.56h-2.20zM173.33 155.29h2.20v19.56h-2.20zM223.39 174.54h2.20v19.56h-2.20zM227.10 174.54h2.20v19.56h-2.20zM46.44 213.06h2.21v19.56h-2.21zM85.45 213.06h2.21v19.56h-2.21zM247.50 213.06h2.20v19.56h-2.20zM277.17 213.06h2.20v19.56h-2.20zM128.18 232.31h2.21v19.56h-2.21zM139.32 232.31h2.21v19.56h-2.21zM165.91 251.57h2.20v19.56h-2.20zM210.41 251.57h2.20v19.56h-2.20zM234.52 251.57h2.20v19.56h-2.20zM236.37 251.57h2.20v19.56h-2.20zM148.61 270.83h2.21v19.56h-2.21zM150.47 270.83h2.21v19.56h-2.21zM130.04 290.09h2.21v19.56h-2.21zM133.75 290.09h2.21v19.56h-2.21zM186.31 290.09h2.20v19.56h-2.20zM83.59 309.34h2.21v19.56h-2.21zM133.75 309.34h2.21v19.56h-2.21zM227.10 309.34h2.20v19.56h-2.20zM130.04 328.60h2.21v19.56h-2.21zM212.27 328.60h2.20v19.56h-2.20zM11.15 347.86h2.21v19.56h-2.21zM221.54 347.86h2.20v19.56h-2.20zM262.33 347.86h2.20v19.56h-2.20zM295.90 367.11h2.19v19.56h-2.19zM152.33 386.37h2.21v19.56h-2.21zM191.87 386.37h2.20v19.56h-2.20zM312.42 424.89h2.19v19.56h-2.19zM118.89 463.40h2.21v19.56h-2.21zM178.89 463.40h2.20v19.56h-2.20zM323.43 463.40h2.19v19.56h-2.19zM204.85 482.66h2.20v19.56h-2.20zM251.21 482.66h2.20v19.56h-2.20z"/>
<path fill="#ef865a" d="M223.39 59.00h2.20v19.56h-2.20zM317.92 97.51h2.19v19.56h-2.19zM92.88 116.77h2.21v19.56h-2.21zM152.33 155.29h2.21v19.56h-2.21zM247.50 174.54h2.20v19.56h-2.20zM227.10 232.31h2.20v19.56h-2.20zM92.88 270.83h2.21v19.56h-2.21zM126.32 367.11h2.21v19.56h-2.21zM330.77 386.37h2.19v19.56h-2.19zM131.89 405.63h2.21v19.56h-2.21zM206.70 405.63h2.20v19.56h-2.20zM206.70 501.91h2.20v19.56h-2.20zM225.25 521.17h2.20v19.56h-2.20zM9.29 540.43h2.21v19.56h-2.21zM206.70 540.43h2.20v19.56h-2.20zM251.21 540.43h2.20v19.56h-2.20z"/>
<path fill="#ed8157" d="M277.17 367.11h2.20v19.56h-2.20zM52.01 405.63h2.21v19.56h-2.21zM141.18 559.69h2.21v19.56h-2.21z"/>
<path fill="#eb7c54" d="M122.60 386.37h2.21v19.56h-2.21zM253.06 405.63h2.20v19.56h-2.20z"/>
<path fill="#cc3930" d="M0.00 59.00h2.21v19.56h-2.21zM3.72 59.00h2.21v19.56h-2.21zM13.00 59.00h2.21v19.56h-2.21zM22.29 59.00h2.21v19.56h-2.21zM48.30 59.00h2.21v19.56h-2.21zM55.73 59.00h2.21v19.56h-2.21zM61.30 59.00h2.21v19.56h-2.21zM65.02 59.00h2.21v19.56h-2.21zM66.88 59.00h2.21v19.56h-2.21zM72.45 59.00h2.21v19.56h-2.21zM78.02 59.00h2.21v19.56h-2.21zM111.46 59.00h2.21v19.56h-2.21zM117.03 59.00h2.21v19.56h-2.21zM122.60 59.00h2.21v19.56h-2.21zM128.18 59.00h2.21v19.56h-2.21zM131.89 59.00h2.21v19.56h-2.21zM135.61 59.00h2.21v19.56h-2.21zM152.33 59.00h2.21v19.56h-2.21zM156.04 59.00h2.21v19.56h-2.21zM180.74 59.00h2.20v19.56h-2.20zM188.16 59.00h2.20v19.56h-2.20zM206.70 59.00h2.20v19.56h-2.20zM208.56 59.00h2.20v19.56h-2.20zM228.95 59.00h2.20v19.56h-2.20zM232.66 59.00h2.20v19.56h-2.20zM234.52 59.00h2.20v19.56h-2.20zM243.79 59.00h2.20v19.56h-2.20zM253.06 59.00h2.20v19.56h-2.20zM254.91 59.00h2.20v19.56h-2.20zM266.04 59.00h2.20v19.56h-2.20zM277.17 59.00h2.20v19.56h-2.20zM297.73 59.00h2.19v19.56h-2.19zM330.77 59.00h2.19v19.56h-2.19zM24.15 78.26h2.21v19.56h-2.21zM39.01 78.26h2.21v19.56h-2.21zM46.44 78.26h2.21v19.56h-2.21zM52.01 78.26h2.21v19.56h-2.21zM53.87 78.26h2.21v19.56h-2.21zM55.73 78.26h2.21v19.56h-2.21zM59.44 78.26h2.21v19.56h-2.21zM72.45 78.26h2.21v19.56h-2.21zM78.02 78.26h2.21v19.56h-2.21zM79.88 78.26h2.21v19.56h-2.21zM92.88 78.26h2.21v19.56h-2.21zM96.60 78.26h2.21v19.56h-2.21zM111.46 78.26h2.21v19.56h-2.21zM113.32 78.26h2.21v19.56h-2.21zM122.60 78.26h2.21v19.56h-2.21zM126.32 78.26h2.21v19.56h-2.21zM128.18 78.26h2.21v19.56h-2.21zM130.04 78.26h2.21v19.56h-2.21zM131.89 78.26h2.21v19.56h-2.21zM135.61 78.26h2.21v19.56h-2.21zM137.47 78.26h2.21v19.56h-2.21zM141.18 78.26h2.21v19.56h-2.21zM144.90 78.26h2.21v19.56h-2.21zM148.61 78.26h2.21v19.56h-2.21zM150.47 78.26h2.21v19.56h-2.21zM152.33 78.26h2.21v19.56h-2.21zM154.18 78.26h2.21v19.56h-2.21zM156.04 78.26h2.21v19.56h-2.21zM171.47 78.26h2.20v19.56h-2.20zM180.74 78.26h2.20v19.56h-2.20zM221.54 78.26h2.20v19.56h-2.20zM225.25 78.26h2.20v19.56h-2.20zM299.57 78.26h2.19v19.56h-2.19zM330.77 78.26h2.19v19.56h-2.19zM0.00 97.51h2.21v19.56h-2.21zM1.86 97.51h2.21v19.56h-2.21zM24.15 97.51h2.21v19.56h-2.21zM26.01 97.51h2.21v19.56h-2.21zM31.58 97.51h2.21v19.56h-2.21zM39.01 97.51h2.21v19.56h-2.21zM52.01 97.51h2.21v19.56h-2.21zM53.87 97.51h2.21v19.56h-2.21zM55.73 97.51h2.21v19.56h-2.21zM59.44 97.51h2.21v19.56h-2.21zM70.59 97.51h2.21v19.56h-2.21zM79.88 97.51h2.21v19.56h-2.21zM89.17 97.51h2.21v19.56h-2.21zM92.88 97.51h2.21v19.56h-2.21zM102.17 97.51h2.21v19.56h-2.21zM120.75 97.51h2.21v19.56h-2.21zM122.60 97.51h2.21v19.56h-2.21zM130.04 97.51h2.21v19.56h-2.21zM131.89 97.51h2.21v19.56h-2.21zM133.75 97.51h2.21v19.56h-2.21zM135.61 97.51h2.21v19.56h-2.21zM141.18 97.51h2.21v19.56h-2.21zM143.04 97.51h2.21v19.56h-2.21zM144.90 97.51h2.21v19.56h-2.21zM146.75 97.51h2.21v19.56h-2.21zM156.04 97.51h2.21v19.56h-2.21zM167.76 97.51h2.20v19.56h-2.20zM186.31 97.51h2.20v19.56h-2.20zM217.83 97.51h2.20v19.56h-2.20zM234.52 97.51h2.20v19.56h-2.20zM297.73 97.51h2.19v19.56h-2.19zM89.17 116.77h2.21v19.56h-2.21zM100.31 116.77h2.21v19.56h-2.21zM175.18 116.77h2.20v19.56h-2.20zM177.03 116.77h2.20v19.56h-2.20zM178.89 116.77h2.20v19.56h-2.20zM199.29 116.77h2.20v19.56h-2.20zM201.14 116.77h2.20v19.56h-2.20zM202.99 116.77h2.20v19.56h-2.20zM204.85 116.77h2.20v19.56h-2.20zM206.70 116.77h2.20v19.56h-2.20zM208.56 116.77h2.20v19.56h-2.20zM212.27 116.77h2.20v19.56h-2.20zM214.12 116.77h2.20v19.56h-2.20zM219.68 116.77h2.20v19.56h-2.20zM221.54 116.77h2.20v19.56h-2.20zM223.39 116.77h2.20v19.56h-2.20zM225.25 116.77h2.20v19.56h-2.20zM230.81 116.77h2.20v19.56h-2.20zM232.66 116.77h2.20v19.56h-2.20zM234.52 116.77h2.20v19.56h-2.20zM238.23 116.77h2.20v19.56h-2.20zM240.08 116.77h2.20v19.56h-2.20zM241.93 116.77h2.20v19.56h-2.20zM247.50 116.77h2.20v19.56h-2.20zM249.35 116.77h2.20v19.56h-2.20zM251.21 116.77h2.20v19.56h-2.20zM254.91 116.77h2.20v19.56h-2.20zM266.04 116.77h2.20v19.56h-2.20zM267.89 116.77h2.20v19.56h-2.20zM269.75 116.77h2.20v19.56h-2.20zM271.60 116.77h2.20v19.56h-2.20zM284.58 116.77h2.20v19.56h-2.20zM319.75 116.77h2.19v19.56h-2.19zM330.77 116.77h2.19v19.56h-2.19zM31.58 136.03h2.21v19.56h-2.21zM87.31 136.03h2.21v19.56h-2.21zM130.04 136.03h2.21v19.56h-2.21zM150.47 136.03h2.21v19.56h-2.21zM167.76 136.03h2.20v19.56h-2.20zM169.62 136.03h2.20v19.56h-2.20zM173.33 136.03h2.20v19.56h-2.20zM175.18 136.03h2.20v19.56h-2.20zM178.89 136.03h2.20v19.56h-2.20zM188.16 136.03h2.20v19.56h-2.20zM191.87 136.03h2.20v19.56h-2.20zM193.72 136.03h2.20v19.56h-2.20zM204.85 136.03h2.20v19.56h-2.20zM206.70 136.03h2.20v19.56h-2.20zM208.56 136.03h2.20v19.56h-2.20zM214.12 136.03h2.20v19.56h-2.20zM225.25 136.03h2.20v19.56h-2.20zM227.10 136.03h2.20v19.56h-2.20zM228.95 136.03h2.20v19.56h-2.20zM230.81 136.03h2.20v19.56h-2.20zM238.23 136.03h2.20v19.56h-2.20zM240.08 136.03h2.20v19.56h-2.20zM251.21 136.03h2.20v19.56h-2.20zM253.06 136.03h2.20v19.56h-2.20zM256.77 136.03h2.20v19.56h-2.20zM258.62 136.03h2.20v19.56h-2.20zM260.48 136.03h2.20v19.56h-2.20zM264.19 136.03h2.20v19.56h-2.20zM266.04 136.03h2.20v19.56h-2.20zM269.75 136.03h2.20v19.56h-2.20zM271.60 136.03h2.20v19.56h-2.20zM280.87 136.03h2.20v19.56h-2.20zM288.29 136.03h2.20v19.56h-2.20zM317.92 136.03h2.19v19.56h-2.19zM330.77 136.03h2.19v19.56h-2.19zM87.31 155.29h2.21v19.56h-2.21zM164.05 155.29h2.20v19.56h-2.20zM169.62 155.29h2.20v19.56h-2.20zM175.18 155.29h2.20v19.56h-2.20zM177.03 155.29h2.20v19.56h-2.20zM178.89 155.29h2.20v19.56h-2.20zM184.45 155.29h2.20v19.56h-2.20zM191.87 155.29h2.20v19.56h-2.20zM201.14 155.29h2.20v19.56h-2.20zM202.99 155.29h2.20v19.56h-2.20zM204.85 155.29h2.20v19.56h-2.20zM206.70 155.29h2.20v19.56h-2.20zM208.56 155.29h2.20v19.56h-2.20zM214.12 155.29h2.20v19.56h-2.20zM217.83 155.29h2.20v19.56h-2.20zM221.54 155.29h2.20v19.56h-2.20zM228.95 155.29h2.20v19.56h-2.20zM230.81 155.29h2.20v19.56h-2.20zM232.66 155.29h2.20v19.56h-2.20zM234.52 155.29h2.20v19.56h-2.20zM241.93 155.29h2.20v19.56h-2.20zM245.64 155.29h2.20v19.56h-2.20zM247.50 155.29h2.20v19.56h-2.20zM249.35 155.29h2.20v19.56h-2.20zM251.21 155.29h2.20v19.56h-2.20zM258.62 155.29h2.20v19.56h-2.20zM260.48 155.29h2.20v19.56h-2.20zM264.19 155.29h2.20v19.56h-2.20zM266.04 155.29h2.20v19.56h-2.20zM269.75 155.29h2.20v19.56h-2.20zM273.46 155.29h2.20v19.56h-2.20zM277.17 155.29h2.20v19.56h-2.20zM280.87 155.29h2.20v19.56h-2.20zM282.73 155.29h2.20v19.56h-2.20zM284.58 155.29h2.20v19.56h-2.20zM288.29 155.29h2.20v19.56h-2.20zM290.15 155.29h2.20v19.56h-2.20zM317.92 155.29h2.19v19.56h-2.19zM319.75 155.29h2.19v19.56h-2.19zM87.31 174.54h2.21v19.56h-2.21zM105.89 174.54h2.21v19.56h-2.21zM109.60 174.54h2.21v19.56h-2.21zM152.33 174.54h2.21v19.56h-2.21zM171.47 174.54h2.20v19.56h-2.20zM173.33 174.54h2.20v19.56h-2.20zM177.03 174.54h2.20v19.56h-2.20zM178.89 174.54h2.20v19.56h-2.20zM202.99 174.54h2.20v19.56h-2.20zM204.85 174.54h2.20v19.56h-2.20zM206.70 174.54h2.20v19.56h-2.20zM208.56 174.54h2.20v19.56h-2.20zM214.12 174.54h2.20v19.56h-2.20zM217.83 174.54h2.20v19.56h-2.20zM219.68 174.54h2.20v19.56h-2.20zM221.54 174.54h2.20v19.56h-2.20zM228.95 174.54h2.20v19.56h-2.20zM230.81 174.54h2.20v19.56h-2.20zM232.66 174.54h2.20v19.56h-2.20zM234.52 174.54h2.20v19.56h-2.20zM238.23 174.54h2.20v19.56h-2.20zM241.93 174.54h2.20v19.56h-2.20zM243.79 174.54h2.20v19.56h-2.20zM251.21 174.54h2.20v19.56h-2.20zM258.62 174.54h2.20v19.56h-2.20zM264.19 174.54h2.20v19.56h-2.20zM266.04 174.54h2.20v19.56h-2.20zM269.75 174.54h2.20v19.56h-2.20zM277.17 174.54h2.20v19.56h-2.20zM280.87 174.54h2.20v19.56h-2.20zM282.73 174.54h2.20v19.56h-2.20zM284.58 174.54h2.20v19.56h-2.20zM288.29 174.54h2.20v19.56h-2.20zM83.59 193.80h2.21v19.56h-2.21zM87.31 193.80h2.21v19.56h-2.21zM104.03 193.80h2.21v19.56h-2.21zM126.32 193.80h2.21v19.56h-2.21zM130.04 193.80h2.21v19.56h-2.21zM133.75 193.80h2.21v19.56h-2.21zM152.33 193.80h2.21v19.56h-2.21zM154.18 193.80h2.21v19.56h-2.21zM162.20 193.80h2.20v19.56h-2.20zM188.16 193.80h2.20v19.56h-2.20zM199.29 193.80h2.20v19.56h-2.20zM201.14 193.80h2.20v19.56h-2.20zM204.85 193.80h2.20v19.56h-2.20zM206.70 193.80h2.20v19.56h-2.20zM210.41 193.80h2.20v19.56h-2.20zM212.27 193.80h2.20v19.56h-2.20zM215.97 193.80h2.20v19.56h-2.20zM217.83 193.80h2.20v19.56h-2.20zM219.68 193.80h2.20v19.56h-2.20zM228.95 193.80h2.20v19.56h-2.20zM230.81 193.80h2.20v19.56h-2.20zM232.66 193.80h2.20v19.56h-2.20zM236.37 193.80h2.20v19.56h-2.20zM240.08 193.80h2.20v19.56h-2.20zM243.79 193.80h2.20v19.56h-2.20zM245.64 193.80h2.20v19.56h-2.20zM247.50 193.80h2.20v19.56h-2.20zM249.35 193.80h2.20v19.56h-2.20zM251.21 193.80h2.20v19.56h-2.20zM254.91 193.80h2.20v19.56h-2.20zM264.19 193.80h2.20v19.56h-2.20zM266.04 193.80h2.20v19.56h-2.20zM279.02 193.80h2.20v19.56h-2.20zM317.92 193.80h2.19v19.56h-2.19zM319.75 193.80h2.19v19.56h-2.19zM330.77 193.80h2.19v19.56h-2.19zM29.72 213.06h2.21v19.56h-2.21zM63.16 213.06h2.21v19.56h-2.21zM76.16 213.06h2.21v19.56h-2.21zM87.31 213.06h2.21v19.56h-2.21zM109.60 213.06h2.21v19.56h-2.21zM122.60 213.06h2.21v19.56h-2.21zM130.04 213.06h2.21v19.56h-2.21zM164.05 213.06h2.20v19.56h-2.20zM169.62 213.06h2.20v19.56h-2.20zM178.89 213.06h2.20v19.56h-2.20zM180.74 213.06h2.20v19.56h-2.20zM182.60 213.06h2.20v19.56h-2.20zM186.31 213.06h2.20v19.56h-2.20zM191.87 213.06h2.20v19.56h-2.20zM204.85 213.06h2.20v19.56h-2.20zM206.70 213.06h2.20v19.56h-2.20zM208.56 213.06h2.20v19.56h-2.20zM212.27 213.06h2.20v19.56h-2.20zM217.83 213.06h2.20v19.56h-2.20zM228.95 213.06h2.20v19.56h-2.20zM230.81 213.06h2.20v19.56h-2.20zM232.66 213.06h2.20v19.56h-2.20zM234.52 213.06h2.20v19.56h-2.20zM236.37 213.06h2.20v19.56h-2.20zM238.23 213.06h2.20v19.56h-2.20zM241.93 213.06h2.20v19.56h-2.20zM245.64 213.06h2.20v19.56h-2.20zM253.06 213.06h2.20v19.56h-2.20zM254.91 213.06h2.20v19.56h-2.20zM256.77 213.06h2.20v19.56h-2.20zM258.62 213.06h2.20v19.56h-2.20zM264.19 213.06h2.20v19.56h-2.20zM266.04 213.06h2.20v19.56h-2.20zM269.75 213.06h2.20v19.56h-2.20zM273.46 213.06h2.20v19.56h-2.20zM78.02 232.31h2.21v19.56h-2.21zM164.05 232.31h2.20v19.56h-2.20zM165.91 232.31h2.20v19.56h-2.20zM173.33 232.31h2.20v19.56h-2.20zM175.18 232.31h2.20v19.56h-2.20zM182.60 232.31h2.20v19.56h-2.20zM184.45 232.31h2.20v19.56h-2.20zM191.87 232.31h2.20v19.56h-2.20zM201.14 232.31h2.20v19.56h-2.20zM204.85 232.31h2.20v19.56h-2.20zM206.70 232.31h2.20v19.56h-2.20zM214.12 232.31h2.20v19.56h-2.20zM219.68 232.31h2.20v19.56h-2.20zM225.25 232.31h2.20v19.56h-2.20zM228.95 232.31h2.20v19.56h-2.20zM230.81 232.31h2.20v19.56h-2.20zM236.37 232.31h2.20v19.56h-2.20zM241.93 232.31h2.20v19.56h-2.20zM247.50 232.31h2.20v19.56h-2.20zM251.21 232.31h2.20v19.56h-2.20zM253.06 232.31h2.20v19.56h-2.20zM258.62 232.31h2.20v19.56h-2.20zM260.48 232.31h2.20v19.56h-2.20zM264.19 232.31h2.20v19.56h-2.20zM266.04 232.31h2.20v19.56h-2.20zM267.89 232.31h2.20v19.56h-2.20zM269.75 232.31h2.20v19.56h-2.20zM273.46 232.31h2.20v19.56h-2.20zM277.17 232.31h2.20v19.56h-2.20zM280.87 232.31h2.20v19.56h-2.20zM288.29 232.31h2.20v19.56h-2.20zM290.15 232.31h2.20v19.56h-2.20zM317.92 232.31h2.19v19.56h-2.19zM321.59 232.31h2.19v19.56h-2.19zM173.33 251.57h2.20v19.56h-2.20zM175.18 251.57h2.20v19.56h-2.20zM177.03 251.57h2.20v19.56h-2.20zM182.60 251.57h2.20v19.56h-2.20zM190.01 251.57h2.20v19.56h-2.20zM191.87 251.57h2.20v19.56h-2.20zM202.99 251.57h2.20v19.56h-2.20zM206.70 251.57h2.20v19.56h-2.20zM208.56 251.57h2.20v19.56h-2.20zM219.68 251.57h2.20v19.56h-2.20zM223.39 251.57h2.20v19.56h-2.20zM228.95 251.57h2.20v19.56h-2.20zM230.81 251.57h2.20v19.56h-2.20zM240.08 251.57h2.20v19.56h-2.20zM241.93 251.57h2.20v19.56h-2.20zM245.64 251.57h2.20v19.56h-2.20zM249.35 251.57h2.20v19.56h-2.20zM256.77 251.57h2.20v19.56h-2.20zM258.62 251.57h2.20v19.56h-2.20zM260.48 251.57h2.20v19.56h-2.20zM264.19 251.57h2.20v19.56h-2.20zM266.04 251.57h2.20v19.56h-2.20zM269.75 251.57h2.20v19.56h-2.20zM273.46 251.57h2.20v19.56h-2.20zM277.17 251.57h2.20v19.56h-2.20zM280.87 251.57h2.20v19.56h-2.20zM284.58 251.57h2.20v19.56h-2.20zM288.29 251.57h2.20v19.56h-2.20zM290.15 251.57h2.20v19.56h-2.20zM321.59 251.57h2.19v19.56h-2.19zM9.29 270.83h2.21v19.56h-2.21zM59.44 270.83h2.21v19.56h-2.21zM76.16 270.83h2.21v19.56h-2.21zM87.31 270.83h2.21v19.56h-2.21zM126.32 270.83h2.21v19.56h-2.21zM130.04 270.83h2.21v19.56h-2.21zM164.05 270.83h2.20v19.56h-2.20zM165.91 270.83h2.20v19.56h-2.20zM178.89 270.83h2.20v19.56h-2.20zM182.60 270.83h2.20v19.56h-2.20zM188.16 270.83h2.20v19.56h-2.20zM191.87 270.83h2.20v19.56h-2.20zM204.85 270.83h2.20v19.56h-2.20zM206.70 270.83h2.20v19.56h-2.20zM208.56 270.83h2.20v19.56h-2.20zM219.68 270.83h2.20v19.56h-2.20zM221.54 270.83h2.20v19.56h-2.20zM225.25 270.83h2.20v19.56h-2.20zM228.95 270.83h2.20v19.56h-2.20zM230.81 270.83h2.20v19.56h-2.20zM232.66 270.83h2.20v19.56h-2.20zM236.37 270.83h2.20v19.56h-2.20zM238.23 270.83h2.20v19.56h-2.20zM240.08 270.83h2.20v19.56h-2.20zM241.93 270.83h2.20v19.56h-2.20zM245.64 270.83h2.20v19.56h-2.20zM249.35 270.83h2.20v19.56h-2.20zM254.91 270.83h2.20v19.56h-2.20zM258.62 270.83h2.20v19.56h-2.20zM262.33 270.83h2.20v19.56h-2.20zM264.19 270.83h2.20v19.56h-2.20zM266.04 270.83h2.20v19.56h-2.20zM267.89 270.83h2.20v19.56h-2.20zM269.75 270.83h2.20v19.56h-2.20zM273.46 270.83h2.20v19.56h-2.20zM277.17 270.83h2.20v19.56h-2.20zM280.87 270.83h2.20v19.56h-2.20zM317.92 270.83h2.19v19.56h-2.19zM59.44 290.09h2.21v19.56h-2.21zM78.02 290.09h2.21v19.56h-2.21zM126.32 290.09h2.21v19.56h-2.21zM164.05 290.09h2.20v19.56h-2.20zM165.91 290.09h2.20v19.56h-2.20zM175.18 290.09h2.20v19.56h-2.20zM177.03 290.09h2.20v19.56h-2.20zM182.60 290.09h2.20v19.56h-2.20zM190.01 290.09h2.20v19.56h-2.20zM201.14 290.09h2.20v19.56h-2.20zM204.85 290.09h2.20v19.56h-2.20zM206.70 290.09h2.20v19.56h-2.20zM208.56 290.09h2.20v19.56h-2.20zM219.68 290.09h2.20v19.56h-2.20zM221.54 290.09h2.20v19.56h-2.20zM223.39 290.09h2.20v19.56h-2.20zM225.25 290.09h2.20v19.56h-2.20zM228.95 290.09h2.20v19.56h-2.20zM230.81 290.09h2.20v19.56h-2.20zM234.52 290.09h2.20v19.56h-2.20zM236.37 290.09h2.20v19.56h-2.20zM238.23 290.09h2.20v19.56h-2.20zM240.08 290.09h2.20v19.56h-2.20zM241.93 290.09h2.20v19.56h-2.20zM243.79 290.09h2.20v19.56h-2.20zM247.50 290.09h2.20v19.56h-2.20zM251.21 290.09h2.20v19.56h-2.20zM258.62 290.09h2.20v19.56h-2.20zM260.48 290.09h2.20v19.56h-2.20zM264.19 290.09h2.20v19.56h-2.20zM266.04 290.09h2.20v19.56h-2.20zM267.89 290.09h2.20v19.56h-2.20zM269.75 290.09h2.20v19.56h-2.20zM273.46 290.09h2.20v19.56h-2.20zM277.17 290.09h2.20v19.56h-2.20zM280.87 290.09h2.20v19.56h-2.20zM290.15 290.09h2.20v19.56h-2.20zM317.92 290.09h2.19v19.56h-2.19zM330.77 290.09h2.19v19.56h-2.19zM105.89 309.34h2.21v19.56h-2.21zM150.47 309.34h2.21v19.56h-2.21zM152.33 309.34h2.21v19.56h-2.21zM164.05 309.34h2.20v19.56h-2.20zM165.91 309.34h2.20v19.56h-2.20zM171.47 309.34h2.20v19.56h-2.20zM177.03 309.34h2.20v19.56h-2.20zM178.89 309.34h2.20v19.56h-2.20zM182.60 309.34h2.20v19.56h-2.20zM191.87 309.34h2.20v19.56h-2.20zM201.14 309.34h2.20v19.56h-2.20zM202.99 309.34h2.20v19.56h-2.20zM204.85 309.34h2.20v19.56h-2.20zM206.70 309.34h2.20v19.56h-2.20zM208.56 309.34h2.20v19.56h-2.20zM210.41 309.34h2.20v19.56h-2.20zM217.83 309.34h2.20v19.56h-2.20zM219.68 309.34h2.20v19.56h-2.20zM228.95 309.34h2.20v19.56h-2.20zM230.81 309.34h2.20v19.56h-2.20zM232.66 309.34h2.20v19.56h-2.20zM234.52 309.34h2.20v19.56h-2.20zM236.37 309.34h2.20v19.56h-2.20zM238.23 309.34h2.20v19.56h-2.20zM240.08 309.34h2.20v19.56h-2.20zM241.93 309.34h2.20v19.56h-2.20zM243.79 309.34h2.20v19.56h-2.20zM247.50 309.34h2.20v19.56h-2.20zM249.35 309.34h2.20v19.56h-2.20zM253.06 309.34h2.20v19.56h-2.20zM254.91 309.34h2.20v19.56h-2.20zM256.77 309.34h2.20v19.56h-2.20zM258.62 309.34h2.20v19.56h-2.20zM260.48 309.34h2.20v19.56h-2.20zM264.19 309.34h2.20v19.56h-2.20zM266.04 309.34h2.20v19.56h-2.20zM269.75 309.34h2.20v19.56h-2.20zM273.46 309.34h2.20v19.56h-2.20zM277.17 309.34h2.20v19.56h-2.20zM280.87 309.34h2.20v19.56h-2.20zM290.15 309.34h2.20v19.56h-2.20zM317.92 309.34h2.19v19.56h-2.19zM152.33 328.60h2.21v19.56h-2.21zM164.05 328.60h2.20v19.56h-2.20zM165.91 328.60h2.20v19.56h-2.20zM173.33 328.60h2.20v19.56h-2.20zM175.18 328.60h2.20v19.56h-2.20zM177.03 328.60h2.20v19.56h-2.20zM190.01 328.60h2.20v19.56h-2.20zM195.58 328.60h2.20v19.56h-2.20zM201.14 328.60h2.20v19.56h-2.20zM202.99 328.60h2.20v19.56h-2.20zM204.85 328.60h2.20v19.56h-2.20zM206.70 328.60h2.20v19.56h-2.20zM215.97 328.60h2.20v19.56h-2.20zM219.68 328.60h2.20v19.56h-2.20zM221.54 328.60h2.20v19.56h-2.20zM225.25 328.60h2.20v19.56h-2.20zM228.95 328.60h2.20v19.56h-2.20zM230.81 328.60h2.20v19.56h-2.20zM232.66 328.60h2.20v19.56h-2.20zM234.52 328.60h2.20v19.56h-2.20zM236.37 328.60h2.20v19.56h-2.20zM238.23 328.60h2.20v19.56h-2.20zM241.93 328.60h2.20v19.56h-2.20zM243.79 328.60h2.20v19.56h-2.20zM245.64 328.60h2.20v19.56h-2.20zM247.50 328.60h2.20v19.56h-2.20zM254.91 328.60h2.20v19.56h-2.20zM256.77 328.60h2.20v19.56h-2.20zM258.62 328.60h2.20v19.56h-2.20zM262.33 328.60h2.20v19.56h-2.20zM264.19 328.60h2.20v19.56h-2.20zM266.04 328.60h2.20v19.56h-2.20zM267.89 328.60h2.20v19.56h-2.20zM269.75 328.60h2.20v19.56h-2.20zM273.46 328.60h2.20v19.56h-2.20zM277.17 328.60h2.20v19.56h-2.20zM280.87 328.60h2.20v19.56h-2.20zM284.58 328.60h2.20v19.56h-2.20zM290.15 328.60h2.20v19.56h-2.20zM317.92 328.60h2.19v19.56h-2.19zM87.31 347.86h2.21v19.56h-2.21zM107.74 347.86h2.21v19.56h-2.21zM150.47 347.86h2.21v19.56h-2.21zM152.33 347.86h2.21v19.56h-2.21zM167.76 347.86h2.20v19.56h-2.20zM169.62 347.86h2.20v19.56h-2.20zM171.47 347.86h2.20v19.56h-2.20zM175.18 347.86h2.20v19.56h-2.20zM177.03 347.86h2.20v19.56h-2.20zM178.89 347.86h2.20v19.56h-2.20zM190.01 347.86h2.20v19.56h-2.20zM201.14 347.86h2.20v19.56h-2.20zM204.85 347.86h2.20v19.56h-2.20zM206.70 347.86h2.20v19.56h-2.20zM208.56 347.86h2.20v19.56h-2.20zM212.27 347.86h2.20v19.56h-2.20zM215.97 347.86h2.20v19.56h-2.20zM217.83 347.86h2.20v19.56h-2.20zM228.95 347.86h2.20v19.56h-2.20zM230.81 347.86h2.20v19.56h-2.20zM232.66 347.86h2.20v19.56h-2.20zM234.52 347.86h2.20v19.56h-2.20zM238.23 347.86h2.20v19.56h-2.20zM243.79 347.86h2.20v19.56h-2.20zM247.50 347.86h2.20v19.56h-2.20zM258.62 347.86h2.20v19.56h-2.20zM264.19 347.86h2.20v19.56h-2.20zM266.04 347.86h2.20v19.56h-2.20zM267.89 347.86h2.20v19.56h-2.20zM269.75 347.86h2.20v19.56h-2.20zM273.46 347.86h2.20v19.56h-2.20zM288.29 347.86h2.20v19.56h-2.20zM317.92 347.86h2.19v19.56h-2.19zM321.59 347.86h2.19v19.56h-2.19zM1.86 367.11h2.21v19.56h-2.21zM87.31 367.11h2.21v19.56h-2.21zM105.89 367.11h2.21v19.56h-2.21zM150.47 367.11h2.21v19.56h-2.21zM165.91 367.11h2.20v19.56h-2.20zM171.47 367.11h2.20v19.56h-2.20zM177.03 367.11h2.20v19.56h-2.20zM178.89 367.11h2.20v19.56h-2.20zM190.01 367.11h2.20v19.56h-2.20zM191.87 367.11h2.20v19.56h-2.20zM193.72 367.11h2.20v19.56h-2.20zM201.14 367.11h2.20v19.56h-2.20zM204.85 367.11h2.20v19.56h-2.20zM208.56 367.11h2.20v19.56h-2.20zM217.83 367.11h2.20v19.56h-2.20zM225.25 367.11h2.20v19.56h-2.20zM228.95 367.11h2.20v19.56h-2.20zM230.81 367.11h2.20v19.56h-2.20zM232.66 367.11h2.20v19.56h-2.20zM240.08 367.11h2.20v19.56h-2.20zM247.50 367.11h2.20v19.56h-2.20zM249.35 367.11h2.20v19.56h-2.20zM258.62 367.11h2.20v19.56h-2.20zM262.33 367.11h2.20v19.56h-2.20zM264.19 367.11h2.20v19.56h-2.20zM266.04 367.11h2.20v19.56h-2.20zM269.75 367.11h2.20v19.56h-2.20zM273.46 367.11h2.20v19.56h-2.20zM290.15 367.11h2.20v19.56h-2.20zM330.77 367.11h2.19v19.56h-2.19zM59.44 386.37h2.21v19.56h-2.21zM78.02 386.37h2.21v19.56h-2.21zM120.75 386.37h2.21v19.56h-2.21zM126.32 386.37h2.21v19.56h-2.21zM164.05 386.37h2.20v19.56h-2.20zM167.76 386.37h2.20v19.56h-2.20zM175.18 386.37h2.20v19.56h-2.20zM177.03 386.37h2.20v19.56h-2.20zM178.89 386.37h2.20v19.56h-2.20zM193.72 386.37h2.20v19.56h-2.20zM197.43 386.37h2.20v19.56h-2.20zM199.29 386.37h2.20v19.56h-2.20zM201.14 386.37h2.20v19.56h-2.20zM206.70 386.37h2.20v19.56h-2.20zM217.83 386.37h2.20v19.56h-2.20zM219.68 386.37h2.20v19.56h-2.20zM225.25 386.37h2.20v19.56h-2.20zM228.95 386.37h2.20v19.56h-2.20zM230.81 386.37h2.20v19.56h-2.20zM232.66 386.37h2.20v19.56h-2.20zM234.52 386.37h2.20v19.56h-2.20zM238.23 386.37h2.20v19.56h-2.20zM241.93 386.37h2.20v19.56h-2.20zM245.64 386.37h2.20v19.56h-2.20zM258.62 386.37h2.20v19.56h-2.20zM260.48 386.37h2.20v19.56h-2.20zM264.19 386.37h2.20v19.56h-2.20zM266.04 386.37h2.20v19.56h-2.20zM267.89 386.37h2.20v19.56h-2.20zM269.75 386.37h2.20v19.56h-2.20zM273.46 386.37h2.20v19.56h-2.20zM280.87 386.37h2.20v19.56h-2.20zM290.15 386.37h2.20v19.56h-2.20zM295.90 386.37h2.19v19.56h-2.19zM317.92 386.37h2.19v19.56h-2.19zM9.29 405.63h2.21v19.56h-2.21zM92.88 405.63h2.21v19.56h-2.21zM109.60 405.63h2.21v19.56h-2.21zM122.60 405.63h2.21v19.56h-2.21zM173.33 405.63h2.20v19.56h-2.20zM184.45 405.63h2.20v19.56h-2.20zM204.85 405.63h2.20v19.56h-2.20zM260.48 405.63h2.20v19.56h-2.20zM264.19 405.63h2.20v19.56h-2.20zM266.04 405.63h2.20v19.56h-2.20zM267.89 405.63h2.20v19.56h-2.20zM273.46 405.63h2.20v19.56h-2.20zM280.87 405.63h2.20v19.56h-2.20zM288.29 405.63h2.20v19.56h-2.20zM290.15 405.63h2.20v19.56h-2.20zM27.86 424.89h2.21v19.56h-2.21zM59.44 424.89h2.21v19.56h-2.21zM79.88 424.89h2.21v19.56h-2.21zM92.88 424.89h2.21v19.56h-2.21zM167.76 424.89h2.20v19.56h-2.20zM175.18 424.89h2.20v19.56h-2.20zM177.03 424.89h2.20v19.56h-2.20zM202.99 424.89h2.20v19.56h-2.20zM204.85 424.89h2.20v19.56h-2.20zM206.70 424.89h2.20v19.56h-2.20zM212.27 424.89h2.20v19.56h-2.20zM217.83 424.89h2.20v19.56h-2.20zM219.68 424.89h2.20v19.56h-2.20zM223.39 424.89h2.20v19.56h-2.20zM228.95 424.89h2.20v19.56h-2.20zM230.81 424.89h2.20v19.56h-2.20zM234.52 424.89h2.20v19.56h-2.20zM238.23 424.89h2.20v19.56h-2.20zM241.93 424.89h2.20v19.56h-2.20zM243.79 424.89h2.20v19.56h-2.20zM247.50 424.89h2.20v19.56h-2.20zM258.62 424.89h2.20v19.56h-2.20zM260.48 424.89h2.20v19.56h-2.20zM264.19 424.89h2.20v19.56h-2.20zM266.04 424.89h2.20v19.56h-2.20zM267.89 424.89h2.20v19.56h-2.20zM269.75 424.89h2.20v19.56h-2.20zM273.46 424.89h2.20v19.56h-2.20zM277.17 424.89h2.20v19.56h-2.20zM280.87 424.89h2.20v19.56h-2.20zM284.58 424.89h2.20v19.56h-2.20zM288.29 424.89h2.20v19.56h-2.20zM290.15 424.89h2.20v19.56h-2.20zM316.08 424.89h2.19v19.56h-2.19zM33.44 444.14h2.21v19.56h-2.21zM76.16 444.14h2.21v19.56h-2.21zM87.31 444.14h2.21v19.56h-2.21zM105.89 444.14h2.21v19.56h-2.21zM130.04 444.14h2.21v19.56h-2.21zM165.91 444.14h2.20v19.56h-2.20zM173.33 444.14h2.20v19.56h-2.20zM175.18 444.14h2.20v19.56h-2.20zM177.03 444.14h2.20v19.56h-2.20zM178.89 444.14h2.20v19.56h-2.20zM188.16 444.14h2.20v19.56h-2.20zM193.72 444.14h2.20v19.56h-2.20zM204.85 444.14h2.20v19.56h-2.20zM206.70 444.14h2.20v19.56h-2.20zM208.56 444.14h2.20v19.56h-2.20zM214.12 444.14h2.20v19.56h-2.20zM215.97 444.14h2.20v19.56h-2.20zM223.39 444.14h2.20v19.56h-2.20zM225.25 444.14h2.20v19.56h-2.20zM228.95 444.14h2.20v19.56h-2.20zM230.81 444.14h2.20v19.56h-2.20zM232.66 444.14h2.20v19.56h-2.20zM241.93 444.14h2.20v19.56h-2.20zM249.35 444.14h2.20v19.56h-2.20zM251.21 444.14h2.20v19.56h-2.20zM262.33 444.14h2.20v19.56h-2.20zM264.19 444.14h2.20v19.56h-2.20zM267.89 444.14h2.20v19.56h-2.20zM269.75 444.14h2.20v19.56h-2.20zM277.17 444.14h2.20v19.56h-2.20zM279.02 444.14h2.20v19.56h-2.20zM280.87 444.14h2.20v19.56h-2.20zM282.73 444.14h2.20v19.56h-2.20zM284.58 444.14h2.20v19.56h-2.20zM288.29 444.14h2.20v19.56h-2.20zM290.15 444.14h2.20v19.56h-2.20zM301.40 444.14h2.19v19.56h-2.19zM303.24 444.14h2.19v19.56h-2.19zM305.07 444.14h2.19v19.56h-2.19zM319.75 444.14h2.19v19.56h-2.19zM330.77 444.14h2.19v19.56h-2.19zM78.02 463.40h2.21v19.56h-2.21zM89.17 463.40h2.21v19.56h-2.21zM105.89 463.40h2.21v19.56h-2.21zM137.47 463.40h2.21v19.56h-2.21zM148.61 463.40h2.21v19.56h-2.21zM165.91 463.40h2.20v19.56h-2.20zM167.76 463.40h2.20v19.56h-2.20zM182.60 463.40h2.20v19.56h-2.20zM184.45 463.40h2.20v19.56h-2.20zM188.16 463.40h2.20v19.56h-2.20zM193.72 463.40h2.20v19.56h-2.20zM202.99 463.40h2.20v19.56h-2.20zM219.68 463.40h2.20v19.56h-2.20zM225.25 463.40h2.20v19.56h-2.20zM230.81 463.40h2.20v19.56h-2.20zM232.66 463.40h2.20v19.56h-2.20zM240.08 463.40h2.20v19.56h-2.20zM251.21 463.40h2.20v19.56h-2.20zM258.62 463.40h2.20v19.56h-2.20zM260.48 463.40h2.20v19.56h-2.20zM264.19 463.40h2.20v19.56h-2.20zM273.46 463.40h2.20v19.56h-2.20zM280.87 463.40h2.20v19.56h-2.20zM288.29 463.40h2.20v19.56h-2.20zM290.15 463.40h2.20v19.56h-2.20zM295.90 463.40h2.19v19.56h-2.19zM317.92 463.40h2.19v19.56h-2.19zM78.02 482.66h2.21v19.56h-2.21zM117.03 482.66h2.21v19.56h-2.21zM128.18 482.66h2.21v19.56h-2.21zM165.91 482.66h2.20v19.56h-2.20zM167.76 482.66h2.20v19.56h-2.20zM173.33 482.66h2.20v19.56h-2.20zM182.60 482.66h2.20v19.56h-2.20zM184.45 482.66h2.20v19.56h-2.20zM188.16 482.66h2.20v19.56h-2.20zM191.87 482.66h2.20v19.56h-2.20zM202.99 482.66h2.20v19.56h-2.20zM206.70 482.66h2.20v19.56h-2.20zM208.56 482.66h2.20v19.56h-2.20zM221.54 482.66h2.20v19.56h-2.20zM228.95 482.66h2.20v19.56h-2.20zM230.81 482.66h2.20v19.56h-2.20zM234.52 482.66h2.20v19.56h-2.20zM240.08 482.66h2.20v19.56h-2.20zM241.93 482.66h2.20v19.56h-2.20zM245.64 482.66h2.20v19.56h-2.20zM249.35 482.66h2.20v19.56h-2.20zM256.77 482.66h2.20v19.56h-2.20zM258.62 482.66h2.20v19.56h-2.20zM262.33 482.66h2.20v19.56h-2.20zM264.19 482.66h2.20v19.56h-2.20zM266.04 482.66h2.20v19.56h-2.20zM267.89 482.66h2.20v19.56h-2.20zM269.75 482.66h2.20v19.56h-2.20zM273.46 482.66h2.20v19.56h-2.20zM277.17 482.66h2.20v19.56h-2.20zM280.87 482.66h2.20v19.56h-2.20zM284.58 482.66h2.20v19.56h-2.20zM288.29 482.66h2.20v19.56h-2.20zM290.15 482.66h2.20v19.56h-2.20zM317.92 482.66h2.19v19.56h-2.19zM321.59 482.66h2.19v19.56h-2.19zM24.15 501.91h2.21v19.56h-2.21zM29.72 501.91h2.21v19.56h-2.21zM59.44 501.91h2.21v19.56h-2.21zM78.02 501.91h2.21v19.56h-2.21zM89.17 501.91h2.21v19.56h-2.21zM148.61 501.91h2.21v19.56h-2.21zM173.33 501.91h2.20v19.56h-2.20zM178.89 501.91h2.20v19.56h-2.20zM184.45 501.91h2.20v19.56h-2.20zM191.87 501.91h2.20v19.56h-2.20zM202.99 501.91h2.20v19.56h-2.20zM204.85 501.91h2.20v19.56h-2.20zM208.56 501.91h2.20v19.56h-2.20zM219.68 501.91h2.20v19.56h-2.20zM228.95 501.91h2.20v19.56h-2.20zM230.81 501.91h2.20v19.56h-2.20zM240.08 501.91h2.20v19.56h-2.20zM241.93 501.91h2.20v19.56h-2.20zM243.79 501.91h2.20v19.56h-2.20zM253.06 501.91h2.20v19.56h-2.20zM258.62 501.91h2.20v19.56h-2.20zM260.48 501.91h2.20v19.56h-2.20zM264.19 501.91h2.20v19.56h-2.20zM269.75 501.91h2.20v19.56h-2.20zM271.60 501.91h2.20v19.56h-2.20zM273.46 501.91h2.20v19.56h-2.20zM277.17 501.91h2.20v19.56h-2.20zM280.87 501.91h2.20v19.56h-2.20zM284.58 501.91h2.20v19.56h-2.20zM288.29 501.91h2.20v19.56h-2.20zM290.15 501.91h2.20v19.56h-2.20zM295.90 501.91h2.19v19.56h-2.19zM321.59 501.91h2.19v19.56h-2.19zM78.02 521.17h2.21v19.56h-2.21zM89.17 521.17h2.21v19.56h-2.21zM148.61 521.17h2.21v19.56h-2.21zM173.33 521.17h2.20v19.56h-2.20zM178.89 521.17h2.20v19.56h-2.20zM184.45 521.17h2.20v19.56h-2.20zM191.87 521.17h2.20v19.56h-2.20zM219.68 521.17h2.20v19.56h-2.20zM228.95 521.17h2.20v19.56h-2.20zM230.81 521.17h2.20v19.56h-2.20zM241.93 521.17h2.20v19.56h-2.20zM243.79 521.17h2.20v19.56h-2.20zM251.21 521.17h2.20v19.56h-2.20zM253.06 521.17h2.20v19.56h-2.20zM258.62 521.17h2.20v19.56h-2.20zM260.48 521.17h2.20v19.56h-2.20zM264.19 521.17h2.20v19.56h-2.20zM269.75 521.17h2.20v19.56h-2.20zM273.46 521.17h2.20v19.56h-2.20zM277.17 521.17h2.20v19.56h-2.20zM280.87 521.17h2.20v19.56h-2.20zM282.73 521.17h2.20v19.56h-2.20zM286.44 521.17h2.20v19.56h-2.20zM290.15 521.17h2.20v19.56h-2.20zM317.92 521.17h2.19v19.56h-2.19zM1.86 540.43h2.21v19.56h-2.21zM29.72 540.43h2.21v19.56h-2.21zM33.44 540.43h2.21v19.56h-2.21zM44.58 540.43h2.21v19.56h-2.21zM46.44 540.43h2.21v19.56h-2.21zM48.30 540.43h2.21v19.56h-2.21zM53.87 540.43h2.21v19.56h-2.21zM55.73 540.43h2.21v19.56h-2.21zM66.88 540.43h2.21v19.56h-2.21zM76.16 540.43h2.21v19.56h-2.21zM79.88 540.43h2.21v19.56h-2.21zM85.45 540.43h2.21v19.56h-2.21zM87.31 540.43h2.21v19.56h-2.21zM89.17 540.43h2.21v19.56h-2.21zM91.02 540.43h2.21v19.56h-2.21zM96.60 540.43h2.21v19.56h-2.21zM105.89 540.43h2.21v19.56h-2.21zM107.74 540.43h2.21v19.56h-2.21zM111.46 540.43h2.21v19.56h-2.21zM117.03 540.43h2.21v19.56h-2.21zM122.60 540.43h2.21v19.56h-2.21zM124.46 540.43h2.21v19.56h-2.21zM128.18 540.43h2.21v19.56h-2.21zM130.04 540.43h2.21v19.56h-2.21zM150.47 540.43h2.21v19.56h-2.21zM178.89 540.43h2.20v19.56h-2.20zM208.56 540.43h2.20v19.56h-2.20zM219.68 540.43h2.20v19.56h-2.20zM223.39 540.43h2.20v19.56h-2.20zM228.95 540.43h2.20v19.56h-2.20zM230.81 540.43h2.20v19.56h-2.20zM232.66 540.43h2.20v19.56h-2.20zM240.08 540.43h2.20v19.56h-2.20zM241.93 540.43h2.20v19.56h-2.20zM258.62 540.43h2.20v19.56h-2.20zM266.04 540.43h2.20v19.56h-2.20zM308.75 540.43h2.19v19.56h-2.19zM317.92 540.43h2.19v19.56h-2.19zM319.75 540.43h2.19v19.56h-2.19zM330.77 540.43h2.19v19.56h-2.19zM44.58 559.69h2.21v19.56h-2.21zM81.74 559.69h2.21v19.56h-2.21zM83.59 559.69h2.21v19.56h-2.21zM85.45 559.69h2.21v19.56h-2.21zM87.31 559.69h2.21v19.56h-2.21zM102.17 559.69h2.21v19.56h-2.21zM165.91 559.69h2.20v19.56h-2.20zM177.03 559.69h2.20v19.56h-2.20zM201.14 559.69h2.20v19.56h-2.20zM202.99 559.69h2.20v19.56h-2.20zM204.85 559.69h2.20v19.56h-2.20zM206.70 559.69h2.20v19.56h-2.20zM208.56 559.69h2.20v19.56h-2.20zM215.97 559.69h2.20v19.56h-2.20zM230.81 559.69h2.20v19.56h-2.20zM232.66 559.69h2.20v19.56h-2.20zM234.52 559.69h2.20v19.56h-2.20zM240.08 559.69h2.20v19.56h-2.20zM241.93 559.69h2.20v19.56h-2.20zM247.50 559.69h2.20v19.56h-2.20zM249.35 559.69h2.20v19.56h-2.20zM251.21 559.69h2.20v19.56h-2.20zM254.91 559.69h2.20v19.56h-2.20zM258.62 559.69h2.20v19.56h-2.20zM264.19 559.69h2.20v19.56h-2.20zM273.46 559.69h2.20v19.56h-2.20zM280.87 559.69h2.20v19.56h-2.20zM282.73 559.69h2.20v19.56h-2.20zM284.58 559.69h2.20v19.56h-2.20zM290.15 559.69h2.20v19.56h-2.20zM312.42 559.69h2.19v19.56h-2.19zM317.92 559.69h2.19v19.56h-2.19zM0.00 578.94h2.21v19.56h-2.21zM33.44 578.94h2.21v19.56h-2.21zM35.30 578.94h2.21v19.56h-2.21zM39.01 578.94h2.21v19.56h-2.21zM42.73 578.94h2.21v19.56h-2.21zM44.58 578.94h2.21v19.56h-2.21zM63.16 578.94h2.21v19.56h-2.21zM79.88 578.94h2.21v19.56h-2.21zM83.59 578.94h2.21v19.56h-2.21zM85.45 578.94h2.21v19.56h-2.21zM89.17 578.94h2.21v19.56h-2.21zM91.02 578.94h2.21v19.56h-2.21zM92.88 578.94h2.21v19.56h-2.21zM102.17 578.94h2.21v19.56h-2.21zM104.03 578.94h2.21v19.56h-2.21zM107.74 578.94h2.21v19.56h-2.21zM165.91 578.94h2.20v19.56h-2.20zM169.62 578.94h2.20v19.56h-2.20zM182.60 578.94h2.20v19.56h-2.20zM190.01 578.94h2.20v19.56h-2.20zM193.72 578.94h2.20v19.56h-2.20zM215.97 578.94h2.20v19.56h-2.20zM228.95 578.94h2.20v19.56h-2.20zM230.81 578.94h2.20v19.56h-2.20zM232.66 578.94h2.20v19.56h-2.20zM234.52 578.94h2.20v19.56h-2.20zM236.37 578.94h2.20v19.56h-2.20zM243.79 578.94h2.20v19.56h-2.20zM247.50 578.94h2.20v19.56h-2.20zM253.06 578.94h2.20v19.56h-2.20zM254.91 578.94h2.20v19.56h-2.20zM256.77 578.94h2.20v19.56h-2.20zM319.75 578.94h2.19v19.56h-2.19z"/>
<rect x="0" y="47" width="157.8" height="9.4" fill="#EC2B2B"/>
<rect x="162" y="47" width="130" height="9.4" fill="#4B7EAB"/>
<rect x="296" y="47" width="36.6" height="9.4" fill="#408B5C"/>
<text transform="translate(335.60,56.80)" font-size="15.4" fill="#111" xml:space="preserve">cluster</text>
<text transform="translate(335.60,73.93)" font-size="15.4" fill="#111" xml:space="preserve">CD56bright natural killer cell</text>
<text transform="translate(335.60,93.19)" font-size="15.4" fill="#111" xml:space="preserve">CD56dim natural killer cell</text>
<text transform="translate(335.60,112.44)" font-size="15.4" fill="#111" xml:space="preserve">Type 17 T helper cell</text>
<text transform="translate(335.60,131.70)" font-size="15.4" fill="#111" xml:space="preserve">Immature dendritic cell</text>
<text transform="translate(335.60,150.96)" font-size="15.4" fill="#111" xml:space="preserve">Plasmacytoid dendritic cell</text>
<text transform="translate(335.60,170.21)" font-size="15.4" fill="#111" xml:space="preserve">Effector memeory CD4 T cell</text>
<text transform="translate(335.60,189.47)" font-size="15.4" fill="#111" xml:space="preserve">Mast cell</text>
<text transform="translate(335.60,208.73)" font-size="15.4" fill="#111" xml:space="preserve">Central memory CD8 T cell</text>
<text transform="translate(335.60,227.99)" font-size="15.4" fill="#111" xml:space="preserve">Gamma delta T cell</text>
<text transform="translate(335.60,247.24)" font-size="15.4" fill="#111" xml:space="preserve">Effector memeory CD8 T cell</text>
<text transform="translate(335.60,266.50)" font-size="15.4" fill="#111" xml:space="preserve">Type 1 T helper cell</text>
<text transform="translate(335.60,285.76)" font-size="15.4" fill="#111" xml:space="preserve">Macrophage</text>
<text transform="translate(335.60,305.01)" font-size="15.4" fill="#111" xml:space="preserve">MDSC</text>
<text transform="translate(335.60,324.27)" font-size="15.4" fill="#111" xml:space="preserve">Regulatory T cell</text>
<text transform="translate(335.60,343.53)" font-size="15.4" fill="#111" xml:space="preserve">T follicular helper cell</text>
<text transform="translate(335.60,362.79)" font-size="15.4" fill="#111" xml:space="preserve">Natural killer cell</text>
<text transform="translate(335.60,382.04)" font-size="15.4" fill="#111" xml:space="preserve">Natural killer T cell</text>
<text transform="translate(335.60,401.30)" font-size="15.4" fill="#111" xml:space="preserve">Activated dendritic cell</text>
<text transform="translate(335.60,420.56)" font-size="15.4" fill="#111" xml:space="preserve">Central memory CD4 T cell</text>
<text transform="translate(335.60,439.81)" font-size="15.4" fill="#111" xml:space="preserve">Monocyte</text>
<text transform="translate(335.60,459.07)" font-size="15.4" fill="#111" xml:space="preserve">Eosinophil</text>
<text transform="translate(335.60,478.33)" font-size="15.4" fill="#111" xml:space="preserve">Activated CD4 T cell</text>
<text transform="translate(335.60,497.59)" font-size="15.4" fill="#111" xml:space="preserve">Activated CD8 T cell</text>
<text transform="translate(335.60,516.84)" font-size="15.4" fill="#111" xml:space="preserve">Activated B cell</text>
<text transform="translate(335.60,536.10)" font-size="15.4" fill="#111" xml:space="preserve">Immature  B cell</text>
<text transform="translate(335.60,555.36)" font-size="15.4" fill="#111" xml:space="preserve">Neutrophil</text>
<text transform="translate(335.60,574.61)" font-size="15.4" fill="#111" xml:space="preserve">Memory B cell</text>
<text transform="translate(335.60,593.87)" font-size="15.4" fill="#111" xml:space="preserve">Type 2 T helper cell</text>
<text transform="translate(38.00,629.30)" font-size="15.4" fill="#111" xml:space="preserve">cluster</text>
<rect x="38" y="635.0" width="22.7" height="22.7" fill="#EC2B2B"/>
<text transform="translate(65.00,651.60)" font-size="15.4" fill="#111" xml:space="preserve">cluster1</text>
<rect x="38" y="657.6" width="22.7" height="22.7" fill="#4B7EAB"/>
<text transform="translate(65.00,674.20)" font-size="15.4" fill="#111" xml:space="preserve">cluster2</text>
<rect x="38" y="680.2" width="22.7" height="22.7" fill="#408B5C"/>
<text transform="translate(65.00,696.80)" font-size="15.4" fill="#111" xml:space="preserve">cluster3</text>
<defs><linearGradient id="zg" x1="0" x2="1" y1="0" y2="0">
<stop offset="0.0000" stop-color="#CC3930"/>
<stop offset="0.1667" stop-color="#F38E5E"/>
<stop offset="0.3333" stop-color="#F8DE96"/>
<stop offset="0.5000" stop-color="#FAF8C0"/>
<stop offset="0.6667" stop-color="#DDF1F4"/>
<stop offset="0.8333" stop-color="#93BFD9"/>
<stop offset="1.0000" stop-color="#4A77AD"/>
</linearGradient></defs>
<rect x="163" y="674.3" width="220.2" height="14.7" fill="url(#zg)"/>
<text transform="translate(272.00,645.20)" font-size="15.4" fill="#111" text-anchor="middle" xml:space="preserve">Z-score</text>
<text transform="translate(164.50,669.60)" font-size="15.4" fill="#111" text-anchor="middle" xml:space="preserve">1</text>
<text transform="translate(279.00,669.60)" font-size="15.4" fill="#111" text-anchor="middle" xml:space="preserve">0</text>
<text transform="translate(384.80,669.60)" font-size="15.4" fill="#111" text-anchor="end" xml:space="preserve">-1</text>
<rect x="691.5" y="92.5" width="785.0" height="388.0" fill="none" stroke="#6e6e6e" stroke-width="1"/>
<line x1="688.2" x2="691.5" y1="115.5" y2="115.5" stroke="#6e6e6e" stroke-width="1"/>
<text transform="translate(686.00,118.80)" font-size="18.6" fill="#4d4d4d" text-anchor="end" xml:space="preserve">0.6</text>
<line x1="688.2" x2="691.5" y1="185.5" y2="185.5" stroke="#6e6e6e" stroke-width="1"/>
<text transform="translate(686.00,189.56)" font-size="18.6" fill="#4d4d4d" text-anchor="end" xml:space="preserve">0.4</text>
<line x1="688.2" x2="691.5" y1="256.5" y2="256.5" stroke="#6e6e6e" stroke-width="1"/>
<text transform="translate(686.00,260.32)" font-size="18.6" fill="#4d4d4d" text-anchor="end" xml:space="preserve">0.2</text>
<line x1="688.2" x2="691.5" y1="327.5" y2="327.5" stroke="#6e6e6e" stroke-width="1"/>
<text transform="translate(686.00,331.08)" font-size="18.6" fill="#4d4d4d" text-anchor="end" xml:space="preserve">0.0</text>
<line x1="688.2" x2="691.5" y1="398.5" y2="398.5" stroke="#6e6e6e" stroke-width="1"/>
<text transform="translate(686.00,401.84)" font-size="18.6" fill="#4d4d4d" text-anchor="end" xml:space="preserve">−0.2</text>
<line x1="688.2" x2="691.5" y1="468.5" y2="468.5" stroke="#6e6e6e" stroke-width="1"/>
<text transform="translate(686.00,472.60)" font-size="18.6" fill="#4d4d4d" text-anchor="end" xml:space="preserve">−0.4</text>
<text transform="translate(650.5,287.0) rotate(-90)" font-size="18.7" fill="#111" text-anchor="middle">Infiltrating Abundance</text>
<line x1="707.5" x2="707.5" y1="480.5" y2="483.7" stroke="#6e6e6e" stroke-width="1"/>
<polygon points="703.65,101.90 704.21,103.03 705.46,103.21 704.55,104.09 704.77,105.34 703.65,104.75 702.53,105.34 702.75,104.09 701.84,103.21 703.09,103.03" fill="#222"/>
<polygon points="707.90,101.90 708.46,103.03 709.71,103.21 708.80,104.09 709.02,105.34 707.90,104.75 706.78,105.34 707.00,104.09 706.09,103.21 707.34,103.03" fill="#222"/>
<polygon points="712.15,101.90 712.71,103.03 713.96,103.21 713.05,104.09 713.27,105.34 712.15,104.75 711.03,105.34 711.25,104.09 710.34,103.21 711.59,103.03" fill="#222"/>
<line x1="701.30" x2="701.30" y1="342.1" y2="382.6" stroke="#555" stroke-width="0.75"/>
<line x1="701.30" x2="701.30" y1="413" y2="451.8" stroke="#555" stroke-width="0.75"/>
<rect x="698.30" y="382.6" width="6.00" height="30.40" fill="#EC2B2B" stroke="#333" stroke-width="0.75"/>
<line x1="698.30" x2="704.30" y1="400.2" y2="400.2" stroke="#222" stroke-width="1.3"/>
<circle cx="701.30" cy="239.2" r="0.85" fill="#333"/>
<circle cx="701.30" cy="284.8" r="0.85" fill="#333"/>
<circle cx="701.30" cy="292.5" r="0.85" fill="#333"/>
<circle cx="701.30" cy="302" r="0.85" fill="#333"/>
<circle cx="701.30" cy="305.6" r="0.85" fill="#333"/>
<circle cx="701.30" cy="334.1" r="0.85" fill="#333"/>
<line x1="707.90" x2="707.90" y1="162.5" y2="295.7" stroke="#555" stroke-width="0.75"/>
<line x1="707.90" x2="707.90" y1="386" y2="420.2" stroke="#555" stroke-width="0.75"/>
<rect x="704.90" y="295.7" width="6.00" height="90.30" fill="#4A7DAC" stroke="#333" stroke-width="0.75"/>
<line x1="704.90" x2="710.90" y1="345.5" y2="345.5" stroke="#222" stroke-width="1.3"/>
<circle cx="707.90" cy="126.1" r="0.85" fill="#333"/>
<circle cx="707.90" cy="151.8" r="0.85" fill="#333"/>
<line x1="714.50" x2="714.50" y1="310.8" y2="384.6" stroke="#555" stroke-width="0.75"/>
<line x1="714.50" x2="714.50" y1="436.1" y2="462.9" stroke="#555" stroke-width="0.75"/>
<rect x="711.50" y="384.6" width="6.00" height="51.50" fill="#418C5E" stroke="#333" stroke-width="0.75"/>
<line x1="711.50" x2="717.50" y1="415.6" y2="415.6" stroke="#222" stroke-width="1.3"/>
<circle cx="714.50" cy="299.4" r="0.85" fill="#333"/>
<text transform="translate(703.90,486.70) rotate(-60)" font-size="18.5" fill="#4d4d4d" text-anchor="end" y="13.32" xml:space="preserve">Activated B cell</text>
<line x1="735.5" x2="735.5" y1="480.5" y2="483.7" stroke="#6e6e6e" stroke-width="1"/>
<polygon points="731.52,101.90 732.08,103.03 733.33,103.21 732.42,104.09 732.64,105.34 731.52,104.75 730.40,105.34 730.62,104.09 729.71,103.21 730.96,103.03" fill="#222"/>
<polygon points="735.77,101.90 736.33,103.03 737.58,103.21 736.67,104.09 736.89,105.34 735.77,104.75 734.65,105.34 734.87,104.09 733.96,103.21 735.21,103.03" fill="#222"/>
<polygon points="740.02,101.90 740.58,103.03 741.83,103.21 740.92,104.09 741.14,105.34 740.02,104.75 738.90,105.34 739.12,104.09 738.21,103.21 739.46,103.03" fill="#222"/>
<line x1="729.17" x2="729.17" y1="252" y2="277.3" stroke="#555" stroke-width="0.75"/>
<line x1="729.17" x2="729.17" y1="305.6" y2="337.5" stroke="#555" stroke-width="0.75"/>
<rect x="726.17" y="277.3" width="6.00" height="28.30" fill="#EC2B2B" stroke="#333" stroke-width="0.75"/>
<line x1="726.17" x2="732.17" y1="290" y2="290" stroke="#222" stroke-width="1.3"/>
<line x1="735.77" x2="735.77" y1="212" y2="256.5" stroke="#555" stroke-width="0.75"/>
<line x1="735.77" x2="735.77" y1="290.5" y2="330.7" stroke="#555" stroke-width="0.75"/>
<rect x="732.77" y="256.5" width="6.00" height="34.00" fill="#4A7DAC" stroke="#333" stroke-width="0.75"/>
<line x1="732.77" x2="738.77" y1="273" y2="273" stroke="#222" stroke-width="1.3"/>
<circle cx="735.77" cy="181.7" r="0.85" fill="#333"/>
<line x1="742.37" x2="742.37" y1="247.2" y2="278.7" stroke="#555" stroke-width="0.75"/>
<line x1="742.37" x2="742.37" y1="368.3" y2="383.1" stroke="#555" stroke-width="0.75"/>
<rect x="739.37" y="278.7" width="6.00" height="89.60" fill="#418C5E" stroke="#333" stroke-width="0.75"/>
<line x1="739.37" x2="745.37" y1="309" y2="309" stroke="#222" stroke-width="1.3"/>
<text transform="translate(731.77,486.70) rotate(-60)" font-size="18.5" fill="#4d4d4d" text-anchor="end" y="13.32" xml:space="preserve">Activated CD4 T cell</text>
<line x1="763.5" x2="763.5" y1="480.5" y2="483.7" stroke="#6e6e6e" stroke-width="1"/>
<polygon points="759.39,101.90 759.95,103.03 761.20,103.21 760.29,104.09 760.51,105.34 759.39,104.75 758.27,105.34 758.49,104.09 757.58,103.21 758.83,103.03" fill="#222"/>
<polygon points="763.64,101.90 764.20,103.03 765.45,103.21 764.54,104.09 764.76,105.34 763.64,104.75 762.52,105.34 762.74,104.09 761.83,103.21 763.08,103.03" fill="#222"/>
<polygon points="767.89,101.90 768.45,103.03 769.70,103.21 768.79,104.09 769.01,105.34 767.89,104.75 766.77,105.34 766.99,104.09 766.08,103.21 767.33,103.03" fill="#222"/>
<line x1="757.04" x2="757.04" y1="213.3" y2="246.3" stroke="#555" stroke-width="0.75"/>
<line x1="757.04" x2="757.04" y1="273.4" y2="294.8" stroke="#555" stroke-width="0.75"/>
<rect x="754.04" y="246.3" width="6.00" height="27.10" fill="#EC2B2B" stroke="#333" stroke-width="0.75"/>
<line x1="754.04" x2="760.04" y1="262" y2="262" stroke="#222" stroke-width="1.3"/>
<circle cx="757.04" cy="191" r="0.85" fill="#333"/>
<circle cx="757.04" cy="203.7" r="0.85" fill="#333"/>
<line x1="763.64" x2="763.64" y1="141.4" y2="198.3" stroke="#555" stroke-width="0.75"/>
<line x1="763.64" x2="763.64" y1="244.3" y2="292" stroke="#555" stroke-width="0.75"/>
<rect x="760.64" y="198.3" width="6.00" height="46.00" fill="#4A7DAC" stroke="#333" stroke-width="0.75"/>
<line x1="760.64" x2="766.64" y1="221.2" y2="221.2" stroke="#222" stroke-width="1.3"/>
<line x1="770.24" x2="770.24" y1="175.2" y2="239.3" stroke="#555" stroke-width="0.75"/>
<line x1="770.24" x2="770.24" y1="287.5" y2="300.5" stroke="#555" stroke-width="0.75"/>
<rect x="767.24" y="239.3" width="6.00" height="48.20" fill="#418C5E" stroke="#333" stroke-width="0.75"/>
<line x1="767.24" x2="773.24" y1="271.4" y2="271.4" stroke="#222" stroke-width="1.3"/>
<text transform="translate(759.64,486.70) rotate(-60)" font-size="18.5" fill="#4d4d4d" text-anchor="end" y="13.32" xml:space="preserve">Activated CD8 T cell</text>
<line x1="791.5" x2="791.5" y1="480.5" y2="483.7" stroke="#6e6e6e" stroke-width="1"/>
<polygon points="787.26,101.90 787.82,103.03 789.07,103.21 788.16,104.09 788.38,105.34 787.26,104.75 786.14,105.34 786.36,104.09 785.45,103.21 786.70,103.03" fill="#222"/>
<polygon points="791.51,101.90 792.07,103.03 793.32,103.21 792.41,104.09 792.63,105.34 791.51,104.75 790.39,105.34 790.61,104.09 789.70,103.21 790.95,103.03" fill="#222"/>
<polygon points="795.76,101.90 796.32,103.03 797.57,103.21 796.66,104.09 796.88,105.34 795.76,104.75 794.64,105.34 794.86,104.09 793.95,103.21 795.20,103.03" fill="#222"/>
<line x1="784.91" x2="784.91" y1="210.3" y2="227.4" stroke="#555" stroke-width="0.75"/>
<line x1="784.91" x2="784.91" y1="242.3" y2="258.4" stroke="#555" stroke-width="0.75"/>
<rect x="781.91" y="227.4" width="6.00" height="14.90" fill="#EC2B2B" stroke="#333" stroke-width="0.75"/>
<line x1="781.91" x2="787.91" y1="234.2" y2="234.2" stroke="#222" stroke-width="1.3"/>
<circle cx="784.91" cy="265.5" r="0.85" fill="#333"/>
<circle cx="784.91" cy="282" r="0.85" fill="#333"/>
<line x1="791.51" x2="791.51" y1="202" y2="215" stroke="#555" stroke-width="0.75"/>
<line x1="791.51" x2="791.51" y1="228.7" y2="244" stroke="#555" stroke-width="0.75"/>
<rect x="788.51" y="215" width="6.00" height="13.70" fill="#4A7DAC" stroke="#333" stroke-width="0.75"/>
<line x1="788.51" x2="794.51" y1="222.4" y2="222.4" stroke="#222" stroke-width="1.3"/>
<line x1="798.11" x2="798.11" y1="219" y2="234" stroke="#555" stroke-width="0.75"/>
<line x1="798.11" x2="798.11" y1="270.6" y2="289.4" stroke="#555" stroke-width="0.75"/>
<rect x="795.11" y="234" width="6.00" height="36.60" fill="#418C5E" stroke="#333" stroke-width="0.75"/>
<line x1="795.11" x2="801.11" y1="250" y2="250" stroke="#222" stroke-width="1.3"/>
<text transform="translate(787.51,486.70) rotate(-60)" font-size="18.5" fill="#4d4d4d" text-anchor="end" y="13.32" xml:space="preserve">Activated dendritic cell</text>
<line x1="819.5" x2="819.5" y1="480.5" y2="483.7" stroke="#6e6e6e" stroke-width="1"/>
<text transform="translate(819.38,109.50)" font-size="11.3" fill="#222" text-anchor="middle" xml:space="preserve">ns</text>
<line x1="812.78" x2="812.78" y1="222.3" y2="235.6" stroke="#555" stroke-width="0.75"/>
<line x1="812.78" x2="812.78" y1="244.3" y2="255" stroke="#555" stroke-width="0.75"/>
<rect x="809.78" y="235.6" width="6.00" height="8.70" fill="#EC2B2B" stroke="#333" stroke-width="0.75"/>
<line x1="809.78" x2="815.78" y1="238.7" y2="238.7" stroke="#222" stroke-width="1.3"/>
<circle cx="812.78" cy="217" r="0.85" fill="#333"/>
<circle cx="812.78" cy="259" r="0.85" fill="#333"/>
<line x1="819.38" x2="819.38" y1="226" y2="236.4" stroke="#555" stroke-width="0.75"/>
<line x1="819.38" x2="819.38" y1="244.3" y2="254.2" stroke="#555" stroke-width="0.75"/>
<rect x="816.38" y="236.4" width="6.00" height="7.90" fill="#4A7DAC" stroke="#333" stroke-width="0.75"/>
<line x1="816.38" x2="822.38" y1="238.7" y2="238.7" stroke="#222" stroke-width="1.3"/>
<circle cx="819.38" cy="218.7" r="0.85" fill="#333"/>
<circle cx="819.38" cy="222.3" r="0.85" fill="#333"/>
<line x1="825.98" x2="825.98" y1="233" y2="237.3" stroke="#555" stroke-width="0.75"/>
<line x1="825.98" x2="825.98" y1="249.4" y2="258.4" stroke="#555" stroke-width="0.75"/>
<rect x="822.98" y="237.3" width="6.00" height="12.10" fill="#418C5E" stroke="#333" stroke-width="0.75"/>
<line x1="822.98" x2="828.98" y1="240.1" y2="240.1" stroke="#222" stroke-width="1.3"/>
<circle cx="825.98" cy="267.7" r="0.85" fill="#333"/>
<text transform="translate(815.38,486.70) rotate(-60)" font-size="18.5" fill="#4d4d4d" text-anchor="end" y="13.32" xml:space="preserve">CD56bright natural killer cell</text>
<line x1="847.5" x2="847.5" y1="480.5" y2="483.7" stroke="#6e6e6e" stroke-width="1"/>
<polygon points="843.00,101.90 843.56,103.03 844.81,103.21 843.90,104.09 844.12,105.34 843.00,104.75 841.88,105.34 842.10,104.09 841.19,103.21 842.44,103.03" fill="#222"/>
<polygon points="847.25,101.90 847.81,103.03 849.06,103.21 848.15,104.09 848.37,105.34 847.25,104.75 846.13,105.34 846.35,104.09 845.44,103.21 846.69,103.03" fill="#222"/>
<polygon points="851.50,101.90 852.06,103.03 853.31,103.21 852.40,104.09 852.62,105.34 851.50,104.75 850.38,105.34 850.60,104.09 849.69,103.21 850.94,103.03" fill="#222"/>
<line x1="840.65" x2="840.65" y1="166.8" y2="178.6" stroke="#555" stroke-width="0.75"/>
<line x1="840.65" x2="840.65" y1="194.4" y2="211.3" stroke="#555" stroke-width="0.75"/>
<rect x="837.65" y="178.6" width="6.00" height="15.80" fill="#EC2B2B" stroke="#333" stroke-width="0.75"/>
<line x1="837.65" x2="843.65" y1="187.3" y2="187.3" stroke="#222" stroke-width="1.3"/>
<line x1="847.25" x2="847.25" y1="170.4" y2="188.5" stroke="#555" stroke-width="0.75"/>
<line x1="847.25" x2="847.25" y1="204" y2="224" stroke="#555" stroke-width="0.75"/>
<rect x="844.25" y="188.5" width="6.00" height="15.50" fill="#4A7DAC" stroke="#333" stroke-width="0.75"/>
<line x1="844.25" x2="850.25" y1="196.4" y2="196.4" stroke="#222" stroke-width="1.3"/>
<circle cx="847.25" cy="230.8" r="0.85" fill="#333"/>
<line x1="853.85" x2="853.85" y1="183.7" y2="191.3" stroke="#555" stroke-width="0.75"/>
<line x1="853.85" x2="853.85" y1="208.2" y2="230.2" stroke="#555" stroke-width="0.75"/>
<rect x="850.85" y="191.3" width="6.00" height="16.90" fill="#418C5E" stroke="#333" stroke-width="0.75"/>
<line x1="850.85" x2="856.85" y1="198.3" y2="198.3" stroke="#222" stroke-width="1.3"/>
<circle cx="853.85" cy="152.1" r="0.85" fill="#333"/>
<circle cx="853.85" cy="240.7" r="0.85" fill="#333"/>
<circle cx="853.85" cy="243.5" r="0.85" fill="#333"/>
<text transform="translate(843.25,486.70) rotate(-60)" font-size="18.5" fill="#4d4d4d" text-anchor="end" y="13.32" xml:space="preserve">CD56dim natural killer cell</text>
<line x1="875.5" x2="875.5" y1="480.5" y2="483.7" stroke="#6e6e6e" stroke-width="1"/>
<polygon points="870.87,101.90 871.43,103.03 872.68,103.21 871.77,104.09 871.99,105.34 870.87,104.75 869.75,105.34 869.97,104.09 869.06,103.21 870.31,103.03" fill="#222"/>
<polygon points="875.12,101.90 875.68,103.03 876.93,103.21 876.02,104.09 876.24,105.34 875.12,104.75 874.00,105.34 874.22,104.09 873.31,103.21 874.56,103.03" fill="#222"/>
<polygon points="879.37,101.90 879.93,103.03 881.18,103.21 880.27,104.09 880.49,105.34 879.37,104.75 878.25,105.34 878.47,104.09 877.56,103.21 878.81,103.03" fill="#222"/>
<line x1="868.52" x2="868.52" y1="126.4" y2="134.3" stroke="#555" stroke-width="0.75"/>
<line x1="868.52" x2="868.52" y1="143.9" y2="153.5" stroke="#555" stroke-width="0.75"/>
<rect x="865.52" y="134.3" width="6.00" height="9.60" fill="#EC2B2B" stroke="#333" stroke-width="0.75"/>
<line x1="865.52" x2="871.52" y1="137.1" y2="137.1" stroke="#222" stroke-width="1.3"/>
<circle cx="868.52" cy="164" r="0.85" fill="#333"/>
<circle cx="868.52" cy="166.8" r="0.85" fill="#333"/>
<circle cx="868.52" cy="169.6" r="0.85" fill="#333"/>
<line x1="875.12" x2="875.12" y1="120.2" y2="128.1" stroke="#555" stroke-width="0.75"/>
<line x1="875.12" x2="875.12" y1="135.7" y2="145.6" stroke="#555" stroke-width="0.75"/>
<rect x="872.12" y="128.1" width="6.00" height="7.60" fill="#4A7DAC" stroke="#333" stroke-width="0.75"/>
<line x1="872.12" x2="878.12" y1="132" y2="132" stroke="#222" stroke-width="1.3"/>
<circle cx="875.12" cy="109.5" r="0.85" fill="#333"/>
<circle cx="875.12" cy="111.7" r="0.85" fill="#333"/>
<circle cx="875.12" cy="114" r="0.85" fill="#333"/>
<circle cx="875.12" cy="116.3" r="0.85" fill="#333"/>
<line x1="881.72" x2="881.72" y1="131.5" y2="138.5" stroke="#555" stroke-width="0.75"/>
<line x1="881.72" x2="881.72" y1="184.5" y2="199.2" stroke="#555" stroke-width="0.75"/>
<rect x="878.72" y="138.5" width="6.00" height="46.00" fill="#418C5E" stroke="#333" stroke-width="0.75"/>
<line x1="878.72" x2="884.72" y1="161.1" y2="161.1" stroke="#222" stroke-width="1.3"/>
<text transform="translate(871.12,486.70) rotate(-60)" font-size="18.5" fill="#4d4d4d" text-anchor="end" y="13.32" xml:space="preserve">Central memory CD4 T cell</text>
<line x1="902.5" x2="902.5" y1="480.5" y2="483.7" stroke="#6e6e6e" stroke-width="1"/>
<polygon points="898.74,101.90 899.30,103.03 900.55,103.21 899.64,104.09 899.86,105.34 898.74,104.75 897.62,105.34 897.84,104.09 896.93,103.21 898.18,103.03" fill="#222"/>
<polygon points="902.99,101.90 903.55,103.03 904.80,103.21 903.89,104.09 904.11,105.34 902.99,104.75 901.87,105.34 902.09,104.09 901.18,103.21 902.43,103.03" fill="#222"/>
<polygon points="907.24,101.90 907.80,103.03 909.05,103.21 908.14,104.09 908.36,105.34 907.24,104.75 906.12,105.34 906.34,104.09 905.43,103.21 906.68,103.03" fill="#222"/>
<line x1="896.39" x2="896.39" y1="178" y2="194.1" stroke="#555" stroke-width="0.75"/>
<line x1="896.39" x2="896.39" y1="209.6" y2="230.2" stroke="#555" stroke-width="0.75"/>
<rect x="893.39" y="194.1" width="6.00" height="15.50" fill="#EC2B2B" stroke="#333" stroke-width="0.75"/>
<line x1="893.39" x2="899.39" y1="202.9" y2="202.9" stroke="#222" stroke-width="1.3"/>
<circle cx="896.39" cy="159.1" r="0.85" fill="#333"/>
<circle cx="896.39" cy="234.5" r="0.85" fill="#333"/>
<circle cx="896.39" cy="247.1" r="0.85" fill="#333"/>
<line x1="902.99" x2="902.99" y1="163.1" y2="181.1" stroke="#555" stroke-width="0.75"/>
<line x1="902.99" x2="902.99" y1="197.8" y2="211.9" stroke="#555" stroke-width="0.75"/>
<rect x="899.99" y="181.1" width="6.00" height="16.70" fill="#4A7DAC" stroke="#333" stroke-width="0.75"/>
<line x1="899.99" x2="905.99" y1="189" y2="189" stroke="#222" stroke-width="1.3"/>
<circle cx="902.99" cy="228" r="0.85" fill="#333"/>
<line x1="909.59" x2="909.59" y1="175.2" y2="214.7" stroke="#555" stroke-width="0.75"/>
<line x1="909.59" x2="909.59" y1="243.5" y2="264.1" stroke="#555" stroke-width="0.75"/>
<rect x="906.59" y="214.7" width="6.00" height="28.80" fill="#418C5E" stroke="#333" stroke-width="0.75"/>
<line x1="906.59" x2="912.59" y1="231.6" y2="231.6" stroke="#222" stroke-width="1.3"/>
<text transform="translate(898.99,486.70) rotate(-60)" font-size="18.5" fill="#4d4d4d" text-anchor="end" y="13.32" xml:space="preserve">Central memory CD8 T cell</text>
<line x1="930.5" x2="930.5" y1="480.5" y2="483.7" stroke="#6e6e6e" stroke-width="1"/>
<polygon points="926.61,101.90 927.17,103.03 928.42,103.21 927.51,104.09 927.73,105.34 926.61,104.75 925.49,105.34 925.71,104.09 924.80,103.21 926.05,103.03" fill="#222"/>
<polygon points="930.86,101.90 931.42,103.03 932.67,103.21 931.76,104.09 931.98,105.34 930.86,104.75 929.74,105.34 929.96,104.09 929.05,103.21 930.30,103.03" fill="#222"/>
<polygon points="935.11,101.90 935.67,103.03 936.92,103.21 936.01,104.09 936.23,105.34 935.11,104.75 933.99,105.34 934.21,104.09 933.30,103.21 934.55,103.03" fill="#222"/>
<line x1="924.26" x2="924.26" y1="266.9" y2="283.8" stroke="#555" stroke-width="0.75"/>
<line x1="924.26" x2="924.26" y1="295.1" y2="311.3" stroke="#555" stroke-width="0.75"/>
<rect x="921.26" y="283.8" width="6.00" height="11.30" fill="#EC2B2B" stroke="#333" stroke-width="0.75"/>
<line x1="921.26" x2="927.26" y1="287.3" y2="287.3" stroke="#222" stroke-width="1.3"/>
<circle cx="924.26" cy="260.7" r="0.85" fill="#333"/>
<line x1="930.86" x2="930.86" y1="240.7" y2="254.2" stroke="#555" stroke-width="0.75"/>
<line x1="930.86" x2="930.86" y1="272" y2="285.2" stroke="#555" stroke-width="0.75"/>
<rect x="927.86" y="254.2" width="6.00" height="17.80" fill="#4A7DAC" stroke="#333" stroke-width="0.75"/>
<line x1="927.86" x2="933.86" y1="262.7" y2="262.7" stroke="#222" stroke-width="1.3"/>
<line x1="937.46" x2="937.46" y1="257" y2="274.8" stroke="#555" stroke-width="0.75"/>
<line x1="937.46" x2="937.46" y1="290.5" y2="313.6" stroke="#555" stroke-width="0.75"/>
<rect x="934.46" y="274.8" width="6.00" height="15.70" fill="#418C5E" stroke="#333" stroke-width="0.75"/>
<line x1="934.46" x2="940.46" y1="281.6" y2="281.6" stroke="#222" stroke-width="1.3"/>
<text transform="translate(926.86,486.70) rotate(-60)" font-size="18.5" fill="#4d4d4d" text-anchor="end" y="13.32" xml:space="preserve">Effector memeory CD4 T cell</text>
<line x1="958.5" x2="958.5" y1="480.5" y2="483.7" stroke="#6e6e6e" stroke-width="1"/>
<polygon points="954.48,101.90 955.04,103.03 956.29,103.21 955.38,104.09 955.60,105.34 954.48,104.75 953.36,105.34 953.58,104.09 952.67,103.21 953.92,103.03" fill="#222"/>
<polygon points="958.73,101.90 959.29,103.03 960.54,103.21 959.63,104.09 959.85,105.34 958.73,104.75 957.61,105.34 957.83,104.09 956.92,103.21 958.17,103.03" fill="#222"/>
<polygon points="962.98,101.90 963.54,103.03 964.79,103.21 963.88,104.09 964.10,105.34 962.98,104.75 961.86,105.34 962.08,104.09 961.17,103.21 962.42,103.03" fill="#222"/>
<line x1="952.13" x2="952.13" y1="229.4" y2="252.2" stroke="#555" stroke-width="0.75"/>
<line x1="952.13" x2="952.13" y1="271.7" y2="294.2" stroke="#555" stroke-width="0.75"/>
<rect x="949.13" y="252.2" width="6.00" height="19.50" fill="#EC2B2B" stroke="#333" stroke-width="0.75"/>
<line x1="949.13" x2="955.13" y1="261.3" y2="261.3" stroke="#222" stroke-width="1.3"/>
<circle cx="952.13" cy="324.7" r="0.85" fill="#333"/>
<circle cx="952.13" cy="329.9" r="0.85" fill="#333"/>
<circle cx="952.13" cy="332.7" r="0.85" fill="#333"/>
<line x1="958.73" x2="958.73" y1="198.6" y2="225.4" stroke="#555" stroke-width="0.75"/>
<line x1="958.73" x2="958.73" y1="245.2" y2="263.5" stroke="#555" stroke-width="0.75"/>
<rect x="955.73" y="225.4" width="6.00" height="19.80" fill="#4A7DAC" stroke="#333" stroke-width="0.75"/>
<line x1="955.73" x2="961.73" y1="235.9" y2="235.9" stroke="#222" stroke-width="1.3"/>
<line x1="965.33" x2="965.33" y1="226.6" y2="256.2" stroke="#555" stroke-width="0.75"/>
<line x1="965.33" x2="965.33" y1="304.2" y2="344.1" stroke="#555" stroke-width="0.75"/>
<rect x="962.33" y="256.2" width="6.00" height="48.00" fill="#418C5E" stroke="#333" stroke-width="0.75"/>
<line x1="962.33" x2="968.33" y1="285.9" y2="285.9" stroke="#222" stroke-width="1.3"/>
<text transform="translate(954.73,486.70) rotate(-60)" font-size="18.5" fill="#4d4d4d" text-anchor="end" y="13.32" xml:space="preserve">Eosinophil</text>
<line x1="986.5" x2="986.5" y1="480.5" y2="483.7" stroke="#6e6e6e" stroke-width="1"/>
<polygon points="982.35,101.90 982.91,103.03 984.16,103.21 983.25,104.09 983.47,105.34 982.35,104.75 981.23,105.34 981.45,104.09 980.54,103.21 981.79,103.03" fill="#222"/>
<polygon points="986.60,101.90 987.16,103.03 988.41,103.21 987.50,104.09 987.72,105.34 986.60,104.75 985.48,105.34 985.70,104.09 984.79,103.21 986.04,103.03" fill="#222"/>
<polygon points="990.85,101.90 991.41,103.03 992.66,103.21 991.75,104.09 991.97,105.34 990.85,104.75 989.73,105.34 989.95,104.09 989.04,103.21 990.29,103.03" fill="#222"/>
<line x1="980.00" x2="980.00" y1="338.4" y2="367.5" stroke="#555" stroke-width="0.75"/>
<line x1="980.00" x2="980.00" y1="388.8" y2="407.6" stroke="#555" stroke-width="0.75"/>
<rect x="977.00" y="367.5" width="6.00" height="21.30" fill="#EC2B2B" stroke="#333" stroke-width="0.75"/>
<line x1="977.00" x2="983.00" y1="377.7" y2="377.7" stroke="#222" stroke-width="1.3"/>
<line x1="986.60" x2="986.60" y1="300.8" y2="333.3" stroke="#555" stroke-width="0.75"/>
<line x1="986.60" x2="986.60" y1="373.2" y2="401.9" stroke="#555" stroke-width="0.75"/>
<rect x="983.60" y="333.3" width="6.00" height="39.90" fill="#4A7DAC" stroke="#333" stroke-width="0.75"/>
<line x1="983.60" x2="989.60" y1="353.2" y2="353.2" stroke="#222" stroke-width="1.3"/>
<line x1="993.20" x2="993.20" y1="320.5" y2="345.5" stroke="#555" stroke-width="0.75"/>
<line x1="993.20" x2="993.20" y1="369.2" y2="404.8" stroke="#555" stroke-width="0.75"/>
<rect x="990.20" y="345.5" width="6.00" height="23.70" fill="#418C5E" stroke="#333" stroke-width="0.75"/>
<line x1="990.20" x2="996.20" y1="356.4" y2="356.4" stroke="#222" stroke-width="1.3"/>
<text transform="translate(982.60,486.70) rotate(-60)" font-size="18.5" fill="#4d4d4d" text-anchor="end" y="13.32" xml:space="preserve">Effector memeory CD8 T cell</text>
<line x1="1014.5" x2="1014.5" y1="480.5" y2="483.7" stroke="#6e6e6e" stroke-width="1"/>
<polygon points="1010.22,101.90 1010.78,103.03 1012.03,103.21 1011.12,104.09 1011.34,105.34 1010.22,104.75 1009.10,105.34 1009.32,104.09 1008.41,103.21 1009.66,103.03" fill="#222"/>
<polygon points="1014.47,101.90 1015.03,103.03 1016.28,103.21 1015.37,104.09 1015.59,105.34 1014.47,104.75 1013.35,105.34 1013.57,104.09 1012.66,103.21 1013.91,103.03" fill="#222"/>
<polygon points="1018.72,101.90 1019.28,103.03 1020.53,103.21 1019.62,104.09 1019.84,105.34 1018.72,104.75 1017.60,105.34 1017.82,104.09 1016.91,103.21 1018.16,103.03" fill="#222"/>
<line x1="1007.87" x2="1007.87" y1="208.2" y2="228.8" stroke="#555" stroke-width="0.75"/>
<line x1="1007.87" x2="1007.87" y1="243.8" y2="263.2" stroke="#555" stroke-width="0.75"/>
<rect x="1004.87" y="228.8" width="6.00" height="15.00" fill="#EC2B2B" stroke="#333" stroke-width="0.75"/>
<line x1="1004.87" x2="1010.87" y1="236.4" y2="236.4" stroke="#222" stroke-width="1.3"/>
<circle cx="1007.87" cy="267.7" r="0.85" fill="#333"/>
<line x1="1014.47" x2="1014.47" y1="198.6" y2="217.5" stroke="#555" stroke-width="0.75"/>
<line x1="1014.47" x2="1014.47" y1="231.6" y2="251.4" stroke="#555" stroke-width="0.75"/>
<rect x="1011.47" y="217.5" width="6.00" height="14.10" fill="#4A7DAC" stroke="#333" stroke-width="0.75"/>
<line x1="1011.47" x2="1017.47" y1="223.2" y2="223.2" stroke="#222" stroke-width="1.3"/>
<circle cx="1014.47" cy="190.4" r="0.85" fill="#333"/>
<circle cx="1014.47" cy="261.3" r="0.85" fill="#333"/>
<line x1="1021.07" x2="1021.07" y1="224" y2="240.1" stroke="#555" stroke-width="0.75"/>
<line x1="1021.07" x2="1021.07" y1="266.9" y2="287.2" stroke="#555" stroke-width="0.75"/>
<rect x="1018.07" y="240.1" width="6.00" height="26.80" fill="#418C5E" stroke="#333" stroke-width="0.75"/>
<line x1="1018.07" x2="1024.07" y1="251.4" y2="251.4" stroke="#222" stroke-width="1.3"/>
<text transform="translate(1010.47,486.70) rotate(-60)" font-size="18.5" fill="#4d4d4d" text-anchor="end" y="13.32" xml:space="preserve">Gamma delta T cell</text>
<line x1="1042.5" x2="1042.5" y1="480.5" y2="483.7" stroke="#6e6e6e" stroke-width="1"/>
<polygon points="1038.09,101.90 1038.65,103.03 1039.90,103.21 1038.99,104.09 1039.21,105.34 1038.09,104.75 1036.97,105.34 1037.19,104.09 1036.28,103.21 1037.53,103.03" fill="#222"/>
<polygon points="1042.34,101.90 1042.90,103.03 1044.15,103.21 1043.24,104.09 1043.46,105.34 1042.34,104.75 1041.22,105.34 1041.44,104.09 1040.53,103.21 1041.78,103.03" fill="#222"/>
<polygon points="1046.59,101.90 1047.15,103.03 1048.40,103.21 1047.49,104.09 1047.71,105.34 1046.59,104.75 1045.47,105.34 1045.69,104.09 1044.78,103.21 1046.03,103.03" fill="#222"/>
<line x1="1035.74" x2="1035.74" y1="304.2" y2="339.3" stroke="#555" stroke-width="0.75"/>
<line x1="1035.74" x2="1035.74" y1="365.5" y2="397.7" stroke="#555" stroke-width="0.75"/>
<rect x="1032.74" y="339.3" width="6.00" height="26.20" fill="#EC2B2B" stroke="#333" stroke-width="0.75"/>
<line x1="1032.74" x2="1038.74" y1="354.6" y2="354.6" stroke="#222" stroke-width="1.3"/>
<circle cx="1035.74" cy="256.5" r="0.85" fill="#333"/>
<circle cx="1035.74" cy="289.4" r="0.85" fill="#333"/>
<circle cx="1035.74" cy="293.7" r="0.85" fill="#333"/>
<circle cx="1035.74" cy="299.4" r="0.85" fill="#333"/>
<circle cx="1035.74" cy="405.4" r="0.85" fill="#333"/>
<circle cx="1035.74" cy="412.5" r="0.85" fill="#333"/>
<line x1="1042.34" x2="1042.34" y1="227.4" y2="291.4" stroke="#555" stroke-width="0.75"/>
<line x1="1042.34" x2="1042.34" y1="334.1" y2="366" stroke="#555" stroke-width="0.75"/>
<rect x="1039.34" y="291.4" width="6.00" height="42.70" fill="#4A7DAC" stroke="#333" stroke-width="0.75"/>
<line x1="1039.34" x2="1045.34" y1="315" y2="315" stroke="#222" stroke-width="1.3"/>
<circle cx="1042.34" cy="127.3" r="0.85" fill="#333"/>
<circle cx="1042.34" cy="146.2" r="0.85" fill="#333"/>
<circle cx="1042.34" cy="156.3" r="0.85" fill="#333"/>
<circle cx="1042.34" cy="168.7" r="0.85" fill="#333"/>
<circle cx="1042.34" cy="190.7" r="0.85" fill="#333"/>
<circle cx="1042.34" cy="204.8" r="0.85" fill="#333"/>
<line x1="1048.94" x2="1048.94" y1="290" y2="339.3" stroke="#555" stroke-width="0.75"/>
<line x1="1048.94" x2="1048.94" y1="385.4" y2="404.8" stroke="#555" stroke-width="0.75"/>
<rect x="1045.94" y="339.3" width="6.00" height="46.10" fill="#418C5E" stroke="#333" stroke-width="0.75"/>
<line x1="1045.94" x2="1051.94" y1="378.3" y2="378.3" stroke="#222" stroke-width="1.3"/>
<text transform="translate(1038.34,486.70) rotate(-60)" font-size="18.5" fill="#4d4d4d" text-anchor="end" y="13.32" xml:space="preserve">Immature  B cell</text>
<line x1="1070.5" x2="1070.5" y1="480.5" y2="483.7" stroke="#6e6e6e" stroke-width="1"/>
<polygon points="1065.96,101.90 1066.52,103.03 1067.77,103.21 1066.86,104.09 1067.08,105.34 1065.96,104.75 1064.84,105.34 1065.06,104.09 1064.15,103.21 1065.40,103.03" fill="#222"/>
<polygon points="1070.21,101.90 1070.77,103.03 1072.02,103.21 1071.11,104.09 1071.33,105.34 1070.21,104.75 1069.09,105.34 1069.31,104.09 1068.40,103.21 1069.65,103.03" fill="#222"/>
<polygon points="1074.46,101.90 1075.02,103.03 1076.27,103.21 1075.36,104.09 1075.58,105.34 1074.46,104.75 1073.34,105.34 1073.56,104.09 1072.65,103.21 1073.90,103.03" fill="#222"/>
<line x1="1063.61" x2="1063.61" y1="188.5" y2="201.2" stroke="#555" stroke-width="0.75"/>
<line x1="1063.61" x2="1063.61" y1="213.3" y2="229.7" stroke="#555" stroke-width="0.75"/>
<rect x="1060.61" y="201.2" width="6.00" height="12.10" fill="#EC2B2B" stroke="#333" stroke-width="0.75"/>
<line x1="1060.61" x2="1066.61" y1="206.2" y2="206.2" stroke="#222" stroke-width="1.3"/>
<circle cx="1063.61" cy="181.1" r="0.85" fill="#333"/>
<circle cx="1063.61" cy="238.1" r="0.85" fill="#333"/>
<circle cx="1063.61" cy="242.4" r="0.85" fill="#333"/>
<line x1="1070.21" x2="1070.21" y1="169.6" y2="184.5" stroke="#555" stroke-width="0.75"/>
<line x1="1070.21" x2="1070.21" y1="198.3" y2="214.7" stroke="#555" stroke-width="0.75"/>
<rect x="1067.21" y="184.5" width="6.00" height="13.80" fill="#4A7DAC" stroke="#333" stroke-width="0.75"/>
<line x1="1067.21" x2="1073.21" y1="191.3" y2="191.3" stroke="#222" stroke-width="1.3"/>
<line x1="1076.81" x2="1076.81" y1="180.9" y2="197.8" stroke="#555" stroke-width="0.75"/>
<line x1="1076.81" x2="1076.81" y1="227.4" y2="259.3" stroke="#555" stroke-width="0.75"/>
<rect x="1073.81" y="197.8" width="6.00" height="29.60" fill="#418C5E" stroke="#333" stroke-width="0.75"/>
<line x1="1073.81" x2="1079.81" y1="208.5" y2="208.5" stroke="#222" stroke-width="1.3"/>
<text transform="translate(1066.21,486.70) rotate(-60)" font-size="18.5" fill="#4d4d4d" text-anchor="end" y="13.32" xml:space="preserve">Immature dendritic cell</text>
<line x1="1098.5" x2="1098.5" y1="480.5" y2="483.7" stroke="#6e6e6e" stroke-width="1"/>
<polygon points="1093.83,101.90 1094.39,103.03 1095.64,103.21 1094.73,104.09 1094.95,105.34 1093.83,104.75 1092.71,105.34 1092.93,104.09 1092.02,103.21 1093.27,103.03" fill="#222"/>
<polygon points="1098.08,101.90 1098.64,103.03 1099.89,103.21 1098.98,104.09 1099.20,105.34 1098.08,104.75 1096.96,105.34 1097.18,104.09 1096.27,103.21 1097.52,103.03" fill="#222"/>
<polygon points="1102.33,101.90 1102.89,103.03 1104.14,103.21 1103.23,104.09 1103.45,105.34 1102.33,104.75 1101.21,105.34 1101.43,104.09 1100.52,103.21 1101.77,103.03" fill="#222"/>
<line x1="1091.48" x2="1091.48" y1="262.1" y2="291.4" stroke="#555" stroke-width="0.75"/>
<line x1="1091.48" x2="1091.48" y1="321.3" y2="345.5" stroke="#555" stroke-width="0.75"/>
<rect x="1088.48" y="291.4" width="6.00" height="29.90" fill="#EC2B2B" stroke="#333" stroke-width="0.75"/>
<line x1="1088.48" x2="1094.48" y1="307.4" y2="307.4" stroke="#222" stroke-width="1.3"/>
<line x1="1098.08" x2="1098.08" y1="245.7" y2="266.9" stroke="#555" stroke-width="0.75"/>
<line x1="1098.08" x2="1098.08" y1="287.2" y2="314.8" stroke="#555" stroke-width="0.75"/>
<rect x="1095.08" y="266.9" width="6.00" height="20.30" fill="#4A7DAC" stroke="#333" stroke-width="0.75"/>
<line x1="1095.08" x2="1101.08" y1="276.8" y2="276.8" stroke="#222" stroke-width="1.3"/>
<circle cx="1098.08" cy="222.3" r="0.85" fill="#333"/>
<line x1="1104.68" x2="1104.68" y1="270.6" y2="303.4" stroke="#555" stroke-width="0.75"/>
<line x1="1104.68" x2="1104.68" y1="358.3" y2="377.4" stroke="#555" stroke-width="0.75"/>
<rect x="1101.68" y="303.4" width="6.00" height="54.90" fill="#418C5E" stroke="#333" stroke-width="0.75"/>
<line x1="1101.68" x2="1107.68" y1="332.7" y2="332.7" stroke="#222" stroke-width="1.3"/>
<text transform="translate(1094.08,486.70) rotate(-60)" font-size="18.5" fill="#4d4d4d" text-anchor="end" y="13.32" xml:space="preserve">Macrophage</text>
<line x1="1125.5" x2="1125.5" y1="480.5" y2="483.7" stroke="#6e6e6e" stroke-width="1"/>
<polygon points="1121.70,101.90 1122.26,103.03 1123.51,103.21 1122.60,104.09 1122.82,105.34 1121.70,104.75 1120.58,105.34 1120.80,104.09 1119.89,103.21 1121.14,103.03" fill="#222"/>
<polygon points="1125.95,101.90 1126.51,103.03 1127.76,103.21 1126.85,104.09 1127.07,105.34 1125.95,104.75 1124.83,105.34 1125.05,104.09 1124.14,103.21 1125.39,103.03" fill="#222"/>
<polygon points="1130.20,101.90 1130.76,103.03 1132.01,103.21 1131.10,104.09 1131.32,105.34 1130.20,104.75 1129.08,105.34 1129.30,104.09 1128.39,103.21 1129.64,103.03" fill="#222"/>
<line x1="1119.35" x2="1119.35" y1="261.3" y2="305.1" stroke="#555" stroke-width="0.75"/>
<line x1="1119.35" x2="1119.35" y1="337" y2="376.9" stroke="#555" stroke-width="0.75"/>
<rect x="1116.35" y="305.1" width="6.00" height="31.90" fill="#EC2B2B" stroke="#333" stroke-width="0.75"/>
<line x1="1116.35" x2="1122.35" y1="317" y2="317" stroke="#222" stroke-width="1.3"/>
<line x1="1125.95" x2="1125.95" y1="230.8" y2="269.2" stroke="#555" stroke-width="0.75"/>
<line x1="1125.95" x2="1125.95" y1="297.1" y2="335.6" stroke="#555" stroke-width="0.75"/>
<rect x="1122.95" y="269.2" width="6.00" height="27.90" fill="#4A7DAC" stroke="#333" stroke-width="0.75"/>
<line x1="1122.95" x2="1128.95" y1="284.4" y2="284.4" stroke="#222" stroke-width="1.3"/>
<line x1="1132.55" x2="1132.55" y1="270.6" y2="305.1" stroke="#555" stroke-width="0.75"/>
<line x1="1132.55" x2="1132.55" y1="340.4" y2="369.7" stroke="#555" stroke-width="0.75"/>
<rect x="1129.55" y="305.1" width="6.00" height="35.30" fill="#418C5E" stroke="#333" stroke-width="0.75"/>
<line x1="1129.55" x2="1135.55" y1="329.3" y2="329.3" stroke="#222" stroke-width="1.3"/>
<text transform="translate(1121.95,486.70) rotate(-60)" font-size="18.5" fill="#4d4d4d" text-anchor="end" y="13.32" xml:space="preserve">Mast cell</text>
<line x1="1153.5" x2="1153.5" y1="480.5" y2="483.7" stroke="#6e6e6e" stroke-width="1"/>
<polygon points="1149.57,101.90 1150.13,103.03 1151.38,103.21 1150.47,104.09 1150.69,105.34 1149.57,104.75 1148.45,105.34 1148.67,104.09 1147.76,103.21 1149.01,103.03" fill="#222"/>
<polygon points="1153.82,101.90 1154.38,103.03 1155.63,103.21 1154.72,104.09 1154.94,105.34 1153.82,104.75 1152.70,105.34 1152.92,104.09 1152.01,103.21 1153.26,103.03" fill="#222"/>
<polygon points="1158.07,101.90 1158.63,103.03 1159.88,103.21 1158.97,104.09 1159.19,105.34 1158.07,104.75 1156.95,105.34 1157.17,104.09 1156.26,103.21 1157.51,103.03" fill="#222"/>
<line x1="1147.22" x2="1147.22" y1="157.4" y2="193" stroke="#555" stroke-width="0.75"/>
<line x1="1147.22" x2="1147.22" y1="234.5" y2="281.6" stroke="#555" stroke-width="0.75"/>
<rect x="1144.22" y="193" width="6.00" height="41.50" fill="#EC2B2B" stroke="#333" stroke-width="0.75"/>
<line x1="1144.22" x2="1150.22" y1="212.5" y2="212.5" stroke="#222" stroke-width="1.3"/>
<line x1="1153.82" x2="1153.82" y1="120.2" y2="151.2" stroke="#555" stroke-width="0.75"/>
<line x1="1153.82" x2="1153.82" y1="181.7" y2="214.7" stroke="#555" stroke-width="0.75"/>
<rect x="1150.82" y="151.2" width="6.00" height="30.50" fill="#4A7DAC" stroke="#333" stroke-width="0.75"/>
<line x1="1150.82" x2="1156.82" y1="164.5" y2="164.5" stroke="#222" stroke-width="1.3"/>
<circle cx="1153.82" cy="235.3" r="0.85" fill="#333"/>
<line x1="1160.42" x2="1160.42" y1="145" y2="210.5" stroke="#555" stroke-width="0.75"/>
<line x1="1160.42" x2="1160.42" y1="288.5" y2="336.4" stroke="#555" stroke-width="0.75"/>
<rect x="1157.42" y="210.5" width="6.00" height="78.00" fill="#418C5E" stroke="#333" stroke-width="0.75"/>
<line x1="1157.42" x2="1163.42" y1="240.9" y2="240.9" stroke="#222" stroke-width="1.3"/>
<text transform="translate(1149.82,486.70) rotate(-60)" font-size="18.5" fill="#4d4d4d" text-anchor="end" y="13.32" xml:space="preserve">MDSC</text>
<line x1="1181.5" x2="1181.5" y1="480.5" y2="483.7" stroke="#6e6e6e" stroke-width="1"/>
<polygon points="1177.44,101.90 1178.00,103.03 1179.25,103.21 1178.34,104.09 1178.56,105.34 1177.44,104.75 1176.32,105.34 1176.54,104.09 1175.63,103.21 1176.88,103.03" fill="#222"/>
<polygon points="1181.69,101.90 1182.25,103.03 1183.50,103.21 1182.59,104.09 1182.81,105.34 1181.69,104.75 1180.57,105.34 1180.79,104.09 1179.88,103.21 1181.13,103.03" fill="#222"/>
<polygon points="1185.94,101.90 1186.50,103.03 1187.75,103.21 1186.84,104.09 1187.06,105.34 1185.94,104.75 1184.82,105.34 1185.04,104.09 1184.13,103.21 1185.38,103.03" fill="#222"/>
<line x1="1175.09" x2="1175.09" y1="284.5" y2="304.2" stroke="#555" stroke-width="0.75"/>
<line x1="1175.09" x2="1175.09" y1="320.7" y2="337.8" stroke="#555" stroke-width="0.75"/>
<rect x="1172.09" y="304.2" width="6.00" height="16.50" fill="#EC2B2B" stroke="#333" stroke-width="0.75"/>
<line x1="1172.09" x2="1178.09" y1="310.8" y2="310.8" stroke="#222" stroke-width="1.3"/>
<circle cx="1175.09" cy="268.9" r="0.85" fill="#333"/>
<circle cx="1175.09" cy="273.4" r="0.85" fill="#333"/>
<line x1="1181.69" x2="1181.69" y1="264.1" y2="293.4" stroke="#555" stroke-width="0.75"/>
<line x1="1181.69" x2="1181.69" y1="313.3" y2="331.3" stroke="#555" stroke-width="0.75"/>
<rect x="1178.69" y="293.4" width="6.00" height="19.90" fill="#4A7DAC" stroke="#333" stroke-width="0.75"/>
<line x1="1178.69" x2="1184.69" y1="301.9" y2="301.9" stroke="#222" stroke-width="1.3"/>
<line x1="1188.29" x2="1188.29" y1="292.3" y2="312.2" stroke="#555" stroke-width="0.75"/>
<line x1="1188.29" x2="1188.29" y1="329.3" y2="346.1" stroke="#555" stroke-width="0.75"/>
<rect x="1185.29" y="312.2" width="6.00" height="17.10" fill="#418C5E" stroke="#333" stroke-width="0.75"/>
<line x1="1185.29" x2="1191.29" y1="317" y2="317" stroke="#222" stroke-width="1.3"/>
<circle cx="1188.29" cy="282.6" r="0.85" fill="#333"/>
<text transform="translate(1177.69,486.70) rotate(-60)" font-size="18.5" fill="#4d4d4d" text-anchor="end" y="13.32" xml:space="preserve">Memory B cell</text>
<line x1="1209.5" x2="1209.5" y1="480.5" y2="483.7" stroke="#6e6e6e" stroke-width="1"/>
<polygon points="1205.31,101.90 1205.87,103.03 1207.12,103.21 1206.21,104.09 1206.43,105.34 1205.31,104.75 1204.19,105.34 1204.41,104.09 1203.50,103.21 1204.75,103.03" fill="#222"/>
<polygon points="1209.56,101.90 1210.12,103.03 1211.37,103.21 1210.46,104.09 1210.68,105.34 1209.56,104.75 1208.44,105.34 1208.66,104.09 1207.75,103.21 1209.00,103.03" fill="#222"/>
<polygon points="1213.81,101.90 1214.37,103.03 1215.62,103.21 1214.71,104.09 1214.93,105.34 1213.81,104.75 1212.69,105.34 1212.91,104.09 1212.00,103.21 1213.25,103.03" fill="#222"/>
<line x1="1202.96" x2="1202.96" y1="187.9" y2="197.2" stroke="#555" stroke-width="0.75"/>
<line x1="1202.96" x2="1202.96" y1="206.2" y2="211.9" stroke="#555" stroke-width="0.75"/>
<rect x="1199.96" y="197.2" width="6.00" height="9.00" fill="#EC2B2B" stroke="#333" stroke-width="0.75"/>
<line x1="1199.96" x2="1205.96" y1="201.5" y2="201.5" stroke="#222" stroke-width="1.3"/>
<circle cx="1202.96" cy="156.9" r="0.85" fill="#333"/>
<circle cx="1202.96" cy="183.7" r="0.85" fill="#333"/>
<line x1="1209.56" x2="1209.56" y1="170.4" y2="185.1" stroke="#555" stroke-width="0.75"/>
<line x1="1209.56" x2="1209.56" y1="195.5" y2="204.3" stroke="#555" stroke-width="0.75"/>
<rect x="1206.56" y="185.1" width="6.00" height="10.40" fill="#4A7DAC" stroke="#333" stroke-width="0.75"/>
<line x1="1206.56" x2="1212.56" y1="190.2" y2="190.2" stroke="#222" stroke-width="1.3"/>
<circle cx="1209.56" cy="163.7" r="0.85" fill="#333"/>
<line x1="1216.16" x2="1216.16" y1="183.7" y2="190.2" stroke="#555" stroke-width="0.75"/>
<line x1="1216.16" x2="1216.16" y1="201.2" y2="208.2" stroke="#555" stroke-width="0.75"/>
<rect x="1213.16" y="190.2" width="6.00" height="11.00" fill="#418C5E" stroke="#333" stroke-width="0.75"/>
<line x1="1213.16" x2="1219.16" y1="196.4" y2="196.4" stroke="#222" stroke-width="1.3"/>
<text transform="translate(1205.56,486.70) rotate(-60)" font-size="18.5" fill="#4d4d4d" text-anchor="end" y="13.32" xml:space="preserve">Monocyte</text>
<line x1="1237.5" x2="1237.5" y1="480.5" y2="483.7" stroke="#6e6e6e" stroke-width="1"/>
<polygon points="1233.18,101.90 1233.74,103.03 1234.99,103.21 1234.08,104.09 1234.30,105.34 1233.18,104.75 1232.06,105.34 1232.28,104.09 1231.37,103.21 1232.62,103.03" fill="#222"/>
<polygon points="1237.43,101.90 1237.99,103.03 1239.24,103.21 1238.33,104.09 1238.55,105.34 1237.43,104.75 1236.31,105.34 1236.53,104.09 1235.62,103.21 1236.87,103.03" fill="#222"/>
<polygon points="1241.68,101.90 1242.24,103.03 1243.49,103.21 1242.58,104.09 1242.80,105.34 1241.68,104.75 1240.56,105.34 1240.78,104.09 1239.87,103.21 1241.12,103.03" fill="#222"/>
<line x1="1230.83" x2="1230.83" y1="198.6" y2="212.5" stroke="#555" stroke-width="0.75"/>
<line x1="1230.83" x2="1230.83" y1="226.6" y2="240.9" stroke="#555" stroke-width="0.75"/>
<rect x="1227.83" y="212.5" width="6.00" height="14.10" fill="#EC2B2B" stroke="#333" stroke-width="0.75"/>
<line x1="1227.83" x2="1233.83" y1="218.4" y2="218.4" stroke="#222" stroke-width="1.3"/>
<circle cx="1230.83" cy="247.7" r="0.85" fill="#333"/>
<circle cx="1230.83" cy="250.5" r="0.85" fill="#333"/>
<circle cx="1230.83" cy="257" r="0.85" fill="#333"/>
<circle cx="1230.83" cy="271.4" r="0.85" fill="#333"/>
<line x1="1237.43" x2="1237.43" y1="186.5" y2="197.2" stroke="#555" stroke-width="0.75"/>
<line x1="1237.43" x2="1237.43" y1="206.2" y2="217.5" stroke="#555" stroke-width="0.75"/>
<rect x="1234.43" y="197.2" width="6.00" height="9.00" fill="#4A7DAC" stroke="#333" stroke-width="0.75"/>
<line x1="1234.43" x2="1240.43" y1="202" y2="202" stroke="#222" stroke-width="1.3"/>
<circle cx="1237.43" cy="182.8" r="0.85" fill="#333"/>
<circle cx="1237.43" cy="221.8" r="0.85" fill="#333"/>
<line x1="1244.03" x2="1244.03" y1="202" y2="222.3" stroke="#555" stroke-width="0.75"/>
<line x1="1244.03" x2="1244.03" y1="253.6" y2="274.8" stroke="#555" stroke-width="0.75"/>
<rect x="1241.03" y="222.3" width="6.00" height="31.30" fill="#418C5E" stroke="#333" stroke-width="0.75"/>
<line x1="1241.03" x2="1247.03" y1="246.6" y2="246.6" stroke="#222" stroke-width="1.3"/>
<text transform="translate(1233.43,486.70) rotate(-60)" font-size="18.5" fill="#4d4d4d" text-anchor="end" y="13.32" xml:space="preserve">Natural killer cell</text>
<line x1="1265.5" x2="1265.5" y1="480.5" y2="483.7" stroke="#6e6e6e" stroke-width="1"/>
<polygon points="1261.05,101.90 1261.61,103.03 1262.86,103.21 1261.95,104.09 1262.17,105.34 1261.05,104.75 1259.93,105.34 1260.15,104.09 1259.24,103.21 1260.49,103.03" fill="#222"/>
<polygon points="1265.30,101.90 1265.86,103.03 1267.11,103.21 1266.20,104.09 1266.42,105.34 1265.30,104.75 1264.18,105.34 1264.40,104.09 1263.49,103.21 1264.74,103.03" fill="#222"/>
<polygon points="1269.55,101.90 1270.11,103.03 1271.36,103.21 1270.45,104.09 1270.67,105.34 1269.55,104.75 1268.43,105.34 1268.65,104.09 1267.74,103.21 1268.99,103.03" fill="#222"/>
<line x1="1258.70" x2="1258.70" y1="265.5" y2="280.4" stroke="#555" stroke-width="0.75"/>
<line x1="1258.70" x2="1258.70" y1="293.4" y2="309.9" stroke="#555" stroke-width="0.75"/>
<rect x="1255.70" y="280.4" width="6.00" height="13.00" fill="#EC2B2B" stroke="#333" stroke-width="0.75"/>
<line x1="1255.70" x2="1261.70" y1="286.4" y2="286.4" stroke="#222" stroke-width="1.3"/>
<circle cx="1258.70" cy="322.7" r="0.85" fill="#333"/>
<circle cx="1258.70" cy="329.9" r="0.85" fill="#333"/>
<line x1="1265.30" x2="1265.30" y1="256.2" y2="269.2" stroke="#555" stroke-width="0.75"/>
<line x1="1265.30" x2="1265.30" y1="280.4" y2="292.8" stroke="#555" stroke-width="0.75"/>
<rect x="1262.30" y="269.2" width="6.00" height="11.20" fill="#4A7DAC" stroke="#333" stroke-width="0.75"/>
<line x1="1262.30" x2="1268.30" y1="274.8" y2="274.8" stroke="#222" stroke-width="1.3"/>
<line x1="1271.90" x2="1271.90" y1="275.4" y2="289.2" stroke="#555" stroke-width="0.75"/>
<line x1="1271.90" x2="1271.90" y1="331.9" y2="356.4" stroke="#555" stroke-width="0.75"/>
<rect x="1268.90" y="289.2" width="6.00" height="42.70" fill="#418C5E" stroke="#333" stroke-width="0.75"/>
<line x1="1268.90" x2="1274.90" y1="307.4" y2="307.4" stroke="#222" stroke-width="1.3"/>
<text transform="translate(1261.30,486.70) rotate(-60)" font-size="18.5" fill="#4d4d4d" text-anchor="end" y="13.32" xml:space="preserve">Natural killer T cell</text>
<line x1="1293.5" x2="1293.5" y1="480.5" y2="483.7" stroke="#6e6e6e" stroke-width="1"/>
<polygon points="1293.17,101.90 1293.73,103.03 1294.98,103.21 1294.07,104.09 1294.29,105.34 1293.17,104.75 1292.05,105.34 1292.27,104.09 1291.36,103.21 1292.61,103.03" fill="#222"/>
<line x1="1286.57" x2="1286.57" y1="354.6" y2="377.4" stroke="#555" stroke-width="0.75"/>
<line x1="1286.57" x2="1286.57" y1="408.8" y2="435.3" stroke="#555" stroke-width="0.75"/>
<rect x="1283.57" y="377.4" width="6.00" height="31.40" fill="#EC2B2B" stroke="#333" stroke-width="0.75"/>
<line x1="1283.57" x2="1289.57" y1="393.4" y2="393.4" stroke="#222" stroke-width="1.3"/>
<line x1="1293.17" x2="1293.17" y1="355.5" y2="382.6" stroke="#555" stroke-width="0.75"/>
<line x1="1293.17" x2="1293.17" y1="406.2" y2="424.7" stroke="#555" stroke-width="0.75"/>
<rect x="1290.17" y="382.6" width="6.00" height="23.60" fill="#4A7DAC" stroke="#333" stroke-width="0.75"/>
<line x1="1290.17" x2="1296.17" y1="396" y2="396" stroke="#222" stroke-width="1.3"/>
<circle cx="1293.17" cy="341.8" r="0.85" fill="#333"/>
<line x1="1299.77" x2="1299.77" y1="361.2" y2="398.2" stroke="#555" stroke-width="0.75"/>
<line x1="1299.77" x2="1299.77" y1="426.7" y2="443.2" stroke="#555" stroke-width="0.75"/>
<rect x="1296.77" y="398.2" width="6.00" height="28.50" fill="#418C5E" stroke="#333" stroke-width="0.75"/>
<line x1="1296.77" x2="1302.77" y1="407.4" y2="407.4" stroke="#222" stroke-width="1.3"/>
<text transform="translate(1289.17,486.70) rotate(-60)" font-size="18.5" fill="#4d4d4d" text-anchor="end" y="13.32" xml:space="preserve">Neutrophil</text>
<line x1="1321.5" x2="1321.5" y1="480.5" y2="483.7" stroke="#6e6e6e" stroke-width="1"/>
<polygon points="1316.79,101.90 1317.35,103.03 1318.60,103.21 1317.69,104.09 1317.91,105.34 1316.79,104.75 1315.67,105.34 1315.89,104.09 1314.98,103.21 1316.23,103.03" fill="#222"/>
<polygon points="1321.04,101.90 1321.60,103.03 1322.85,103.21 1321.94,104.09 1322.16,105.34 1321.04,104.75 1319.92,105.34 1320.14,104.09 1319.23,103.21 1320.48,103.03" fill="#222"/>
<polygon points="1325.29,101.90 1325.85,103.03 1327.10,103.21 1326.19,104.09 1326.41,105.34 1325.29,104.75 1324.17,105.34 1324.39,104.09 1323.48,103.21 1324.73,103.03" fill="#222"/>
<line x1="1314.44" x2="1314.44" y1="180" y2="188.8" stroke="#555" stroke-width="0.75"/>
<line x1="1314.44" x2="1314.44" y1="203.4" y2="214.1" stroke="#555" stroke-width="0.75"/>
<rect x="1311.44" y="188.8" width="6.00" height="14.60" fill="#EC2B2B" stroke="#333" stroke-width="0.75"/>
<line x1="1311.44" x2="1317.44" y1="195.5" y2="195.5" stroke="#222" stroke-width="1.3"/>
<line x1="1321.04" x2="1321.04" y1="168.7" y2="179.4" stroke="#555" stroke-width="0.75"/>
<line x1="1321.04" x2="1321.04" y1="187.9" y2="200.6" stroke="#555" stroke-width="0.75"/>
<rect x="1318.04" y="179.4" width="6.00" height="8.50" fill="#4A7DAC" stroke="#333" stroke-width="0.75"/>
<line x1="1318.04" x2="1324.04" y1="183.1" y2="183.1" stroke="#222" stroke-width="1.3"/>
<line x1="1327.64" x2="1327.64" y1="175.2" y2="187.3" stroke="#555" stroke-width="0.75"/>
<line x1="1327.64" x2="1327.64" y1="204.8" y2="226" stroke="#555" stroke-width="0.75"/>
<rect x="1324.64" y="187.3" width="6.00" height="17.50" fill="#418C5E" stroke="#333" stroke-width="0.75"/>
<line x1="1324.64" x2="1330.64" y1="195" y2="195" stroke="#222" stroke-width="1.3"/>
<text transform="translate(1317.04,486.70) rotate(-60)" font-size="18.5" fill="#4d4d4d" text-anchor="end" y="13.32" xml:space="preserve">Plasmacytoid dendritic cell</text>
<line x1="1348.5" x2="1348.5" y1="480.5" y2="483.7" stroke="#6e6e6e" stroke-width="1"/>
<polygon points="1344.66,101.90 1345.22,103.03 1346.47,103.21 1345.56,104.09 1345.78,105.34 1344.66,104.75 1343.54,105.34 1343.76,104.09 1342.85,103.21 1344.10,103.03" fill="#222"/>
<polygon points="1348.91,101.90 1349.47,103.03 1350.72,103.21 1349.81,104.09 1350.03,105.34 1348.91,104.75 1347.79,105.34 1348.01,104.09 1347.10,103.21 1348.35,103.03" fill="#222"/>
<polygon points="1353.16,101.90 1353.72,103.03 1354.97,103.21 1354.06,104.09 1354.28,105.34 1353.16,104.75 1352.04,105.34 1352.26,104.09 1351.35,103.21 1352.60,103.03" fill="#222"/>
<line x1="1342.31" x2="1342.31" y1="197.2" y2="243.8" stroke="#555" stroke-width="0.75"/>
<line x1="1342.31" x2="1342.31" y1="287" y2="348.9" stroke="#555" stroke-width="0.75"/>
<rect x="1339.31" y="243.8" width="6.00" height="43.20" fill="#EC2B2B" stroke="#333" stroke-width="0.75"/>
<line x1="1339.31" x2="1345.31" y1="262.7" y2="262.7" stroke="#222" stroke-width="1.3"/>
<circle cx="1342.31" cy="358.9" r="0.85" fill="#333"/>
<line x1="1348.91" x2="1348.91" y1="152.6" y2="193" stroke="#555" stroke-width="0.75"/>
<line x1="1348.91" x2="1348.91" y1="221.8" y2="251.4" stroke="#555" stroke-width="0.75"/>
<rect x="1345.91" y="193" width="6.00" height="28.80" fill="#4A7DAC" stroke="#333" stroke-width="0.75"/>
<line x1="1345.91" x2="1351.91" y1="204.8" y2="204.8" stroke="#222" stroke-width="1.3"/>
<circle cx="1348.91" cy="266.3" r="0.85" fill="#333"/>
<circle cx="1348.91" cy="285.9" r="0.85" fill="#333"/>
<line x1="1355.51" x2="1355.51" y1="191.3" y2="259.3" stroke="#555" stroke-width="0.75"/>
<line x1="1355.51" x2="1355.51" y1="307.6" y2="335.6" stroke="#555" stroke-width="0.75"/>
<rect x="1352.51" y="259.3" width="6.00" height="48.30" fill="#418C5E" stroke="#333" stroke-width="0.75"/>
<line x1="1352.51" x2="1358.51" y1="290" y2="290" stroke="#222" stroke-width="1.3"/>
<text transform="translate(1344.91,486.70) rotate(-60)" font-size="18.5" fill="#4d4d4d" text-anchor="end" y="13.32" xml:space="preserve">Regulatory T cell</text>
<line x1="1376.5" x2="1376.5" y1="480.5" y2="483.7" stroke="#6e6e6e" stroke-width="1"/>
<polygon points="1372.53,101.90 1373.09,103.03 1374.34,103.21 1373.43,104.09 1373.65,105.34 1372.53,104.75 1371.41,105.34 1371.63,104.09 1370.72,103.21 1371.97,103.03" fill="#222"/>
<polygon points="1376.78,101.90 1377.34,103.03 1378.59,103.21 1377.68,104.09 1377.90,105.34 1376.78,104.75 1375.66,105.34 1375.88,104.09 1374.97,103.21 1376.22,103.03" fill="#222"/>
<polygon points="1381.03,101.90 1381.59,103.03 1382.84,103.21 1381.93,104.09 1382.15,105.34 1381.03,104.75 1379.91,105.34 1380.13,104.09 1379.22,103.21 1380.47,103.03" fill="#222"/>
<line x1="1370.18" x2="1370.18" y1="251.4" y2="271.1" stroke="#555" stroke-width="0.75"/>
<line x1="1370.18" x2="1370.18" y1="292" y2="314.2" stroke="#555" stroke-width="0.75"/>
<rect x="1367.18" y="271.1" width="6.00" height="20.90" fill="#EC2B2B" stroke="#333" stroke-width="0.75"/>
<line x1="1367.18" x2="1373.18" y1="278.2" y2="278.2" stroke="#222" stroke-width="1.3"/>
<circle cx="1370.18" cy="324.7" r="0.85" fill="#333"/>
<circle cx="1370.18" cy="331.9" r="0.85" fill="#333"/>
<line x1="1376.78" x2="1376.78" y1="230.2" y2="245.7" stroke="#555" stroke-width="0.75"/>
<line x1="1376.78" x2="1376.78" y1="259.3" y2="272" stroke="#555" stroke-width="0.75"/>
<rect x="1373.78" y="245.7" width="6.00" height="13.60" fill="#4A7DAC" stroke="#333" stroke-width="0.75"/>
<line x1="1373.78" x2="1379.78" y1="252.2" y2="252.2" stroke="#222" stroke-width="1.3"/>
<circle cx="1376.78" cy="222.3" r="0.85" fill="#333"/>
<circle cx="1376.78" cy="224.6" r="0.85" fill="#333"/>
<circle cx="1376.78" cy="280.4" r="0.85" fill="#333"/>
<line x1="1383.38" x2="1383.38" y1="257.9" y2="282.3" stroke="#555" stroke-width="0.75"/>
<line x1="1383.38" x2="1383.38" y1="299.4" y2="307.9" stroke="#555" stroke-width="0.75"/>
<rect x="1380.38" y="282.3" width="6.00" height="17.10" fill="#418C5E" stroke="#333" stroke-width="0.75"/>
<line x1="1380.38" x2="1386.38" y1="285.7" y2="285.7" stroke="#222" stroke-width="1.3"/>
<circle cx="1383.38" cy="246.6" r="0.85" fill="#333"/>
<circle cx="1383.38" cy="254.8" r="0.85" fill="#333"/>
<text transform="translate(1372.78,486.70) rotate(-60)" font-size="18.5" fill="#4d4d4d" text-anchor="end" y="13.32" xml:space="preserve">T follicular helper cell</text>
<line x1="1404.5" x2="1404.5" y1="480.5" y2="483.7" stroke="#6e6e6e" stroke-width="1"/>
<polygon points="1400.40,101.90 1400.96,103.03 1402.21,103.21 1401.30,104.09 1401.52,105.34 1400.40,104.75 1399.28,105.34 1399.50,104.09 1398.59,103.21 1399.84,103.03" fill="#222"/>
<polygon points="1404.65,101.90 1405.21,103.03 1406.46,103.21 1405.55,104.09 1405.77,105.34 1404.65,104.75 1403.53,105.34 1403.75,104.09 1402.84,103.21 1404.09,103.03" fill="#222"/>
<polygon points="1408.90,101.90 1409.46,103.03 1410.71,103.21 1409.80,104.09 1410.02,105.34 1408.90,104.75 1407.78,105.34 1408.00,104.09 1407.09,103.21 1408.34,103.03" fill="#222"/>
<line x1="1398.05" x2="1398.05" y1="256.2" y2="267.5" stroke="#555" stroke-width="0.75"/>
<line x1="1398.05" x2="1398.05" y1="282.8" y2="303.4" stroke="#555" stroke-width="0.75"/>
<rect x="1395.05" y="267.5" width="6.00" height="15.30" fill="#EC2B2B" stroke="#333" stroke-width="0.75"/>
<line x1="1395.05" x2="1401.05" y1="274.8" y2="274.8" stroke="#222" stroke-width="1.3"/>
<circle cx="1398.05" cy="315.6" r="0.85" fill="#333"/>
<circle cx="1398.05" cy="319.3" r="0.85" fill="#333"/>
<line x1="1404.65" x2="1404.65" y1="222.6" y2="245.7" stroke="#555" stroke-width="0.75"/>
<line x1="1404.65" x2="1404.65" y1="262.7" y2="280.4" stroke="#555" stroke-width="0.75"/>
<rect x="1401.65" y="245.7" width="6.00" height="17.00" fill="#4A7DAC" stroke="#333" stroke-width="0.75"/>
<line x1="1401.65" x2="1407.65" y1="255" y2="255" stroke="#222" stroke-width="1.3"/>
<line x1="1411.25" x2="1411.25" y1="248.6" y2="273.1" stroke="#555" stroke-width="0.75"/>
<line x1="1411.25" x2="1411.25" y1="322.7" y2="353.2" stroke="#555" stroke-width="0.75"/>
<rect x="1408.25" y="273.1" width="6.00" height="49.60" fill="#418C5E" stroke="#333" stroke-width="0.75"/>
<line x1="1408.25" x2="1414.25" y1="291.4" y2="291.4" stroke="#222" stroke-width="1.3"/>
<text transform="translate(1400.65,486.70) rotate(-60)" font-size="18.5" fill="#4d4d4d" text-anchor="end" y="13.32" xml:space="preserve">Type 1 T helper cell</text>
<line x1="1432.5" x2="1432.5" y1="480.5" y2="483.7" stroke="#6e6e6e" stroke-width="1"/>
<polygon points="1428.27,101.90 1428.83,103.03 1430.08,103.21 1429.17,104.09 1429.39,105.34 1428.27,104.75 1427.15,105.34 1427.37,104.09 1426.46,103.21 1427.71,103.03" fill="#222"/>
<polygon points="1432.52,101.90 1433.08,103.03 1434.33,103.21 1433.42,104.09 1433.64,105.34 1432.52,104.75 1431.40,105.34 1431.62,104.09 1430.71,103.21 1431.96,103.03" fill="#222"/>
<polygon points="1436.77,101.90 1437.33,103.03 1438.58,103.21 1437.67,104.09 1437.89,105.34 1436.77,104.75 1435.65,105.34 1435.87,104.09 1434.96,103.21 1436.21,103.03" fill="#222"/>
<line x1="1425.92" x2="1425.92" y1="281" y2="300.8" stroke="#555" stroke-width="0.75"/>
<line x1="1425.92" x2="1425.92" y1="318.5" y2="345.5" stroke="#555" stroke-width="0.75"/>
<rect x="1422.92" y="300.8" width="6.00" height="17.70" fill="#EC2B2B" stroke="#333" stroke-width="0.75"/>
<line x1="1422.92" x2="1428.92" y1="310.8" y2="310.8" stroke="#222" stroke-width="1.3"/>
<line x1="1432.52" x2="1432.52" y1="296.5" y2="311.3" stroke="#555" stroke-width="0.75"/>
<line x1="1432.52" x2="1432.52" y1="327.6" y2="348.4" stroke="#555" stroke-width="0.75"/>
<rect x="1429.52" y="311.3" width="6.00" height="16.30" fill="#4A7DAC" stroke="#333" stroke-width="0.75"/>
<line x1="1429.52" x2="1435.52" y1="319.3" y2="319.3" stroke="#222" stroke-width="1.3"/>
<line x1="1439.12" x2="1439.12" y1="299.9" y2="314.2" stroke="#555" stroke-width="0.75"/>
<line x1="1439.12" x2="1439.12" y1="334.1" y2="347.5" stroke="#555" stroke-width="0.75"/>
<rect x="1436.12" y="314.2" width="6.00" height="19.90" fill="#418C5E" stroke="#333" stroke-width="0.75"/>
<line x1="1436.12" x2="1442.12" y1="317" y2="317" stroke="#222" stroke-width="1.3"/>
<text transform="translate(1428.52,486.70) rotate(-60)" font-size="18.5" fill="#4d4d4d" text-anchor="end" y="13.32" xml:space="preserve">Type 17 T helper cell</text>
<line x1="1460.5" x2="1460.5" y1="480.5" y2="483.7" stroke="#6e6e6e" stroke-width="1"/>
<polygon points="1456.14,101.90 1456.70,103.03 1457.95,103.21 1457.04,104.09 1457.26,105.34 1456.14,104.75 1455.02,105.34 1455.24,104.09 1454.33,103.21 1455.58,103.03" fill="#222"/>
<polygon points="1460.39,101.90 1460.95,103.03 1462.20,103.21 1461.29,104.09 1461.51,105.34 1460.39,104.75 1459.27,105.34 1459.49,104.09 1458.58,103.21 1459.83,103.03" fill="#222"/>
<polygon points="1464.64,101.90 1465.20,103.03 1466.45,103.21 1465.54,104.09 1465.76,105.34 1464.64,104.75 1463.52,105.34 1463.74,104.09 1462.83,103.21 1464.08,103.03" fill="#222"/>
<line x1="1453.79" x2="1453.79" y1="268.9" y2="289.4" stroke="#555" stroke-width="0.75"/>
<line x1="1453.79" x2="1453.79" y1="305.1" y2="325" stroke="#555" stroke-width="0.75"/>
<rect x="1450.79" y="289.4" width="6.00" height="15.70" fill="#EC2B2B" stroke="#333" stroke-width="0.75"/>
<line x1="1450.79" x2="1456.79" y1="297.1" y2="297.1" stroke="#222" stroke-width="1.3"/>
<line x1="1460.39" x2="1460.39" y1="268.9" y2="286.3" stroke="#555" stroke-width="0.75"/>
<line x1="1460.39" x2="1460.39" y1="302.2" y2="313.6" stroke="#555" stroke-width="0.75"/>
<rect x="1457.39" y="286.3" width="6.00" height="15.90" fill="#4A7DAC" stroke="#333" stroke-width="0.75"/>
<line x1="1457.39" x2="1463.39" y1="293.7" y2="293.7" stroke="#222" stroke-width="1.3"/>
<line x1="1466.99" x2="1466.99" y1="278.2" y2="300.8" stroke="#555" stroke-width="0.75"/>
<line x1="1466.99" x2="1466.99" y1="333" y2="374.9" stroke="#555" stroke-width="0.75"/>
<rect x="1463.99" y="300.8" width="6.00" height="32.20" fill="#418C5E" stroke="#333" stroke-width="0.75"/>
<line x1="1463.99" x2="1469.99" y1="321.3" y2="321.3" stroke="#222" stroke-width="1.3"/>
<text transform="translate(1456.39,486.70) rotate(-60)" font-size="18.5" fill="#4d4d4d" text-anchor="end" y="13.32" xml:space="preserve">Type 2 T helper cell</text>
<text transform="translate(904.00,70.60)" font-size="19.2" fill="#111" xml:space="preserve">cluster</text>
<line x1="984.7" x2="984.7" y1="51.3" y2="75.9" stroke="#333" stroke-width="1"/>
<rect x="973.2" y="56.2" width="22.8" height="15.2" fill="#EC2B2B" stroke="#333" stroke-width="0.9"/>
<line x1="973.2" x2="996.0" y1="63.6" y2="63.6" stroke="#333" stroke-width="1.3"/>
<text transform="translate(1009.00,70.20)" font-size="15.5" fill="#111" xml:space="preserve">cluster1</text>
<line x1="1088.2" x2="1088.2" y1="51.3" y2="75.9" stroke="#333" stroke-width="1"/>
<rect x="1076.7" y="56.2" width="22.8" height="15.2" fill="#4A7DAC" stroke="#333" stroke-width="0.9"/>
<line x1="1076.7" x2="1099.5" y1="63.6" y2="63.6" stroke="#333" stroke-width="1.3"/>
<text transform="translate(1112.60,70.20)" font-size="15.5" fill="#111" xml:space="preserve">cluster2</text>
<line x1="1192.0" x2="1192.0" y1="51.3" y2="75.9" stroke="#333" stroke-width="1"/>
<rect x="1180.5" y="56.2" width="22.8" height="15.2" fill="#418C5E" stroke="#333" stroke-width="0.9"/>
<line x1="1180.5" x2="1203.3" y1="63.6" y2="63.6" stroke="#333" stroke-width="1.3"/>
<text transform="translate(1216.30,70.20)" font-size="15.5" fill="#111" xml:space="preserve">cluster3</text>
</svg></body></html>
